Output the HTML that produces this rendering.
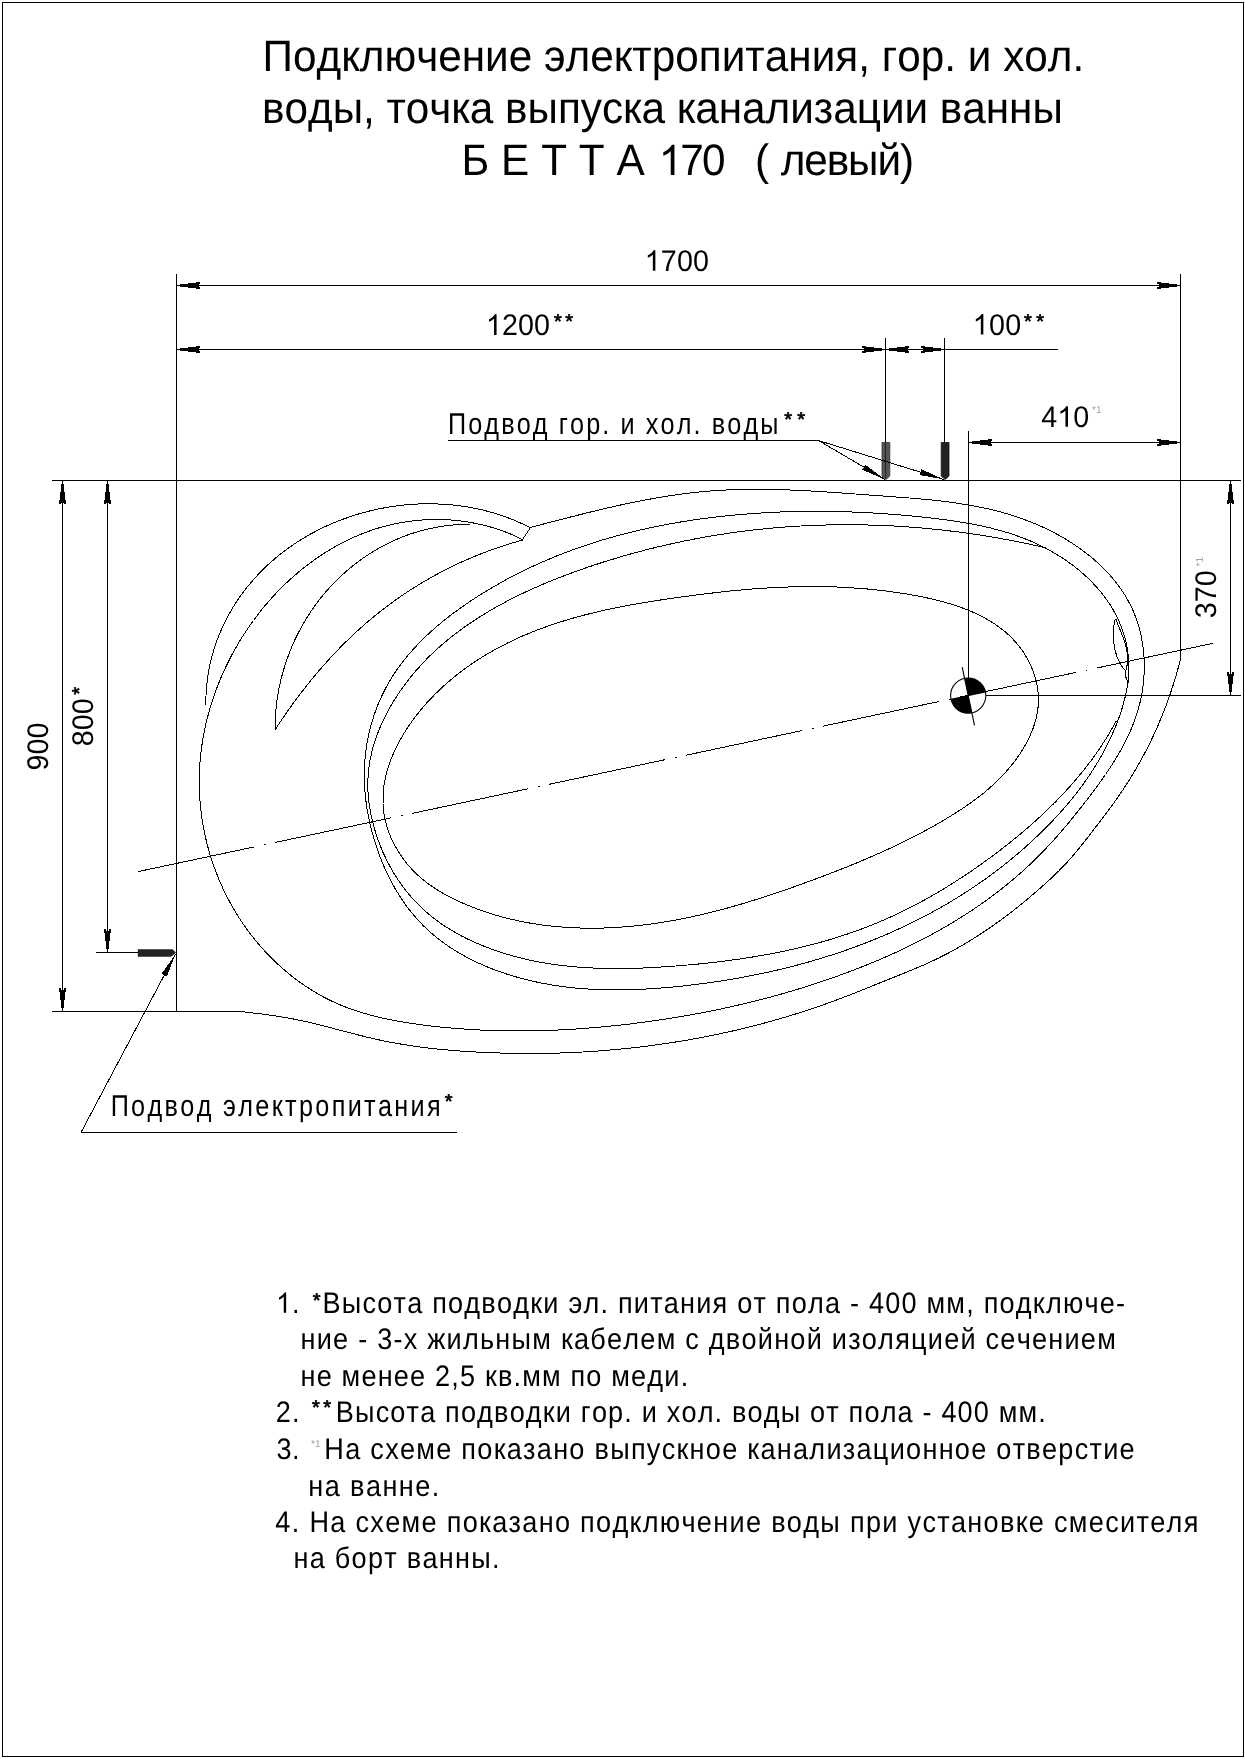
<!DOCTYPE html>
<html><head><meta charset="utf-8"><title>Бетта 170 левый</title>
<style>
html,body{margin:0;padding:0;background:#fff;}
body{width:1245px;height:1759px;overflow:hidden;}
svg{display:block;filter:grayscale(1);}
text{font-family:"Liberation Sans",sans-serif;fill:#000;white-space:pre;font-kerning:none;text-rendering:geometricPrecision;}
</style></head><body>
<svg width="1245" height="1759" viewBox="0 0 1245 1759">
<rect x="0" y="0" width="1245" height="1759" fill="#fff"/>

<rect x="2.5" y="2.5" width="1241" height="1754" fill="none" stroke="#000" stroke-width="1" shape-rendering="crispEdges"/>
<g stroke="#000" stroke-width="1" fill="none" shape-rendering="crispEdges">
<line x1="176.5" y1="274.0" x2="176.5" y2="1011.5"/>
<line x1="1180.5" y1="274.0" x2="1180.5" y2="659.0"/>
<line x1="52.0" y1="480.5" x2="1241.0" y2="480.5"/>
<line x1="52.0" y1="1011.5" x2="240.0" y2="1011.5"/>
<line x1="96.0" y1="952.5" x2="138.0" y2="952.5"/>
<line x1="885.5" y1="338.0" x2="885.5" y2="443.0"/>
<line x1="944.5" y1="338.0" x2="944.5" y2="443.0"/>
<line x1="968.5" y1="431.0" x2="968.5" y2="678.0"/>
<line x1="986.0" y1="695.5" x2="1241.0" y2="695.5"/>
<line x1="176.5" y1="285.5" x2="1180.5" y2="285.5"/>
<line x1="176.5" y1="349.5" x2="1057.5" y2="349.5"/>
<line x1="968.5" y1="442.5" x2="1180.5" y2="442.5"/>
<line x1="62.5" y1="480.5" x2="62.5" y2="1011.5"/>
<line x1="107.5" y1="480.5" x2="107.5" y2="952.5"/>
<line x1="1230.5" y1="480.5" x2="1230.5" y2="695.5"/>
<line x1="448.0" y1="440.5" x2="818.5" y2="440.5"/>
<line x1="818.5" y1="440.5" x2="885.0" y2="479.5"/>
<line x1="818.5" y1="440.5" x2="944.0" y2="479.5"/>
<line x1="81.0" y1="1132.5" x2="457.0" y2="1132.5"/>
<line x1="81.0" y1="1132.5" x2="175.5" y2="954.0"/>
</g>
<g stroke="#000" stroke-width="1" fill="none" shape-rendering="crispEdges">
<path d="M205.8,704.6 C205.8,704.1 205.8,702.6 205.9,701.6 C205.9,700.6 205.9,699.6 205.9,698.6 C205.9,697.6 206.0,696.6 206.0,695.6 C206.1,694.6 206.1,693.6 206.2,692.6 C206.2,691.6 206.3,690.6 206.4,689.6 C206.4,688.6 206.5,687.6 206.6,686.6 C206.7,685.6 206.8,684.6 206.9,683.6 C207.0,682.6 207.1,681.6 207.3,680.6 C207.4,679.6 207.5,678.6 207.7,677.6 C207.8,676.6 207.9,675.6 208.1,674.6 C208.3,673.6 208.4,672.7 208.6,671.7 C208.8,670.7 209.0,669.7 209.1,668.7 C209.3,667.7 209.5,666.7 209.7,665.8 C209.9,664.8 210.1,663.8 210.4,662.8 C210.6,661.9 210.8,660.9 211.1,659.9 C211.3,658.9 211.5,658.0 211.8,657.0 C212.1,656.0 212.3,655.1 212.6,654.1 C212.9,653.1 213.1,652.2 213.4,651.2 C213.7,650.2 214.0,649.3 214.3,648.3 C214.6,647.4 214.9,646.4 215.2,645.5 C215.5,644.5 215.9,643.6 216.2,642.6 C216.5,641.7 216.9,640.7 217.2,639.8 C217.6,638.9 217.9,637.9 218.3,637.0 C218.7,636.0 219.0,635.1 219.4,634.2 C219.8,633.3 220.2,632.3 220.6,631.4 C221.0,630.5 221.4,629.6 221.8,628.7 C222.2,627.7 222.6,626.8 223.0,625.9 C223.4,625.0 223.9,624.1 224.3,623.2 C224.7,622.3 225.2,621.4 225.6,620.5 C226.1,619.6 226.6,618.7 227.0,617.8 C227.5,617.0 228.0,616.1 228.4,615.2 C228.9,614.3 229.4,613.4 229.9,612.6 C230.4,611.7 230.9,610.8 231.4,610.0 C231.9,609.1 232.4,608.2 233.0,607.4 C233.5,606.5 234.0,605.7 234.6,604.8 C235.1,604.0 235.6,603.1 236.2,602.3 C236.7,601.5 237.3,600.6 237.8,599.8 C238.4,599.0 239.0,598.1 239.5,597.3 C240.1,596.5 240.7,595.7 241.3,594.9 C241.9,594.1 242.5,593.3 243.1,592.5 C243.7,591.6 244.3,590.8 244.9,590.1 C245.5,589.3 246.1,588.5 246.7,587.7 C247.4,586.9 248.0,586.1 248.6,585.3 C249.3,584.6 249.9,583.8 250.6,583.0 C251.2,582.3 251.8,581.5 252.5,580.8 C253.2,580.0 253.8,579.2 254.5,578.5 C255.2,577.8 255.8,577.0 256.5,576.3 C257.2,575.5 257.9,574.8 258.6,574.1 C259.3,573.4 260.0,572.6 260.7,571.9 C261.4,571.2 262.1,570.5 262.8,569.8 C263.5,569.1 264.2,568.4 264.9,567.7 C265.7,567.0 266.4,566.3 267.1,565.6 C267.8,564.9 268.6,564.2 269.3,563.6 C270.1,562.9 270.8,562.2 271.6,561.6 C272.3,560.9 273.1,560.2 273.8,559.6 C274.6,558.9 275.4,558.3 276.1,557.6 C276.9,557.0 277.7,556.4 278.4,555.7 C279.2,555.1 280.0,554.5 280.8,553.9 C281.6,553.2 282.4,552.6 283.2,552.0 C284.0,551.4 284.8,550.8 285.6,550.2 C286.4,549.6 287.2,549.0 288.0,548.4 C288.8,547.8 289.6,547.3 290.4,546.7 C291.3,546.1 292.1,545.5 292.9,545.0 C293.7,544.4 294.6,543.8 295.4,543.3 C296.2,542.7 297.1,542.2 297.9,541.6 C298.8,541.1 299.6,540.6 300.5,540.0 C301.3,539.5 302.2,539.0 303.0,538.5 C303.9,537.9 304.7,537.4 305.6,536.9 C306.5,536.4 307.3,535.9 308.2,535.4 C309.1,534.9 310.0,534.4 310.8,533.9 C311.7,533.5 312.6,533.0 313.5,532.5 C314.4,532.0 315.2,531.6 316.1,531.1 C317.0,530.6 317.9,530.2 318.8,529.7 C319.7,529.3 320.6,528.8 321.5,528.4 C322.4,528.0 323.3,527.5 324.2,527.1 C325.1,526.7 326.0,526.3 326.9,525.8 C327.9,525.4 328.8,525.0 329.7,524.6 C330.6,524.2 331.5,523.8 332.5,523.4 C333.4,523.0 334.3,522.6 335.2,522.3 C336.2,521.9 337.1,521.5 338.0,521.1 C338.9,520.8 339.9,520.4 340.8,520.0 C341.8,519.7 342.7,519.3 343.6,519.0 C344.6,518.6 345.5,518.3 346.5,518.0 C347.4,517.6 348.3,517.3 349.3,517.0 C350.2,516.6 351.2,516.3 352.1,516.0 C353.1,515.7 354.1,515.4 355.0,515.1 C356.0,514.8 356.9,514.5 357.9,514.2 C358.8,513.9 359.8,513.7 360.8,513.4 C361.7,513.1 362.7,512.8 363.7,512.6 C364.6,512.3 365.6,512.0 366.6,511.8 C367.5,511.5 368.5,511.3 369.5,511.0 C370.5,510.8 371.4,510.6 372.4,510.3 C373.4,510.1 374.4,509.9 375.3,509.7 C376.3,509.5 377.3,509.2 378.3,509.0 C379.3,508.8 380.2,508.6 381.2,508.4 C382.2,508.2 383.2,508.1 384.2,507.9 C385.2,507.7 386.2,507.5 387.1,507.3 C388.1,507.2 389.1,507.0 390.1,506.9 C391.1,506.7 392.1,506.5 393.1,506.4 C394.1,506.3 395.1,506.1 396.1,506.0 C397.0,505.8 398.0,505.7 399.0,505.6 C400.0,505.5 401.0,505.4 402.0,505.3 C403.0,505.1 404.0,505.0 405.0,504.9 C406.0,504.8 407.0,504.8 408.0,504.7 C409.0,504.6 410.0,504.5 411.0,504.4 C412.0,504.4 413.0,504.3 414.0,504.2 C415.0,504.2 416.0,504.1 417.0,504.1 C418.0,504.0 419.0,504.0 420.0,503.9 C421.0,503.9 422.0,503.9 423.0,503.8 C424.0,503.8 425.0,503.8 426.0,503.8 C427.0,503.8 428.0,503.8 429.0,503.8 C430.0,503.8 431.0,503.8 432.0,503.8 C433.0,503.8 434.0,503.8 435.0,503.9 C436.0,503.9 437.0,503.9 438.1,504.0 C439.1,504.0 440.1,504.0 441.1,504.1 C442.1,504.1 443.1,504.2 444.1,504.3 C445.1,504.3 446.1,504.4 447.1,504.5 C448.1,504.5 449.1,504.6 450.1,504.7 C451.1,504.8 452.0,504.9 453.0,505.0 C454.0,505.1 455.0,505.2 456.0,505.3 C457.0,505.5 458.0,505.6 459.0,505.7 C460.0,505.8 461.0,506.0 462.0,506.1 C463.0,506.2 464.0,506.4 465.0,506.5 C466.0,506.7 467.0,506.9 467.9,507.0 C468.9,507.2 469.9,507.4 470.9,507.6 C471.9,507.7 472.9,507.9 473.9,508.1 C474.8,508.3 475.8,508.5 476.8,508.7 C477.8,508.9 478.8,509.1 479.7,509.4 C480.7,509.6 481.7,509.8 482.7,510.0 C483.6,510.3 484.6,510.5 485.6,510.8 C486.6,511.0 487.5,511.3 488.5,511.5 C489.5,511.8 490.4,512.0 491.4,512.3 C492.4,512.6 493.3,512.9 494.3,513.2 C495.2,513.4 496.2,513.7 497.2,514.0 C498.1,514.3 499.1,514.7 500.0,515.0 C501.0,515.3 501.9,515.6 502.9,515.9 C503.8,516.3 504.8,516.6 505.7,516.9 C506.6,517.3 507.6,517.6 508.5,518.0 C509.5,518.3 510.4,518.7 511.3,519.1 C512.3,519.4 513.2,519.8 514.1,520.2 C515.0,520.6 516.0,521.0 516.9,521.4 C517.8,521.7 518.7,522.2 519.6,522.6 C520.6,523.0 521.5,523.4 522.4,523.8 C523.3,524.2 524.2,524.7 525.1,525.1 C526.0,525.5 526.9,526.0 527.8,526.4 C528.7,526.9 530.0,527.6 530.5,527.8"/>
<path d="M530.7,527.4 C531.2,527.2 532.6,526.9 533.6,526.6 C534.6,526.4 535.5,526.1 536.5,525.9 C537.5,525.6 538.5,525.3 539.4,525.1 C540.4,524.8 541.4,524.6 542.3,524.3 C543.3,524.1 544.3,523.8 545.2,523.6 C546.2,523.3 547.2,523.1 548.1,522.8 C549.1,522.6 550.1,522.3 551.0,522.1 C552.0,521.8 553.0,521.5 553.9,521.3 C554.9,521.0 555.9,520.8 556.9,520.5 C557.8,520.3 558.8,520.0 559.8,519.8 C560.7,519.5 561.7,519.3 562.7,519.0 C563.6,518.8 564.6,518.5 565.6,518.3 C566.5,518.0 567.5,517.8 568.5,517.5 C569.5,517.3 570.4,517.0 571.4,516.8 C572.4,516.5 573.3,516.3 574.3,516.1 C575.3,515.8 576.2,515.6 577.2,515.3 C578.2,515.1 579.2,514.8 580.1,514.6 C581.1,514.3 582.1,514.1 583.0,513.9 C584.0,513.6 585.0,513.4 586.0,513.1 C586.9,512.9 587.9,512.7 588.9,512.4 C589.8,512.2 590.8,511.9 591.8,511.7 C592.8,511.5 593.7,511.2 594.7,511.0 C595.7,510.8 596.7,510.5 597.6,510.3 C598.6,510.1 599.6,509.8 600.5,509.6 C601.5,509.4 602.5,509.1 603.5,508.9 C604.4,508.7 605.4,508.4 606.4,508.2 C607.4,508.0 608.3,507.8 609.3,507.5 C610.3,507.3 611.3,507.1 612.2,506.9 C613.2,506.7 614.2,506.4 615.2,506.2 C616.2,506.0 617.1,505.8 618.1,505.6 C619.1,505.3 620.1,505.1 621.0,504.9 C622.0,504.7 623.0,504.5 624.0,504.3 C625.0,504.1 625.9,503.9 626.9,503.7 C627.9,503.4 628.9,503.2 629.8,503.0 C630.8,502.8 631.8,502.6 632.8,502.4 C633.8,502.2 634.8,502.0 635.7,501.8 C636.7,501.6 637.7,501.4 638.7,501.2 C639.7,501.0 640.6,500.9 641.6,500.7 C642.6,500.5 643.6,500.3 644.6,500.1 C645.6,499.9 646.5,499.7 647.5,499.5 C648.5,499.4 649.5,499.2 650.5,499.0 C651.5,498.8 652.4,498.6 653.4,498.5 C654.4,498.3 655.4,498.1 656.4,497.9 C657.4,497.8 658.4,497.6 659.3,497.4 C660.3,497.3 661.3,497.1 662.3,496.9 C663.3,496.8 664.3,496.6 665.3,496.5 C666.3,496.3 667.3,496.1 668.2,496.0 C669.2,495.8 670.2,495.7 671.2,495.5 C672.2,495.4 673.2,495.2 674.2,495.1 C675.2,494.9 676.2,494.8 677.2,494.7 C678.1,494.5 679.1,494.4 680.1,494.2 C681.1,494.1 682.1,494.0 683.1,493.9 C684.1,493.7 685.1,493.6 686.1,493.5 C687.1,493.3 688.1,493.2 689.1,493.1 C690.1,493.0 691.1,492.9 692.0,492.8 C693.0,492.6 694.0,492.5 695.0,492.4 C696.0,492.3 697.0,492.2 698.0,492.1 C699.0,492.0 700.0,491.9 701.0,491.8 C702.0,491.7 703.0,491.6 704.0,491.5 C705.0,491.4 706.0,491.4 707.0,491.3 C708.0,491.2 709.0,491.1 710.0,491.0 C711.0,490.9 712.0,490.9 713.0,490.8 C714.0,490.7 715.0,490.7 716.0,490.6 C717.0,490.5 718.0,490.5 719.0,490.4 C720.0,490.3 721.0,490.3 722.0,490.2 C723.0,490.2 724.0,490.1 725.0,490.1 C726.0,490.0 727.0,490.0 728.0,489.9 C729.0,489.9 730.0,489.8 731.0,489.8 C732.0,489.8 733.0,489.7 734.0,489.7 C735.0,489.7 736.0,489.6 737.0,489.6 C738.0,489.6 739.0,489.5 740.0,489.5 C741.0,489.5 742.0,489.5 743.0,489.4 C744.0,489.4 745.0,489.4 746.0,489.4 C747.0,489.4 748.0,489.4 749.0,489.4 C750.0,489.3 751.0,489.3 752.0,489.3 C753.0,489.3 754.0,489.3 755.0,489.3 C756.0,489.3 757.0,489.3 758.0,489.3 C759.0,489.3 760.0,489.3 761.0,489.3 C762.0,489.3 763.0,489.3 764.0,489.4 C765.0,489.4 766.0,489.4 767.0,489.4 C768.0,489.4 769.0,489.4 770.0,489.4 C771.0,489.5 772.0,489.5 773.0,489.5 C774.0,489.5 775.0,489.5 776.0,489.6 C777.0,489.6 778.0,489.6 779.0,489.6 C780.0,489.7 781.0,489.7 782.0,489.7 C783.0,489.8 784.0,489.8 785.0,489.8 C786.0,489.9 787.0,489.9 788.0,489.9 C789.0,490.0 790.0,490.0 791.0,490.1 C792.0,490.1 793.0,490.1 794.0,490.2 C795.0,490.2 796.0,490.3 797.0,490.3 C798.0,490.4 799.0,490.4 800.0,490.5 C801.0,490.5 802.0,490.5 803.0,490.6 C804.0,490.7 805.0,490.7 806.0,490.8 C807.0,490.8 808.0,490.9 809.0,490.9 C810.0,491.0 811.0,491.0 812.0,491.1 C813.0,491.1 814.0,491.2 815.0,491.3 C816.0,491.3 817.0,491.4 818.0,491.4 C819.0,491.5 820.0,491.6 821.0,491.6 C822.0,491.7 823.0,491.7 824.0,491.8 C825.0,491.9 826.0,491.9 827.0,492.0 C828.0,492.1 829.0,492.1 830.0,492.2 C831.0,492.3 832.0,492.3 833.0,492.4 C834.0,492.5 835.0,492.5 836.0,492.6 C837.0,492.7 838.0,492.7 839.0,492.8 C840.0,492.9 841.0,493.0 842.0,493.0 C843.0,493.1 844.0,493.2 845.0,493.2 C846.0,493.3 847.0,493.4 848.0,493.5 C849.0,493.5 850.0,493.6 851.0,493.7 C852.0,493.7 852.9,493.8 853.9,493.9 C854.9,494.0 855.9,494.0 856.9,494.1 C857.9,494.2 858.9,494.3 859.9,494.3 C860.9,494.4 861.9,494.5 862.9,494.6 C863.9,494.6 864.9,494.7 865.9,494.8 C866.9,494.8 867.9,494.9 868.9,495.0 C869.9,495.1 870.9,495.1 871.9,495.2 C872.9,495.3 873.9,495.4 874.9,495.4 C875.9,495.5 876.9,495.6 877.9,495.6 C878.9,495.7 879.9,495.8 880.9,495.9 C881.9,495.9 882.9,496.0 883.9,496.1 C884.9,496.2 885.9,496.2 886.9,496.3 C887.9,496.4 888.9,496.4 889.9,496.5 C890.9,496.6 891.9,496.7 892.9,496.7 C893.9,496.8 894.9,496.9 895.9,497.0 C896.9,497.0 897.9,497.1 898.9,497.2 C899.9,497.2 900.9,497.3 901.9,497.4 C902.9,497.5 903.9,497.6 904.9,497.6 C905.9,497.7 906.9,497.8 907.9,497.9 C908.9,498.0 909.8,498.0 910.8,498.1 C911.8,498.2 912.8,498.3 913.8,498.4 C914.8,498.4 915.8,498.5 916.8,498.6 C917.8,498.7 918.8,498.8 919.8,498.9 C920.8,499.0 921.8,499.1 922.8,499.2 C923.8,499.3 924.8,499.3 925.8,499.4 C926.8,499.5 927.8,499.6 928.8,499.7 C929.8,499.8 930.8,499.9 931.8,500.0 C932.8,500.1 933.8,500.2 934.8,500.4 C935.8,500.5 936.8,500.6 937.7,500.7 C938.7,500.8 939.7,500.9 940.7,501.0 C941.7,501.1 942.7,501.3 943.7,501.4 C944.7,501.5 945.7,501.6 946.7,501.8 C947.7,501.9 948.7,502.0 949.7,502.1 C950.7,502.3 951.7,502.4 952.6,502.5 C953.6,502.7 954.6,502.8 955.6,503.0 C956.6,503.1 957.6,503.3 958.6,503.4 C959.6,503.5 960.6,503.7 961.6,503.9 C962.5,504.0 963.5,504.2 964.5,504.3 C965.5,504.5 966.5,504.7 967.5,504.8 C968.5,505.0 969.5,505.2 970.4,505.3 C971.4,505.5 972.4,505.7 973.4,505.9 C974.4,506.1 975.4,506.2 976.4,506.4 C977.3,506.6 978.3,506.8 979.3,507.0 C980.3,507.2 981.3,507.4 982.2,507.6 C983.2,507.8 984.2,508.0 985.2,508.3 C986.2,508.5 987.1,508.7 988.1,508.9 C989.1,509.1 990.1,509.4 991.0,509.6 C992.0,509.8 993.0,510.1 993.9,510.3 C994.9,510.5 995.9,510.8 996.9,511.0 C997.8,511.3 998.8,511.5 999.8,511.8 C1000.7,512.0 1001.7,512.3 1002.7,512.6 C1003.6,512.8 1004.6,513.1 1005.6,513.4 C1006.5,513.7 1007.5,514.0 1008.4,514.2 C1009.4,514.5 1010.4,514.8 1011.3,515.1 C1012.3,515.4 1013.2,515.7 1014.2,516.0 C1015.1,516.3 1016.1,516.6 1017.0,517.0 C1018.0,517.3 1018.9,517.6 1019.9,517.9 C1020.8,518.3 1021.8,518.6 1022.7,518.9 C1023.6,519.3 1024.6,519.6 1025.5,520.0 C1026.5,520.3 1027.4,520.7 1028.3,521.0 C1029.3,521.4 1030.2,521.8 1031.1,522.1 C1032.0,522.5 1033.0,522.9 1033.9,523.3 C1034.8,523.6 1035.7,524.0 1036.7,524.4 C1037.6,524.8 1038.5,525.2 1039.4,525.6 C1040.3,526.0 1041.3,526.4 1042.2,526.9 C1043.1,527.3 1044.0,527.7 1044.9,528.1 C1045.8,528.5 1046.7,529.0 1047.6,529.4 C1048.5,529.9 1049.4,530.3 1050.3,530.7 C1051.2,531.2 1052.1,531.6 1053.0,532.1 C1053.8,532.6 1054.7,533.0 1055.6,533.5 C1056.5,534.0 1057.4,534.5 1058.3,534.9 C1059.1,535.4 1060.0,535.9 1060.9,536.4 C1061.7,536.9 1062.6,537.4 1063.5,537.9 C1064.3,538.4 1065.2,538.9 1066.1,539.4 C1066.9,540.0 1067.8,540.5 1068.6,541.0 C1069.5,541.5 1070.3,542.1 1071.2,542.6 C1072.0,543.2 1072.8,543.7 1073.7,544.3 C1074.5,544.8 1075.3,545.4 1076.2,545.9 C1077.0,546.5 1077.8,547.1 1078.6,547.6 C1079.5,548.2 1080.3,548.8 1081.1,549.4 C1081.9,550.0 1082.7,550.6 1083.5,551.2 C1084.3,551.8 1085.1,552.4 1085.9,553.0 C1086.7,553.6 1087.5,554.2 1088.3,554.8 C1089.0,555.4 1089.8,556.1 1090.6,556.7 C1091.4,557.3 1092.1,558.0 1092.9,558.6 C1093.7,559.3 1094.4,559.9 1095.2,560.6 C1095.9,561.3 1096.7,561.9 1097.4,562.6 C1098.2,563.3 1098.9,563.9 1099.6,564.6 C1100.4,565.3 1101.1,566.0 1101.8,566.7 C1102.5,567.4 1103.2,568.1 1103.9,568.8 C1104.6,569.5 1105.3,570.2 1106.0,571.0 C1106.7,571.7 1107.4,572.4 1108.1,573.1 C1108.8,573.9 1109.4,574.6 1110.1,575.4 C1110.8,576.1 1111.4,576.9 1112.1,577.6 C1112.7,578.4 1113.4,579.2 1114.0,579.9 C1114.6,580.7 1115.3,581.5 1115.9,582.3 C1116.5,583.1 1117.1,583.9 1117.7,584.7 C1118.3,585.5 1118.9,586.3 1119.5,587.1 C1120.1,587.9 1120.7,588.7 1121.2,589.5 C1121.8,590.4 1122.4,591.2 1122.9,592.0 C1123.5,592.9 1124.0,593.7 1124.5,594.6 C1125.1,595.4 1125.6,596.3 1126.1,597.1 C1126.6,598.0 1127.1,598.8 1127.6,599.7 C1128.1,600.6 1128.6,601.5 1129.0,602.4 C1129.5,603.2 1130.0,604.1 1130.4,605.0 C1130.9,605.9 1131.3,606.8 1131.7,607.7 C1132.1,608.6 1132.6,609.5 1133.0,610.5 C1133.4,611.4 1133.8,612.3 1134.1,613.2 C1134.5,614.1 1134.9,615.1 1135.2,616.0 C1135.6,616.9 1136.0,617.9 1136.3,618.8 C1136.6,619.8 1136.9,620.7 1137.3,621.7 C1137.6,622.6 1137.9,623.6 1138.2,624.5 C1138.5,625.5 1138.7,626.4 1139.0,627.4 C1139.3,628.4 1139.6,629.3 1139.8,630.3 C1140.0,631.3 1140.3,632.2 1140.5,633.2 C1140.7,634.2 1141.0,635.2 1141.2,636.2 C1141.4,637.1 1141.6,638.1 1141.8,639.1 C1141.9,640.1 1142.1,641.1 1142.3,642.1 C1142.4,643.0 1142.6,644.0 1142.7,645.0 C1142.9,646.0 1143.0,647.0 1143.1,648.0 C1143.3,649.0 1143.4,650.0 1143.5,651.0 C1143.6,652.0 1143.7,653.0 1143.8,654.0 C1143.8,655.0 1143.9,656.0 1144.0,657.0 C1144.0,658.0 1144.1,659.0 1144.1,660.0 C1144.2,661.0 1144.2,662.0 1144.2,663.0 C1144.2,664.0 1144.3,665.0 1144.3,666.0 C1144.3,667.0 1144.2,668.0 1144.2,669.0 C1144.2,670.0 1144.2,671.0 1144.1,672.0 C1144.1,673.0 1144.1,674.0 1144.0,675.0 C1144.0,676.0 1143.9,677.0 1143.8,678.0 C1143.7,679.0 1143.7,680.0 1143.6,681.0 C1143.5,682.0 1143.4,683.0 1143.2,684.0 C1143.1,684.9 1143.0,685.9 1142.9,686.9 C1142.7,687.9 1142.6,688.9 1142.4,689.9 C1142.3,690.9 1142.1,691.9 1142.0,692.9 C1141.8,693.9 1141.6,694.8 1141.4,695.8 C1141.2,696.8 1141.0,697.8 1140.8,698.8 C1140.6,699.7 1140.4,700.7 1140.2,701.7 C1140.0,702.7 1139.7,703.6 1139.5,704.6 C1139.2,705.6 1139.0,706.6 1138.7,707.5 C1138.4,708.5 1138.2,709.5 1137.9,710.4 C1137.6,711.4 1137.3,712.3 1137.0,713.3 C1136.7,714.2 1136.4,715.2 1136.1,716.1 C1135.8,717.1 1135.4,718.0 1135.1,719.0 C1134.8,719.9 1134.4,720.9 1134.1,721.8 C1133.7,722.7 1133.4,723.7 1133.0,724.6 C1132.6,725.5 1132.3,726.5 1131.9,727.4 C1131.5,728.3 1131.1,729.2 1130.7,730.2 C1130.3,731.1 1129.9,732.0 1129.5,732.9 C1129.1,733.8 1128.7,734.7 1128.2,735.6 C1127.8,736.5 1127.4,737.4 1126.9,738.3 C1126.5,739.2 1126.1,740.1 1125.6,741.0 C1125.2,741.9 1124.7,742.8 1124.2,743.7 C1123.8,744.6 1123.3,745.5 1122.8,746.4 C1122.4,747.2 1121.9,748.1 1121.4,749.0 C1120.9,749.9 1120.4,750.7 1119.9,751.6 C1119.4,752.5 1118.9,753.3 1118.4,754.2 C1117.9,755.1 1117.4,755.9 1116.9,756.8 C1116.4,757.7 1115.9,758.5 1115.3,759.4 C1114.8,760.2 1114.3,761.1 1113.8,761.9 C1113.2,762.8 1112.7,763.6 1112.2,764.4 C1111.6,765.3 1111.1,766.1 1110.5,767.0 C1110.0,767.8 1109.4,768.6 1108.9,769.5 C1108.3,770.3 1107.8,771.1 1107.2,772.0 C1106.6,772.8 1106.1,773.6 1105.5,774.5 C1104.9,775.3 1104.4,776.1 1103.8,776.9 C1103.2,777.7 1102.6,778.6 1102.1,779.4 C1101.5,780.2 1100.9,781.0 1100.3,781.8 C1099.7,782.6 1099.2,783.4 1098.6,784.3 C1098.0,785.1 1097.4,785.9 1096.8,786.7 C1096.2,787.5 1095.6,788.3 1095.0,789.1 C1094.4,789.9 1093.8,790.7 1093.2,791.5 C1092.6,792.3 1092.0,793.1 1091.4,793.9 C1090.8,794.7 1090.2,795.5 1089.6,796.3 C1089.0,797.1 1088.4,797.9 1087.8,798.7 C1087.2,799.5 1086.5,800.3 1085.9,801.1 C1085.3,801.9 1084.7,802.6 1084.1,803.4 C1083.5,804.2 1082.9,805.0 1082.3,805.8 C1081.6,806.6 1081.0,807.4 1080.4,808.2 C1079.8,808.9 1079.2,809.7 1078.5,810.5 C1077.9,811.3 1077.3,812.1 1076.7,812.9 C1076.0,813.6 1075.4,814.4 1074.8,815.2 C1074.2,816.0 1073.5,816.8 1072.9,817.5 C1072.3,818.3 1071.6,819.1 1071.0,819.9 C1070.4,820.6 1069.7,821.4 1069.1,822.2 C1068.4,823.0 1067.8,823.7 1067.2,824.5 C1066.5,825.3 1065.9,826.0 1065.2,826.8 C1064.6,827.6 1063.9,828.3 1063.3,829.1 C1062.6,829.8 1062.0,830.6 1061.3,831.4 C1060.7,832.1 1060.0,832.9 1059.4,833.6 C1058.7,834.4 1058.0,835.1 1057.4,835.9 C1056.7,836.6 1056.1,837.4 1055.4,838.1 C1054.7,838.9 1054.1,839.6 1053.4,840.4 C1052.7,841.1 1052.0,841.9 1051.4,842.6 C1050.7,843.3 1050.0,844.1 1049.3,844.8 C1048.7,845.5 1048.0,846.3 1047.3,847.0 C1046.6,847.7 1045.9,848.5 1045.2,849.2 C1044.5,849.9 1043.8,850.6 1043.2,851.4 C1042.5,852.1 1041.8,852.8 1041.1,853.5 C1040.4,854.2 1039.7,854.9 1039.0,855.6 C1038.2,856.4 1037.5,857.1 1036.8,857.8 C1036.1,858.5 1035.4,859.2 1034.7,859.9 C1034.0,860.6 1033.3,861.3 1032.5,862.0 C1031.8,862.7 1031.1,863.4 1030.4,864.0 C1029.6,864.7 1028.9,865.4 1028.2,866.1 C1027.4,866.8 1026.7,867.5 1026.0,868.1 C1025.2,868.8 1024.5,869.5 1023.8,870.2 C1023.0,870.8 1022.3,871.5 1021.5,872.2 C1020.8,872.8 1020.0,873.5 1019.3,874.2 C1018.5,874.8 1017.8,875.5 1017.0,876.1 C1016.3,876.8 1015.5,877.4 1014.7,878.1 C1014.0,878.7 1013.2,879.4 1012.4,880.0 C1011.7,880.7 1010.9,881.3 1010.1,882.0 C1009.4,882.6 1008.6,883.2 1007.8,883.9 C1007.0,884.5 1006.3,885.1 1005.5,885.8 C1004.7,886.4 1003.9,887.0 1003.1,887.6 C1002.4,888.3 1001.6,888.9 1000.8,889.5 C1000.0,890.1 999.2,890.7 998.4,891.3 C997.6,892.0 996.8,892.6 996.0,893.2 C995.2,893.8 994.4,894.4 993.6,895.0 C992.8,895.6 992.0,896.2 991.2,896.8 C990.4,897.4 989.6,898.0 988.8,898.5 C988.0,899.1 987.2,899.7 986.4,900.3 C985.6,900.9 984.7,901.5 983.9,902.1 C983.1,902.6 982.3,903.2 981.5,903.8 C980.7,904.4 979.8,904.9 979.0,905.5 C978.2,906.1 977.4,906.6 976.5,907.2 C975.7,907.8 974.9,908.3 974.0,908.9 C973.2,909.4 972.4,910.0 971.5,910.6 C970.7,911.1 969.9,911.7 969.0,912.2 C968.2,912.8 967.4,913.3 966.5,913.8 C965.7,914.4 964.8,914.9 964.0,915.5 C963.2,916.0 962.3,916.5 961.5,917.1 C960.6,917.6 959.8,918.1 958.9,918.7 C958.1,919.2 957.2,919.7 956.4,920.2 C955.5,920.8 954.6,921.3 953.8,921.8 C952.9,922.3 952.1,922.8 951.2,923.3 C950.4,923.9 949.5,924.4 948.6,924.9 C947.8,925.4 946.9,925.9 946.0,926.4 C945.2,926.9 944.3,927.4 943.4,927.9 C942.6,928.4 941.7,928.9 940.8,929.4 C940.0,929.9 939.1,930.4 938.2,930.9 C937.3,931.3 936.5,931.8 935.6,932.3 C934.7,932.8 933.8,933.3 933.0,933.8 C932.1,934.2 931.2,934.7 930.3,935.2 C929.4,935.7 928.6,936.1 927.7,936.6 C926.8,937.1 925.9,937.5 925.0,938.0 C924.1,938.5 923.2,938.9 922.4,939.4 C921.5,939.9 920.6,940.3 919.7,940.8 C918.8,941.2 917.9,941.7 917.0,942.1 C916.1,942.6 915.2,943.0 914.3,943.5 C913.4,943.9 912.5,944.4 911.6,944.8 C910.7,945.3 909.8,945.7 908.9,946.2 C908.0,946.6 907.1,947.0 906.2,947.5 C905.3,947.9 904.4,948.3 903.5,948.8 C902.6,949.2 901.7,949.6 900.8,950.0 C899.9,950.5 899.0,950.9 898.1,951.3 C897.2,951.7 896.3,952.2 895.4,952.6 C894.5,953.0 893.5,953.4 892.6,953.8 C891.7,954.2 890.8,954.6 889.9,955.0 C889.0,955.5 888.1,955.9 887.2,956.3 C886.2,956.7 885.3,957.1 884.4,957.5 C883.5,957.9 882.6,958.3 881.7,958.7 C880.7,959.1 879.8,959.5 878.9,959.9 C878.0,960.3 877.1,960.6 876.1,961.0 C875.2,961.4 874.3,961.8 873.4,962.2 C872.4,962.6 871.5,963.0 870.6,963.3 C869.7,963.7 868.7,964.1 867.8,964.5 C866.9,964.9 866.0,965.2 865.0,965.6 C864.1,966.0 863.2,966.4 862.2,966.7 C861.3,967.1 860.4,967.5 859.4,967.8 C858.5,968.2 857.6,968.6 856.6,968.9 C855.7,969.3 854.8,969.6 853.8,970.0 C852.9,970.4 852.0,970.7 851.0,971.1 C850.1,971.4 849.2,971.8 848.2,972.1 C847.3,972.5 846.4,972.8 845.4,973.2 C844.5,973.5 843.5,973.9 842.6,974.2 C841.7,974.6 840.7,974.9 839.8,975.2 C838.8,975.6 837.9,975.9 836.9,976.3 C836.0,976.6 835.1,976.9 834.1,977.3 C833.2,977.6 832.2,977.9 831.3,978.3 C830.3,978.6 829.4,978.9 828.5,979.3 C827.5,979.6 826.6,979.9 825.6,980.2 C824.7,980.6 823.7,980.9 822.8,981.2 C821.8,981.5 820.9,981.8 819.9,982.2 C819.0,982.5 818.0,982.8 817.1,983.1 C816.1,983.4 815.2,983.7 814.2,984.0 C813.3,984.3 812.3,984.7 811.4,985.0 C810.4,985.3 809.5,985.6 808.5,985.9 C807.5,986.2 806.6,986.5 805.6,986.8 C804.7,987.1 803.7,987.4 802.8,987.7 C801.8,988.0 800.9,988.3 799.9,988.6 C798.9,988.9 798.0,989.2 797.0,989.4 C796.1,989.7 795.1,990.0 794.2,990.3 C793.2,990.6 792.2,990.9 791.3,991.2 C790.3,991.5 789.4,991.7 788.4,992.0 C787.4,992.3 786.5,992.6 785.5,992.9 C784.6,993.1 783.6,993.4 782.6,993.7 C781.7,994.0 780.7,994.2 779.7,994.5 C778.8,994.8 777.8,995.0 776.8,995.3 C775.9,995.6 774.9,995.8 774.0,996.1 C773.0,996.4 772.0,996.6 771.1,996.9 C770.1,997.2 769.1,997.4 768.2,997.7 C767.2,997.9 766.2,998.2 765.3,998.4 C764.3,998.7 763.3,999.0 762.3,999.2 C761.4,999.5 760.4,999.7 759.4,1000.0 C758.5,1000.2 757.5,1000.5 756.5,1000.7 C755.6,1000.9 754.6,1001.2 753.6,1001.4 C752.6,1001.7 751.7,1001.9 750.7,1002.2 C749.7,1002.4 748.8,1002.6 747.8,1002.9 C746.8,1003.1 745.8,1003.3 744.9,1003.6 C743.9,1003.8 742.9,1004.0 741.9,1004.3 C741.0,1004.5 740.0,1004.7 739.0,1004.9 C738.0,1005.2 737.1,1005.4 736.1,1005.6 C735.1,1005.8 734.1,1006.1 733.2,1006.3 C732.2,1006.5 731.2,1006.7 730.2,1006.9 C729.3,1007.2 728.3,1007.4 727.3,1007.6 C726.3,1007.8 725.3,1008.0 724.4,1008.2 C723.4,1008.4 722.4,1008.6 721.4,1008.9 C720.5,1009.1 719.5,1009.3 718.5,1009.5 C717.5,1009.7 716.5,1009.9 715.6,1010.1 C714.6,1010.3 713.6,1010.5 712.6,1010.7 C711.6,1010.9 710.6,1011.1 709.7,1011.3 C708.7,1011.5 707.7,1011.7 706.7,1011.9 C705.7,1012.1 704.8,1012.2 703.8,1012.4 C702.8,1012.6 701.8,1012.8 700.8,1013.0 C699.8,1013.2 698.9,1013.4 697.9,1013.6 C696.9,1013.7 695.9,1013.9 694.9,1014.1 C693.9,1014.3 693.0,1014.5 692.0,1014.6 C691.0,1014.8 690.0,1015.0 689.0,1015.2 C688.0,1015.3 687.0,1015.5 686.1,1015.7 C685.1,1015.9 684.1,1016.0 683.1,1016.2 C682.1,1016.4 681.1,1016.5 680.1,1016.7 C679.1,1016.9 678.2,1017.0 677.2,1017.2 C676.2,1017.4 675.2,1017.5 674.2,1017.7 C673.2,1017.8 672.2,1018.0 671.2,1018.2 C670.3,1018.3 669.3,1018.5 668.3,1018.6 C667.3,1018.8 666.3,1018.9 665.3,1019.1 C664.3,1019.2 663.3,1019.4 662.3,1019.5 C661.4,1019.7 660.4,1019.8 659.4,1020.0 C658.4,1020.1 657.4,1020.3 656.4,1020.4 C655.4,1020.6 654.4,1020.7 653.4,1020.8 C652.4,1021.0 651.4,1021.1 650.5,1021.3 C649.5,1021.4 648.5,1021.5 647.5,1021.7 C646.5,1021.8 645.5,1021.9 644.5,1022.1 C643.5,1022.2 642.5,1022.3 641.5,1022.5 C640.5,1022.6 639.5,1022.7 638.5,1022.9 C637.6,1023.0 636.6,1023.1 635.6,1023.2 C634.6,1023.4 633.6,1023.5 632.6,1023.6 C631.6,1023.7 630.6,1023.8 629.6,1024.0 C628.6,1024.1 627.6,1024.2 626.6,1024.3 C625.6,1024.4 624.6,1024.5 623.6,1024.7 C622.6,1024.8 621.7,1024.9 620.7,1025.0 C619.7,1025.1 618.7,1025.2 617.7,1025.3 C616.7,1025.4 615.7,1025.5 614.7,1025.6 C613.7,1025.7 612.7,1025.8 611.7,1025.9 C610.7,1026.0 609.7,1026.1 608.7,1026.2 C607.7,1026.3 606.7,1026.4 605.7,1026.5 C604.7,1026.6 603.7,1026.7 602.7,1026.8 C601.7,1026.9 600.7,1027.0 599.7,1027.1 C598.7,1027.2 597.7,1027.3 596.7,1027.4 C595.8,1027.4 594.8,1027.5 593.8,1027.6 C592.8,1027.7 591.8,1027.8 590.8,1027.9 C589.8,1027.9 588.8,1028.0 587.8,1028.1 C586.8,1028.2 585.8,1028.2 584.8,1028.3 C583.8,1028.4 582.8,1028.5 581.8,1028.5 C580.8,1028.6 579.8,1028.7 578.8,1028.8 C577.8,1028.8 576.8,1028.9 575.8,1029.0 C574.8,1029.0 573.8,1029.1 572.8,1029.1 C571.8,1029.2 570.8,1029.3 569.8,1029.3 C568.8,1029.4 567.8,1029.4 566.8,1029.5 C565.8,1029.6 564.8,1029.6 563.8,1029.7 C562.8,1029.7 561.8,1029.8 560.8,1029.8 C559.8,1029.9 558.8,1029.9 557.8,1030.0 C556.8,1030.0 555.8,1030.0 554.8,1030.1 C553.8,1030.1 552.8,1030.2 551.8,1030.2 C550.8,1030.2 549.8,1030.3 548.8,1030.3 C547.8,1030.4 546.8,1030.4 545.8,1030.4 C544.8,1030.5 543.8,1030.5 542.8,1030.5 C541.8,1030.5 540.8,1030.6 539.8,1030.6 C538.8,1030.6 537.8,1030.6 536.8,1030.7 C535.8,1030.7 534.8,1030.7 533.8,1030.7 C532.8,1030.7 531.8,1030.8 530.8,1030.8 C529.8,1030.8 528.8,1030.8 527.8,1030.8 C526.8,1030.8 525.8,1030.8 524.8,1030.8 C523.8,1030.9 522.8,1030.9 521.8,1030.9 C520.8,1030.9 519.8,1030.9 518.8,1030.9 C517.8,1030.9 516.8,1030.9 515.8,1030.9 C514.8,1030.9 513.8,1030.9 512.8,1030.9 C511.8,1030.8 510.8,1030.8 509.8,1030.8 C508.8,1030.8 507.8,1030.8 506.8,1030.8 C505.8,1030.8 504.8,1030.8 503.8,1030.7 C502.8,1030.7 501.8,1030.7 500.8,1030.7 C499.8,1030.7 498.8,1030.6 497.8,1030.6 C496.8,1030.6 495.8,1030.6 494.8,1030.5 C493.8,1030.5 492.8,1030.5 491.8,1030.4 C490.8,1030.4 489.8,1030.4 488.8,1030.3 C487.8,1030.3 486.8,1030.3 485.8,1030.2 C484.8,1030.2 483.8,1030.1 482.8,1030.1 C481.8,1030.0 480.8,1030.0 479.8,1030.0 C478.8,1029.9 477.8,1029.9 476.8,1029.8 C475.8,1029.8 474.8,1029.7 473.8,1029.6 C472.8,1029.6 471.8,1029.5 470.8,1029.5 C469.8,1029.4 468.8,1029.3 467.8,1029.3 C466.8,1029.2 465.8,1029.2 464.8,1029.1 C463.8,1029.0 462.8,1028.9 461.8,1028.9 C460.8,1028.8 459.8,1028.7 458.8,1028.6 C457.8,1028.6 456.8,1028.5 455.8,1028.4 C454.8,1028.3 453.8,1028.3 452.8,1028.2 C451.8,1028.1 450.8,1028.0 449.8,1027.9 C448.8,1027.8 447.8,1027.7 446.8,1027.6 C445.8,1027.5 444.8,1027.4 443.8,1027.3 C442.8,1027.3 441.8,1027.2 440.8,1027.1 C439.8,1027.0 438.8,1026.8 437.8,1026.7 C436.8,1026.6 435.8,1026.5 434.9,1026.4 C433.9,1026.3 432.9,1026.2 431.9,1026.1 C430.9,1026.0 429.9,1025.9 428.9,1025.7 C427.9,1025.6 426.9,1025.5 425.9,1025.4 C424.9,1025.3 423.9,1025.1 422.9,1025.0 C421.9,1024.9 420.9,1024.7 419.9,1024.6 C419.0,1024.5 418.0,1024.3 417.0,1024.2 C416.0,1024.1 415.0,1023.9 414.0,1023.8 C413.0,1023.6 412.0,1023.5 411.0,1023.4 C410.0,1023.2 409.0,1023.1 408.1,1022.9 C407.1,1022.7 406.1,1022.6 405.1,1022.4 C404.1,1022.3 403.1,1022.1 402.1,1021.9 C401.1,1021.8 400.2,1021.6 399.2,1021.4 C398.2,1021.2 397.2,1021.1 396.2,1020.9 C395.2,1020.7 394.2,1020.5 393.3,1020.3 C392.3,1020.1 391.3,1019.9 390.3,1019.8 C389.3,1019.6 388.4,1019.4 387.4,1019.1 C386.4,1018.9 385.4,1018.7 384.4,1018.5 C383.5,1018.3 382.5,1018.1 381.5,1017.9 C380.5,1017.6 379.6,1017.4 378.6,1017.2 C377.6,1016.9 376.6,1016.7 375.7,1016.5 C374.7,1016.2 373.7,1016.0 372.8,1015.7 C371.8,1015.5 370.8,1015.2 369.9,1015.0 C368.9,1014.7 367.9,1014.4 367.0,1014.1 C366.0,1013.9 365.0,1013.6 364.1,1013.3 C363.1,1013.0 362.2,1012.7 361.2,1012.4 C360.2,1012.1 359.3,1011.8 358.3,1011.5 C357.4,1011.2 356.4,1010.9 355.5,1010.6 C354.5,1010.3 353.6,1010.0 352.6,1009.6 C351.7,1009.3 350.8,1009.0 349.8,1008.6 C348.9,1008.3 347.9,1007.9 347.0,1007.6 C346.1,1007.2 345.1,1006.9 344.2,1006.5 C343.3,1006.1 342.3,1005.8 341.4,1005.4 C340.5,1005.0 339.6,1004.6 338.7,1004.2 C337.7,1003.8 336.8,1003.4 335.9,1003.0 C335.0,1002.6 334.1,1002.2 333.2,1001.8 C332.3,1001.3 331.4,1000.9 330.5,1000.5 C329.5,1000.0 328.7,999.6 327.8,999.2 C326.9,998.7 326.0,998.2 325.1,997.8 C324.2,997.3 323.3,996.9 322.4,996.4 C321.6,995.9 320.7,995.4 319.8,994.9 C318.9,994.4 318.1,993.9 317.2,993.4 C316.3,992.9 315.5,992.4 314.6,991.9 C313.7,991.4 312.9,990.9 312.0,990.3 C311.2,989.8 310.3,989.3 309.5,988.7 C308.7,988.2 307.8,987.7 307.0,987.1 C306.1,986.6 305.3,986.0 304.5,985.4 C303.7,984.9 302.8,984.3 302.0,983.7 C301.2,983.2 300.4,982.6 299.6,982.0 C298.8,981.4 298.0,980.8 297.1,980.2 C296.3,979.6 295.5,979.0 294.7,978.4 C294.0,977.8 293.2,977.2 292.4,976.6 C291.6,976.0 290.8,975.3 290.0,974.7 C289.2,974.1 288.5,973.5 287.7,972.8 C286.9,972.2 286.2,971.5 285.4,970.9 C284.6,970.2 283.9,969.6 283.1,968.9 C282.4,968.3 281.6,967.6 280.9,966.9 C280.1,966.3 279.4,965.6 278.6,964.9 C277.9,964.2 277.2,963.6 276.4,962.9 C275.7,962.2 275.0,961.5 274.3,960.8 C273.5,960.1 272.8,959.4 272.1,958.7 C271.4,958.0 270.7,957.3 270.0,956.6 C269.3,955.9 268.6,955.1 267.9,954.4 C267.2,953.7 266.5,953.0 265.8,952.2 C265.2,951.5 264.5,950.8 263.8,950.0 C263.1,949.3 262.5,948.6 261.8,947.8 C261.1,947.1 260.5,946.3 259.8,945.5 C259.2,944.8 258.5,944.0 257.9,943.3 C257.2,942.5 256.6,941.7 255.9,941.0 C255.3,940.2 254.7,939.4 254.1,938.6 C253.4,937.8 252.8,937.1 252.2,936.3 C251.6,935.5 251.0,934.7 250.4,933.9 C249.7,933.1 249.1,932.3 248.6,931.5 C248.0,930.7 247.4,929.9 246.8,929.1 C246.2,928.3 245.6,927.4 245.0,926.6 C244.5,925.8 243.9,925.0 243.3,924.2 C242.7,923.3 242.2,922.5 241.6,921.7 C241.1,920.8 240.5,920.0 240.0,919.2 C239.4,918.3 238.9,917.5 238.4,916.6 C237.8,915.8 237.3,914.9 236.8,914.1 C236.2,913.2 235.7,912.4 235.2,911.5 C234.7,910.7 234.2,909.8 233.7,908.9 C233.2,908.1 232.7,907.2 232.2,906.3 C231.7,905.5 231.2,904.6 230.7,903.7 C230.2,902.8 229.7,902.0 229.3,901.1 C228.8,900.2 228.3,899.3 227.9,898.4 C227.4,897.5 226.9,896.7 226.5,895.8 C226.0,894.9 225.6,894.0 225.2,893.1 C224.7,892.2 224.3,891.3 223.8,890.4 C223.4,889.5 223.0,888.6 222.6,887.7 C222.2,886.7 221.7,885.8 221.3,884.9 C220.9,884.0 220.5,883.1 220.1,882.2 C219.7,881.2 219.3,880.3 218.9,879.4 C218.6,878.5 218.2,877.6 217.8,876.6 C217.4,875.7 217.1,874.8 216.7,873.8 C216.3,872.9 216.0,872.0 215.6,871.0 C215.3,870.1 214.9,869.2 214.6,868.2 C214.2,867.3 213.9,866.3 213.6,865.4 C213.2,864.4 212.9,863.5 212.6,862.6 C212.3,861.6 211.9,860.7 211.6,859.7 C211.3,858.8 211.0,857.8 210.7,856.8 C210.4,855.9 210.1,854.9 209.8,854.0 C209.6,853.0 209.3,852.1 209.0,851.1 C208.7,850.1 208.5,849.2 208.2,848.2 C207.9,847.2 207.7,846.3 207.4,845.3 C207.2,844.3 206.9,843.4 206.7,842.4 C206.4,841.4 206.2,840.4 206.0,839.5 C205.7,838.5 205.5,837.5 205.3,836.5 C205.1,835.6 204.9,834.6 204.7,833.6 C204.5,832.6 204.3,831.6 204.1,830.7 C203.9,829.7 203.7,828.7 203.5,827.7 C203.3,826.7 203.1,825.7 203.0,824.8 C202.8,823.8 202.6,822.8 202.5,821.8 C202.3,820.8 202.1,819.8 202.0,818.8 C201.8,817.8 201.7,816.9 201.6,815.9 C201.4,814.9 201.3,813.9 201.2,812.9 C201.1,811.9 200.9,810.9 200.8,809.9 C200.7,808.9 200.6,807.9 200.5,806.9 C200.4,805.9 200.3,804.9 200.2,803.9 C200.1,802.9 200.0,801.9 200.0,800.9 C199.9,799.9 199.8,798.9 199.7,797.9 C199.7,796.9 199.6,795.9 199.6,794.9 C199.5,793.9 199.5,792.9 199.4,791.9 C199.4,790.9 199.3,789.9 199.3,788.9 C199.3,787.9 199.3,786.9 199.2,785.9 C199.2,784.9 199.2,783.9 199.2,782.9 C199.2,781.9 199.2,780.9 199.2,779.9 C199.2,778.9 199.2,777.9 199.3,776.9 C199.3,775.9 199.3,774.9 199.3,773.9 C199.4,772.9 199.4,771.9 199.4,770.9 C199.5,769.9 199.5,768.9 199.6,767.9 C199.6,766.9 199.7,765.9 199.8,764.9 C199.8,763.9 199.9,762.9 200.0,761.9 C200.1,760.9 200.2,759.9 200.2,758.9 C200.3,757.9 200.4,756.9 200.5,756.0 C200.6,755.0 200.8,754.0 200.9,753.0 C201.0,752.0 201.1,751.0 201.2,750.0 C201.4,749.0 201.5,748.0 201.6,747.0 C201.8,746.0 201.9,745.0 202.1,744.0 C202.2,743.0 202.4,742.1 202.5,741.1 C202.7,740.1 202.9,739.1 203.0,738.1 C203.2,737.1 203.4,736.1 203.6,735.2 C203.7,734.2 203.9,733.2 204.1,732.2 C204.3,731.2 204.5,730.2 204.7,729.3 C204.9,728.3 205.1,727.3 205.4,726.3 C205.6,725.4 205.8,724.4 206.0,723.4 C206.3,722.4 206.5,721.5 206.7,720.5 C207.0,719.5 207.2,718.5 207.5,717.6 C207.7,716.6 208.0,715.6 208.2,714.7 C208.5,713.7 208.7,712.7 209.0,711.8 C209.3,710.8 209.6,709.8 209.8,708.9 C210.1,707.9 210.4,707.0 210.7,706.0 C211.0,705.0 211.3,704.1 211.6,703.1 C211.9,702.2 212.2,701.2 212.5,700.3 C212.8,699.3 213.1,698.4 213.5,697.4 C213.8,696.5 214.1,695.5 214.4,694.6 C214.8,693.6 215.1,692.7 215.4,691.8 C215.8,690.8 216.1,689.9 216.5,688.9 C216.8,688.0 217.2,687.1 217.6,686.1 C217.9,685.2 218.3,684.3 218.7,683.3 C219.0,682.4 219.4,681.5 219.8,680.6 C220.2,679.6 220.6,678.7 220.9,677.8 C221.3,676.9 221.7,676.0 222.1,675.0 C222.5,674.1 222.9,673.2 223.4,672.3 C223.8,671.4 224.2,670.5 224.6,669.6 C225.0,668.6 225.4,667.7 225.9,666.8 C226.3,665.9 226.7,665.0 227.2,664.1 C227.6,663.2 228.1,662.3 228.5,661.4 C229.0,660.5 229.4,659.7 229.9,658.8 C230.3,657.9 230.8,657.0 231.2,656.1 C231.7,655.2 232.2,654.3 232.7,653.4 C233.1,652.6 233.6,651.7 234.1,650.8 C234.6,649.9 235.1,649.1 235.6,648.2 C236.1,647.3 236.6,646.5 237.1,645.6 C237.6,644.7 238.1,643.9 238.6,643.0 C239.1,642.1 239.6,641.3 240.1,640.4 C240.7,639.6 241.2,638.7 241.7,637.9 C242.2,637.0 242.8,636.2 243.3,635.3 C243.8,634.5 244.4,633.6 244.9,632.8 C245.5,632.0 246.0,631.1 246.6,630.3 C247.1,629.5 247.7,628.6 248.3,627.8 C248.8,627.0 249.4,626.2 250.0,625.3 C250.6,624.5 251.1,623.7 251.7,622.9 C252.3,622.1 252.9,621.3 253.5,620.5 C254.1,619.6 254.7,618.8 255.3,618.0 C255.9,617.2 256.5,616.4 257.1,615.6 C257.7,614.8 258.3,614.0 258.9,613.3 C259.5,612.5 260.1,611.7 260.8,610.9 C261.4,610.1 262.0,609.3 262.6,608.6 C263.3,607.8 263.9,607.0 264.5,606.2 C265.2,605.5 265.8,604.7 266.5,603.9 C267.1,603.2 267.8,602.4 268.4,601.7 C269.1,600.9 269.8,600.2 270.4,599.4 C271.1,598.7 271.8,597.9 272.4,597.2 C273.1,596.4 273.8,595.7 274.5,595.0 C275.1,594.2 275.8,593.5 276.5,592.8 C277.2,592.1 277.9,591.3 278.6,590.6 C279.3,589.9 280.0,589.2 280.7,588.5 C281.4,587.8 282.1,587.1 282.8,586.4 C283.5,585.7 284.3,585.0 285.0,584.3 C285.7,583.6 286.4,582.9 287.2,582.2 C287.9,581.5 288.6,580.8 289.4,580.1 C290.1,579.5 290.8,578.8 291.6,578.1 C292.3,577.5 293.1,576.8 293.8,576.1 C294.6,575.5 295.3,574.8 296.1,574.2 C296.8,573.5 297.6,572.9 298.4,572.2 C299.1,571.6 299.9,570.9 300.7,570.3 C301.5,569.7 302.2,569.0 303.0,568.4 C303.8,567.8 304.6,567.2 305.4,566.5 C306.2,565.9 307.0,565.3 307.8,564.7 C308.6,564.1 309.4,563.5 310.2,562.9 C311.0,562.3 311.8,561.7 312.6,561.1 C313.4,560.5 314.2,560.0 315.0,559.4 C315.8,558.8 316.7,558.2 317.5,557.7 C318.3,557.1 319.1,556.5 320.0,556.0 C320.8,555.4 321.6,554.9 322.5,554.3 C323.3,553.8 324.2,553.3 325.0,552.7 C325.9,552.2 326.7,551.7 327.6,551.1 C328.4,550.6 329.3,550.1 330.1,549.6 C331.0,549.1 331.8,548.6 332.7,548.0 C333.6,547.5 334.4,547.1 335.3,546.6 C336.2,546.1 337.1,545.6 337.9,545.1 C338.8,544.6 339.7,544.2 340.6,543.7 C341.5,543.2 342.4,542.8 343.3,542.3 C344.2,541.8 345.0,541.4 345.9,541.0 C346.8,540.5 347.7,540.1 348.6,539.6 C349.5,539.2 350.5,538.8 351.4,538.4 C352.3,537.9 353.2,537.5 354.1,537.1 C355.0,536.7 355.9,536.3 356.9,535.9 C357.8,535.5 358.7,535.1 359.6,534.8 C360.5,534.4 361.5,534.0 362.4,533.6 C363.3,533.3 364.3,532.9 365.2,532.6 C366.1,532.2 367.1,531.9 368.0,531.5 C369.0,531.2 369.9,530.8 370.9,530.5 C371.8,530.2 372.7,529.9 373.7,529.6 C374.6,529.2 375.6,528.9 376.6,528.6 C377.5,528.3 378.5,528.0 379.4,527.8 C380.4,527.5 381.4,527.2 382.3,526.9 C383.3,526.6 384.2,526.4 385.2,526.1 C386.2,525.9 387.1,525.6 388.1,525.4 C389.1,525.1 390.1,524.9 391.0,524.7 C392.0,524.4 393.0,524.2 394.0,524.0 C394.9,523.8 395.9,523.6 396.9,523.4 C397.9,523.2 398.9,523.0 399.9,522.8 C400.8,522.6 401.8,522.5 402.8,522.3 C403.8,522.1 404.8,522.0 405.8,521.8 C406.8,521.7 407.8,521.5 408.7,521.4 C409.7,521.2 410.7,521.1 411.7,521.0 C412.7,520.9 413.7,520.7 414.7,520.6 C415.7,520.5 416.7,520.4 417.7,520.3 C418.7,520.2 419.7,520.1 420.7,520.1 C421.7,520.0 422.7,519.9 423.7,519.9 C424.7,519.8 425.7,519.7 426.7,519.7 C427.7,519.7 428.7,519.6 429.7,519.6 C430.7,519.6 431.7,519.5 432.7,519.5 C433.7,519.5 434.7,519.5 435.7,519.5 C436.7,519.5 437.7,519.5 438.7,519.5 C439.7,519.5 440.7,519.5 441.7,519.6 C442.7,519.6 443.7,519.6 444.7,519.7 C445.7,519.7 446.7,519.8 447.7,519.8 C448.7,519.9 449.7,520.0 450.7,520.0 C451.7,520.1 452.7,520.2 453.7,520.3 C454.7,520.4 455.7,520.5 456.7,520.6 C457.7,520.7 458.7,520.8 459.7,520.9 C460.6,521.0 461.6,521.1 462.6,521.3 C463.6,521.4 464.6,521.5 465.6,521.7 C466.6,521.8 467.6,522.0 468.6,522.1 C469.6,522.3 470.5,522.5 471.5,522.6 C472.5,522.8 473.5,523.0 474.5,523.2 C475.5,523.4 476.4,523.6 477.4,523.8 C478.4,524.0 479.4,524.2 480.4,524.4 C481.3,524.6 482.3,524.9 483.3,525.1 C484.3,525.3 485.2,525.6 486.2,525.8 C487.2,526.1 488.1,526.4 489.1,526.6 C490.1,526.9 491.0,527.2 492.0,527.4 C492.9,527.7 493.9,528.0 494.9,528.3 C495.8,528.6 496.8,528.9 497.7,529.2 C498.7,529.5 499.6,529.9 500.6,530.2 C501.5,530.5 502.5,530.9 503.4,531.2 C504.3,531.6 505.3,531.9 506.2,532.3 C507.1,532.6 508.1,533.0 509.0,533.4 C509.9,533.8 510.8,534.1 511.8,534.5 C512.7,534.9 513.6,535.3 514.5,535.8 C515.4,536.2 516.3,536.6 517.2,537.0 C518.1,537.4 519.0,537.9 519.9,538.3 C520.8,538.8 522.2,539.5 522.6,539.7"/>
<path d="M240.0,1011.5 C240.5,1011.5 242.0,1011.7 243.0,1011.8 C244.0,1011.9 245.0,1012.0 246.0,1012.1 C247.0,1012.3 247.9,1012.4 248.9,1012.5 C249.9,1012.6 250.9,1012.7 251.9,1012.8 C252.9,1012.9 253.9,1013.1 254.9,1013.2 C255.9,1013.3 256.9,1013.4 257.9,1013.5 C258.9,1013.7 259.9,1013.8 260.9,1013.9 C261.9,1014.0 262.8,1014.2 263.8,1014.3 C264.8,1014.4 265.8,1014.6 266.8,1014.7 C267.8,1014.8 268.8,1015.0 269.8,1015.1 C270.8,1015.3 271.8,1015.4 272.8,1015.5 C273.7,1015.7 274.7,1015.8 275.7,1016.0 C276.7,1016.1 277.7,1016.3 278.7,1016.4 C279.7,1016.6 280.7,1016.8 281.6,1016.9 C282.6,1017.1 283.6,1017.3 284.6,1017.4 C285.6,1017.6 286.6,1017.8 287.6,1017.9 C288.5,1018.1 289.5,1018.3 290.5,1018.5 C291.5,1018.7 292.5,1018.8 293.5,1019.0 C294.4,1019.2 295.4,1019.4 296.4,1019.6 C297.4,1019.8 298.4,1020.0 299.4,1020.2 C300.3,1020.4 301.3,1020.6 302.3,1020.8 C303.3,1021.0 304.2,1021.3 305.2,1021.5 C306.2,1021.7 307.2,1021.9 308.1,1022.1 C309.1,1022.4 310.1,1022.6 311.1,1022.8 C312.0,1023.1 313.0,1023.3 314.0,1023.5 C315.0,1023.8 315.9,1024.0 316.9,1024.2 C317.9,1024.5 318.8,1024.7 319.8,1025.0 C320.8,1025.2 321.8,1025.4 322.7,1025.7 C323.7,1025.9 324.7,1026.2 325.6,1026.4 C326.6,1026.7 327.6,1026.9 328.5,1027.2 C329.5,1027.4 330.5,1027.7 331.4,1027.9 C332.4,1028.2 333.4,1028.4 334.3,1028.7 C335.3,1029.0 336.3,1029.2 337.2,1029.5 C338.2,1029.7 339.2,1030.0 340.1,1030.2 C341.1,1030.5 342.1,1030.7 343.0,1031.0 C344.0,1031.3 345.0,1031.5 345.9,1031.8 C346.9,1032.0 347.9,1032.3 348.8,1032.5 C349.8,1032.8 350.8,1033.0 351.8,1033.3 C352.7,1033.5 353.7,1033.8 354.7,1034.0 C355.6,1034.3 356.6,1034.5 357.6,1034.8 C358.5,1035.0 359.5,1035.3 360.5,1035.5 C361.4,1035.8 362.4,1036.0 363.4,1036.2 C364.4,1036.5 365.3,1036.7 366.3,1037.0 C367.3,1037.2 368.2,1037.4 369.2,1037.7 C370.2,1037.9 371.2,1038.1 372.1,1038.3 C373.1,1038.6 374.1,1038.8 375.1,1039.0 C376.0,1039.2 377.0,1039.4 378.0,1039.7 C379.0,1039.9 380.0,1040.1 380.9,1040.3 C381.9,1040.5 382.9,1040.7 383.9,1040.9 C384.8,1041.1 385.8,1041.3 386.8,1041.5 C387.8,1041.7 388.8,1041.9 389.8,1042.1 C390.7,1042.3 391.7,1042.4 392.7,1042.6 C393.7,1042.8 394.7,1043.0 395.7,1043.2 C396.6,1043.3 397.6,1043.5 398.6,1043.7 C399.6,1043.9 400.6,1044.0 401.6,1044.2 C402.6,1044.3 403.5,1044.5 404.5,1044.7 C405.5,1044.8 406.5,1045.0 407.5,1045.1 C408.5,1045.3 409.5,1045.4 410.5,1045.6 C411.5,1045.7 412.4,1045.9 413.4,1046.0 C414.4,1046.2 415.4,1046.3 416.4,1046.4 C417.4,1046.6 418.4,1046.7 419.4,1046.9 C420.4,1047.0 421.4,1047.1 422.4,1047.2 C423.3,1047.4 424.3,1047.5 425.3,1047.6 C426.3,1047.7 427.3,1047.9 428.3,1048.0 C429.3,1048.1 430.3,1048.2 431.3,1048.3 C432.3,1048.4 433.3,1048.5 434.3,1048.7 C435.3,1048.8 436.3,1048.9 437.3,1049.0 C438.3,1049.1 439.2,1049.2 440.2,1049.3 C441.2,1049.4 442.2,1049.5 443.2,1049.6 C444.2,1049.7 445.2,1049.8 446.2,1049.8 C447.2,1049.9 448.2,1050.0 449.2,1050.1 C450.2,1050.2 451.2,1050.3 452.2,1050.4 C453.2,1050.5 454.2,1050.5 455.2,1050.6 C456.2,1050.7 457.2,1050.8 458.2,1050.8 C459.2,1050.9 460.2,1051.0 461.2,1051.1 C462.2,1051.1 463.2,1051.2 464.2,1051.3 C465.2,1051.3 466.2,1051.4 467.2,1051.5 C468.2,1051.5 469.2,1051.6 470.2,1051.7 C471.2,1051.7 472.2,1051.8 473.1,1051.8 C474.1,1051.9 475.1,1052.0 476.1,1052.0 C477.1,1052.1 478.1,1052.1 479.1,1052.2 C480.1,1052.2 481.1,1052.3 482.1,1052.3 C483.1,1052.4 484.1,1052.4 485.1,1052.5 C486.1,1052.5 487.1,1052.6 488.1,1052.6 C489.1,1052.6 490.1,1052.7 491.1,1052.7 C492.1,1052.8 493.1,1052.8 494.1,1052.8 C495.1,1052.9 496.1,1052.9 497.1,1052.9 C498.1,1053.0 499.1,1053.0 500.1,1053.0 C501.1,1053.1 502.1,1053.1 503.1,1053.1 C504.1,1053.1 505.1,1053.2 506.1,1053.2 C507.1,1053.2 508.1,1053.2 509.1,1053.3 C510.1,1053.3 511.1,1053.3 512.1,1053.3 C513.1,1053.3 514.1,1053.4 515.1,1053.4 C516.1,1053.4 517.1,1053.4 518.1,1053.4 C519.1,1053.4 520.1,1053.4 521.1,1053.4 C522.1,1053.5 523.1,1053.5 524.1,1053.5 C525.1,1053.5 526.1,1053.5 527.1,1053.5 C528.1,1053.5 529.1,1053.5 530.1,1053.5 C531.1,1053.5 532.1,1053.5 533.1,1053.5 C534.1,1053.5 535.1,1053.5 536.1,1053.5 C537.1,1053.4 538.1,1053.4 539.1,1053.4 C540.1,1053.4 541.1,1053.4 542.1,1053.4 C543.1,1053.4 544.1,1053.4 545.1,1053.3 C546.1,1053.3 547.1,1053.3 548.1,1053.3 C549.1,1053.3 550.1,1053.2 551.1,1053.2 C552.1,1053.2 553.1,1053.2 554.1,1053.2 C555.1,1053.1 556.1,1053.1 557.1,1053.1 C558.1,1053.0 559.1,1053.0 560.1,1053.0 C561.1,1052.9 562.1,1052.9 563.1,1052.9 C564.1,1052.8 565.1,1052.8 566.1,1052.8 C567.1,1052.7 568.1,1052.7 569.1,1052.6 C570.1,1052.6 571.1,1052.6 572.1,1052.5 C573.1,1052.5 574.1,1052.4 575.1,1052.4 C576.1,1052.3 577.1,1052.3 578.1,1052.2 C579.1,1052.2 580.1,1052.1 581.1,1052.1 C582.1,1052.0 583.1,1052.0 584.1,1051.9 C585.1,1051.8 586.1,1051.8 587.1,1051.7 C588.1,1051.7 589.1,1051.6 590.1,1051.5 C591.1,1051.5 592.1,1051.4 593.1,1051.3 C594.1,1051.3 595.1,1051.2 596.1,1051.1 C597.1,1051.1 598.1,1051.0 599.1,1050.9 C600.1,1050.8 601.1,1050.8 602.1,1050.7 C603.1,1050.6 604.1,1050.5 605.1,1050.4 C606.1,1050.4 607.1,1050.3 608.1,1050.2 C609.1,1050.1 610.1,1050.0 611.1,1049.9 C612.1,1049.9 613.1,1049.8 614.0,1049.7 C615.0,1049.6 616.0,1049.5 617.0,1049.4 C618.0,1049.3 619.0,1049.2 620.0,1049.1 C621.0,1049.0 622.0,1048.9 623.0,1048.8 C624.0,1048.7 625.0,1048.6 626.0,1048.5 C627.0,1048.4 628.0,1048.3 629.0,1048.2 C630.0,1048.1 631.0,1048.0 632.0,1047.9 C633.0,1047.8 634.0,1047.7 634.9,1047.5 C635.9,1047.4 636.9,1047.3 637.9,1047.2 C638.9,1047.1 639.9,1047.0 640.9,1046.9 C641.9,1046.7 642.9,1046.6 643.9,1046.5 C644.9,1046.4 645.9,1046.2 646.9,1046.1 C647.9,1046.0 648.8,1045.9 649.8,1045.7 C650.8,1045.6 651.8,1045.5 652.8,1045.3 C653.8,1045.2 654.8,1045.1 655.8,1044.9 C656.8,1044.8 657.8,1044.7 658.8,1044.5 C659.7,1044.4 660.7,1044.2 661.7,1044.1 C662.7,1044.0 663.7,1043.8 664.7,1043.7 C665.7,1043.5 666.7,1043.4 667.7,1043.2 C668.7,1043.1 669.6,1042.9 670.6,1042.8 C671.6,1042.6 672.6,1042.5 673.6,1042.3 C674.6,1042.2 675.6,1042.0 676.6,1041.8 C677.6,1041.7 678.5,1041.5 679.5,1041.4 C680.5,1041.2 681.5,1041.0 682.5,1040.9 C683.5,1040.7 684.5,1040.5 685.4,1040.4 C686.4,1040.2 687.4,1040.0 688.4,1039.9 C689.4,1039.7 690.4,1039.5 691.4,1039.3 C692.3,1039.2 693.3,1039.0 694.3,1038.8 C695.3,1038.6 696.3,1038.4 697.3,1038.3 C698.2,1038.1 699.2,1037.9 700.2,1037.7 C701.2,1037.5 702.2,1037.3 703.2,1037.1 C704.1,1037.0 705.1,1036.8 706.1,1036.6 C707.1,1036.4 708.1,1036.2 709.0,1036.0 C710.0,1035.8 711.0,1035.6 712.0,1035.4 C713.0,1035.2 714.0,1035.0 714.9,1034.8 C715.9,1034.6 716.9,1034.4 717.9,1034.2 C718.8,1034.0 719.8,1033.8 720.8,1033.6 C721.8,1033.3 722.8,1033.1 723.7,1032.9 C724.7,1032.7 725.7,1032.5 726.7,1032.3 C727.6,1032.1 728.6,1031.8 729.6,1031.6 C730.6,1031.4 731.5,1031.2 732.5,1031.0 C733.5,1030.7 734.5,1030.5 735.4,1030.3 C736.4,1030.1 737.4,1029.8 738.4,1029.6 C739.3,1029.4 740.3,1029.1 741.3,1028.9 C742.3,1028.7 743.2,1028.4 744.2,1028.2 C745.2,1028.0 746.1,1027.7 747.1,1027.5 C748.1,1027.3 749.1,1027.0 750.0,1026.8 C751.0,1026.5 752.0,1026.3 752.9,1026.0 C753.9,1025.8 754.9,1025.5 755.8,1025.3 C756.8,1025.0 757.8,1024.8 758.8,1024.5 C759.7,1024.3 760.7,1024.0 761.7,1023.8 C762.6,1023.5 763.6,1023.3 764.6,1023.0 C765.5,1022.7 766.5,1022.5 767.4,1022.2 C768.4,1021.9 769.4,1021.7 770.3,1021.4 C771.3,1021.1 772.3,1020.9 773.2,1020.6 C774.2,1020.3 775.2,1020.1 776.1,1019.8 C777.1,1019.5 778.0,1019.2 779.0,1019.0 C780.0,1018.7 780.9,1018.4 781.9,1018.1 C782.8,1017.8 783.8,1017.6 784.8,1017.3 C785.7,1017.0 786.7,1016.7 787.6,1016.4 C788.6,1016.1 789.6,1015.8 790.5,1015.5 C791.5,1015.2 792.4,1015.0 793.4,1014.7 C794.3,1014.4 795.3,1014.1 796.2,1013.8 C797.2,1013.5 798.2,1013.2 799.1,1012.9 C800.1,1012.6 801.0,1012.3 802.0,1012.0 C802.9,1011.7 803.9,1011.3 804.8,1011.0 C805.8,1010.7 806.7,1010.4 807.7,1010.1 C808.6,1009.8 809.6,1009.5 810.5,1009.2 C811.5,1008.8 812.4,1008.5 813.4,1008.2 C814.3,1007.9 815.3,1007.6 816.2,1007.2 C817.2,1006.9 818.1,1006.6 819.1,1006.3 C820.0,1005.9 820.9,1005.6 821.9,1005.3 C822.8,1005.0 823.8,1004.6 824.7,1004.3 C825.7,1004.0 826.6,1003.6 827.5,1003.3 C828.5,1002.9 829.4,1002.6 830.4,1002.3 C831.3,1001.9 832.2,1001.6 833.2,1001.2 C834.1,1000.9 835.1,1000.6 836.0,1000.2 C836.9,999.9 837.9,999.5 838.8,999.2 C839.8,998.8 840.7,998.5 841.6,998.1 C842.6,997.7 843.5,997.4 844.4,997.0 C845.4,996.7 846.3,996.3 847.2,996.0 C848.2,995.6 849.1,995.2 850.0,994.9 C851.0,994.5 851.9,994.1 852.8,993.8 C853.7,993.4 854.7,993.0 855.6,992.7 C856.5,992.3 857.5,991.9 858.4,991.5 C859.3,991.2 860.3,990.8 861.2,990.4 C862.1,990.1 863.0,989.7 864.0,989.3 C864.9,988.9 865.8,988.6 866.7,988.2 C867.7,987.8 868.6,987.4 869.5,987.1 C870.5,986.7 871.4,986.3 872.3,985.9 C873.2,985.5 874.2,985.2 875.1,984.8 C876.0,984.4 876.9,984.0 877.9,983.7 C878.8,983.3 879.7,982.9 880.6,982.5 C881.6,982.2 882.5,981.8 883.4,981.4 C884.4,981.0 885.3,980.7 886.2,980.3 C887.1,979.9 888.1,979.5 889.0,979.2 C889.9,978.8 890.9,978.4 891.8,978.1 C892.7,977.7 893.6,977.3 894.6,977.0 C895.5,976.6 896.4,976.2 897.4,975.9 C898.3,975.5 899.2,975.1 900.2,974.7 C901.1,974.4 902.0,974.0 902.9,973.6 C903.9,973.3 904.8,972.9 905.7,972.5 C906.7,972.1 907.6,971.8 908.5,971.4 C909.4,971.0 910.4,970.6 911.3,970.2 C912.2,969.9 913.1,969.5 914.1,969.1 C915.0,968.7 915.9,968.3 916.8,967.9 C917.7,967.6 918.7,967.2 919.6,966.8 C920.5,966.4 921.4,966.0 922.3,965.6 C923.3,965.2 924.2,964.8 925.1,964.4 C926.0,963.9 926.9,963.5 927.8,963.1 C928.7,962.7 929.6,962.3 930.5,961.9 C931.4,961.4 932.4,961.0 933.3,960.6 C934.2,960.2 935.1,959.7 936.0,959.3 C936.9,958.9 937.8,958.4 938.7,958.0 C939.6,957.5 940.4,957.1 941.3,956.6 C942.2,956.2 943.1,955.7 944.0,955.3 C944.9,954.8 945.8,954.3 946.7,953.9 C947.6,953.4 948.5,953.0 949.3,952.5 C950.2,952.0 951.1,951.5 952.0,951.1 C952.9,950.6 953.7,950.1 954.6,949.6 C955.5,949.1 956.4,948.6 957.2,948.2 C958.1,947.7 959.0,947.2 959.8,946.7 C960.7,946.2 961.6,945.7 962.4,945.2 C963.3,944.7 964.2,944.2 965.0,943.7 C965.9,943.1 966.7,942.6 967.6,942.1 C968.5,941.6 969.3,941.1 970.2,940.6 C971.0,940.0 971.9,939.5 972.7,939.0 C973.6,938.5 974.4,937.9 975.3,937.4 C976.1,936.9 977.0,936.3 977.8,935.8 C978.6,935.2 979.5,934.7 980.3,934.2 C981.2,933.6 982.0,933.1 982.8,932.5 C983.7,932.0 984.5,931.4 985.3,930.9 C986.2,930.3 987.0,929.7 987.8,929.2 C988.6,928.6 989.5,928.1 990.3,927.5 C991.1,926.9 991.9,926.3 992.8,925.8 C993.6,925.2 994.4,924.6 995.2,924.0 C996.0,923.5 996.8,922.9 997.7,922.3 C998.5,921.7 999.3,921.1 1000.1,920.5 C1000.9,920.0 1001.7,919.4 1002.5,918.8 C1003.3,918.2 1004.1,917.6 1004.9,917.0 C1005.7,916.4 1006.5,915.8 1007.3,915.2 C1008.1,914.6 1008.9,914.0 1009.7,913.4 C1010.5,912.7 1011.3,912.1 1012.1,911.5 C1012.9,910.9 1013.7,910.3 1014.4,909.7 C1015.2,909.1 1016.0,908.4 1016.8,907.8 C1017.6,907.2 1018.4,906.6 1019.1,905.9 C1019.9,905.3 1020.7,904.7 1021.5,904.0 C1022.2,903.4 1023.0,902.8 1023.8,902.1 C1024.6,901.5 1025.3,900.9 1026.1,900.2 C1026.9,899.6 1027.6,899.0 1028.4,898.3 C1029.2,897.7 1029.9,897.0 1030.7,896.4 C1031.5,895.7 1032.2,895.1 1033.0,894.4 C1033.8,893.8 1034.5,893.1 1035.3,892.5 C1036.0,891.8 1036.8,891.2 1037.5,890.5 C1038.3,889.9 1039.0,889.2 1039.8,888.5 C1040.6,887.9 1041.3,887.2 1042.1,886.6 C1042.8,885.9 1043.5,885.2 1044.3,884.6 C1045.0,883.9 1045.8,883.2 1046.5,882.6 C1047.3,881.9 1048.0,881.2 1048.7,880.5 C1049.5,879.9 1050.2,879.2 1050.9,878.5 C1051.7,877.8 1052.4,877.1 1053.1,876.4 C1053.8,875.7 1054.6,875.1 1055.3,874.4 C1056.0,873.7 1056.7,873.0 1057.4,872.3 C1058.1,871.6 1058.9,870.9 1059.6,870.1 C1060.3,869.4 1061.0,868.7 1061.7,868.0 C1062.4,867.3 1063.1,866.6 1063.7,865.8 C1064.4,865.1 1065.1,864.4 1065.8,863.7 C1066.5,862.9 1067.2,862.2 1067.8,861.4 C1068.5,860.7 1069.2,860.0 1069.8,859.2 C1070.5,858.5 1071.2,857.7 1071.8,857.0 C1072.5,856.2 1073.1,855.5 1073.8,854.7 C1074.4,853.9 1075.1,853.2 1075.7,852.4 C1076.4,851.6 1077.0,850.9 1077.6,850.1 C1078.3,849.3 1078.9,848.5 1079.5,847.8 C1080.2,847.0 1080.8,846.2 1081.4,845.4 C1082.1,844.7 1082.7,843.9 1083.3,843.1 C1083.9,842.3 1084.5,841.5 1085.2,840.7 C1085.8,839.9 1086.4,839.2 1087.0,838.4 C1087.6,837.6 1088.2,836.8 1088.8,836.0 C1089.5,835.2 1090.1,834.4 1090.7,833.6 C1091.3,832.8 1091.9,832.0 1092.5,831.2 C1093.1,830.4 1093.7,829.7 1094.3,828.9 C1094.9,828.1 1095.5,827.3 1096.1,826.5 C1096.8,825.7 1097.4,824.9 1098.0,824.1 C1098.6,823.3 1099.2,822.5 1099.8,821.7 C1100.4,820.9 1101.0,820.1 1101.6,819.3 C1102.2,818.5 1102.8,817.7 1103.4,816.9 C1104.0,816.1 1104.6,815.3 1105.2,814.5 C1105.8,813.7 1106.4,812.9 1107.0,812.1 C1107.6,811.3 1108.2,810.5 1108.8,809.7 C1109.4,808.9 1110.0,808.1 1110.6,807.3 C1111.2,806.5 1111.8,805.7 1112.4,804.9 C1113.0,804.1 1113.6,803.3 1114.2,802.5 C1114.7,801.7 1115.3,800.8 1115.9,800.0 C1116.5,799.2 1117.1,798.4 1117.6,797.6 C1118.2,796.8 1118.8,795.9 1119.3,795.1 C1119.9,794.3 1120.5,793.5 1121.0,792.6 C1121.6,791.8 1122.1,791.0 1122.7,790.1 C1123.3,789.3 1123.8,788.5 1124.4,787.6 C1124.9,786.8 1125.5,786.0 1126.0,785.1 C1126.5,784.3 1127.1,783.4 1127.6,782.6 C1128.2,781.7 1128.7,780.9 1129.2,780.1 C1129.7,779.2 1130.3,778.4 1130.8,777.5 C1131.3,776.7 1131.8,775.8 1132.4,774.9 C1132.9,774.1 1133.4,773.2 1133.9,772.4 C1134.4,771.5 1134.9,770.6 1135.4,769.8 C1135.9,768.9 1136.4,768.1 1136.9,767.2 C1137.4,766.3 1137.9,765.5 1138.4,764.6 C1138.9,763.7 1139.4,762.8 1139.9,762.0 C1140.4,761.1 1140.9,760.2 1141.3,759.3 C1141.8,758.5 1142.3,757.6 1142.8,756.7 C1143.3,755.8 1143.7,754.9 1144.2,754.1 C1144.7,753.2 1145.1,752.3 1145.6,751.4 C1146.1,750.5 1146.5,749.6 1147.0,748.7 C1147.4,747.8 1147.9,747.0 1148.3,746.1 C1148.8,745.2 1149.2,744.3 1149.7,743.4 C1150.1,742.5 1150.5,741.6 1151.0,740.7 C1151.4,739.8 1151.8,738.9 1152.3,738.0 C1152.7,737.1 1153.1,736.2 1153.6,735.3 C1154.0,734.3 1154.4,733.4 1154.8,732.5 C1155.2,731.6 1155.6,730.7 1156.0,729.8 C1156.5,728.9 1156.9,728.0 1157.3,727.1 C1157.7,726.1 1158.1,725.2 1158.5,724.3 C1158.9,723.4 1159.3,722.5 1159.6,721.5 C1160.0,720.6 1160.4,719.7 1160.8,718.8 C1161.2,717.9 1161.6,716.9 1161.9,716.0 C1162.3,715.1 1162.7,714.1 1163.1,713.2 C1163.4,712.3 1163.8,711.4 1164.2,710.4 C1164.5,709.5 1164.9,708.6 1165.3,707.6 C1165.6,706.7 1166.0,705.8 1166.3,704.8 C1166.7,703.9 1167.0,702.9 1167.4,702.0 C1167.7,701.1 1168.0,700.1 1168.4,699.2 C1168.7,698.2 1169.0,697.3 1169.4,696.4 C1169.7,695.4 1170.0,694.5 1170.4,693.5 C1170.7,692.6 1171.0,691.6 1171.3,690.7 C1171.6,689.7 1171.9,688.8 1172.2,687.8 C1172.6,686.9 1172.9,685.9 1173.2,685.0 C1173.5,684.0 1173.8,683.1 1174.1,682.1 C1174.4,681.1 1174.7,680.2 1174.9,679.2 C1175.2,678.3 1175.5,677.3 1175.8,676.4 C1176.1,675.4 1176.4,674.4 1176.6,673.5 C1176.9,672.5 1177.2,671.5 1177.4,670.6 C1177.7,669.6 1178.0,668.7 1178.2,667.7 C1178.5,666.7 1178.8,665.8 1179.0,664.8 C1179.3,663.8 1179.5,662.9 1179.8,661.9 C1180.0,660.9 1180.4,659.5 1180.5,659.0"/>
<path d="M364.4,769.7 C364.4,768.7 364.5,767.7 364.5,766.7 C364.5,765.7 364.6,764.7 364.7,763.7 C364.7,762.7 364.8,761.8 364.9,760.8 C364.9,759.8 365.0,758.8 365.1,757.8 C365.2,756.8 365.3,755.8 365.4,754.8 C365.5,753.8 365.6,752.8 365.8,751.8 C365.9,750.8 366.0,749.8 366.1,748.8 C366.3,747.8 366.4,746.8 366.6,745.9 C366.7,744.9 366.9,743.9 367.1,742.9 C367.2,741.9 367.4,740.9 367.6,739.9 C367.8,739.0 368.0,738.0 368.2,737.0 C368.4,736.0 368.6,735.0 368.8,734.1 C369.0,733.1 369.3,732.1 369.5,731.1 C369.7,730.2 370.0,729.2 370.2,728.2 C370.5,727.3 370.7,726.3 371.0,725.3 C371.3,724.4 371.5,723.4 371.8,722.4 C372.1,721.5 372.4,720.5 372.7,719.6 C373.0,718.6 373.3,717.7 373.6,716.7 C373.9,715.8 374.2,714.8 374.5,713.9 C374.9,712.9 375.2,712.0 375.5,711.0 C375.9,710.1 376.2,709.2 376.6,708.2 C376.9,707.3 377.3,706.4 377.7,705.4 C378.0,704.5 378.4,703.6 378.8,702.7 C379.2,701.7 379.6,700.8 380.0,699.9 C380.4,699.0 380.8,698.1 381.2,697.2 C381.6,696.3 382.1,695.4 382.5,694.5 C382.9,693.6 383.4,692.7 383.8,691.8 C384.3,690.9 384.7,690.0 385.2,689.1 C385.6,688.2 386.1,687.3 386.6,686.4 C387.1,685.6 387.6,684.7 388.1,683.8 C388.5,683.0 389.0,682.1 389.6,681.2 C390.1,680.4 390.6,679.5 391.1,678.7 C391.6,677.8 392.2,677.0 392.7,676.1 C393.2,675.3 393.8,674.4 394.3,673.6 C394.9,672.8 395.4,671.9 396.0,671.1 C396.6,670.3 397.1,669.5 397.7,668.6 C398.3,667.8 398.9,667.0 399.5,666.2 C400.0,665.4 400.6,664.6 401.2,663.8 C401.8,663.0 402.5,662.2 403.1,661.4 C403.7,660.6 404.3,659.8 404.9,659.1 C405.6,658.3 406.2,657.5 406.8,656.7 C407.5,656.0 408.1,655.2 408.7,654.4 C409.4,653.7 410.0,652.9 410.7,652.2 C411.4,651.4 412.0,650.7 412.7,649.9 C413.4,649.2 414.0,648.4 414.7,647.7 C415.4,647.0 416.1,646.2 416.8,645.5 C417.4,644.8 418.1,644.0 418.8,643.3 C419.5,642.6 420.2,641.9 420.9,641.2 C421.6,640.5 422.3,639.8 423.1,639.1 C423.8,638.4 424.5,637.7 425.2,637.0 C425.9,636.3 426.7,635.6 427.4,634.9 C428.1,634.2 428.9,633.5 429.6,632.9 C430.3,632.2 431.1,631.5 431.8,630.9 C432.6,630.2 433.3,629.5 434.1,628.9 C434.8,628.2 435.6,627.5 436.3,626.9 C437.1,626.2 437.8,625.6 438.6,624.9 C439.4,624.3 440.1,623.7 440.9,623.0 C441.7,622.4 442.4,621.8 443.2,621.1 C444.0,620.5 444.8,619.9 445.6,619.2 C446.3,618.6 447.1,618.0 447.9,617.4 C448.7,616.8 449.5,616.2 450.3,615.5 C451.1,614.9 451.9,614.3 452.7,613.7 C453.5,613.1 454.3,612.5 455.1,611.9 C455.9,611.3 456.7,610.8 457.5,610.2 C458.3,609.6 459.1,609.0 459.9,608.4 C460.7,607.8 461.6,607.3 462.4,606.7 C463.2,606.1 464.0,605.5 464.8,605.0 C465.7,604.4 466.5,603.8 467.3,603.3 C468.1,602.7 469.0,602.1 469.8,601.6 C470.6,601.0 471.5,600.5 472.3,599.9 C473.1,599.4 474.0,598.8 474.8,598.3 C475.7,597.7 476.5,597.2 477.3,596.7 C478.2,596.1 479.0,595.6 479.9,595.0 C480.7,594.5 481.6,594.0 482.4,593.5 C483.3,592.9 484.1,592.4 485.0,591.9 C485.8,591.4 486.7,590.8 487.5,590.3 C488.4,589.8 489.2,589.3 490.1,588.8 C491.0,588.3 491.8,587.8 492.7,587.3 C493.5,586.8 494.4,586.2 495.3,585.8 C496.1,585.3 497.0,584.8 497.9,584.3 C498.8,583.8 499.6,583.3 500.5,582.8 C501.4,582.3 502.2,581.8 503.1,581.3 C504.0,580.8 504.9,580.4 505.8,579.9 C506.6,579.4 507.5,578.9 508.4,578.5 C509.3,578.0 510.2,577.5 511.0,577.1 C511.9,576.6 512.8,576.1 513.7,575.7 C514.6,575.2 515.5,574.8 516.4,574.3 C517.3,573.8 518.2,573.4 519.0,572.9 C519.9,572.5 520.8,572.1 521.7,571.6 C522.6,571.2 523.5,570.7 524.4,570.3 C525.3,569.9 526.2,569.4 527.1,569.0 C528.0,568.6 528.9,568.1 529.8,567.7 C530.7,567.3 531.6,566.8 532.6,566.4 C533.5,566.0 534.4,565.6 535.3,565.2 C536.2,564.8 537.1,564.3 538.0,563.9 C538.9,563.5 539.8,563.1 540.8,562.7 C541.7,562.3 542.6,561.9 543.5,561.5 C544.4,561.1 545.3,560.7 546.3,560.3 C547.2,559.9 548.1,559.5 549.0,559.2 C549.9,558.8 550.9,558.4 551.8,558.0 C552.7,557.6 553.6,557.2 554.6,556.9 C555.5,556.5 556.4,556.1 557.3,555.7 C558.3,555.4 559.2,555.0 560.1,554.6 C561.1,554.3 562.0,553.9 562.9,553.5 C563.9,553.2 564.8,552.8 565.7,552.5 C566.7,552.1 567.6,551.8 568.5,551.4 C569.5,551.1 570.4,550.7 571.4,550.4 C572.3,550.0 573.2,549.7 574.2,549.3 C575.1,549.0 576.1,548.7 577.0,548.3 C577.9,548.0 578.9,547.7 579.8,547.3 C580.8,547.0 581.7,546.7 582.7,546.4 C583.6,546.0 584.6,545.7 585.5,545.4 C586.5,545.1 587.4,544.8 588.4,544.4 C589.3,544.1 590.3,543.8 591.2,543.5 C592.2,543.2 593.1,542.9 594.1,542.6 C595.0,542.3 596.0,542.0 596.9,541.7 C597.9,541.4 598.8,541.1 599.8,540.8 C600.7,540.5 601.7,540.2 602.7,539.9 C603.6,539.7 604.6,539.4 605.5,539.1 C606.5,538.8 607.5,538.5 608.4,538.2 C609.4,538.0 610.3,537.7 611.3,537.4 C612.3,537.1 613.2,536.9 614.2,536.6 C615.1,536.3 616.1,536.1 617.1,535.8 C618.0,535.5 619.0,535.3 620.0,535.0 C620.9,534.8 621.9,534.5 622.9,534.3 C623.8,534.0 624.8,533.8 625.8,533.5 C626.7,533.3 627.7,533.0 628.7,532.8 C629.7,532.5 630.6,532.3 631.6,532.0 C632.6,531.8 633.5,531.6 634.5,531.3 C635.5,531.1 636.5,530.9 637.4,530.6 C638.4,530.4 639.4,530.2 640.4,530.0 C641.3,529.7 642.3,529.5 643.3,529.3 C644.3,529.1 645.2,528.9 646.2,528.6 C647.2,528.4 648.2,528.2 649.1,528.0 C650.1,527.8 651.1,527.6 652.1,527.4 C653.0,527.2 654.0,527.0 655.0,526.8 C656.0,526.6 657.0,526.4 657.9,526.2 C658.9,526.0 659.9,525.8 660.9,525.6 C661.9,525.4 662.9,525.2 663.8,525.0 C664.8,524.8 665.8,524.6 666.8,524.4 C667.8,524.3 668.7,524.1 669.7,523.9 C670.7,523.7 671.7,523.5 672.7,523.4 C673.7,523.2 674.7,523.0 675.6,522.8 C676.6,522.7 677.6,522.5 678.6,522.3 C679.6,522.2 680.6,522.0 681.6,521.8 C682.5,521.7 683.5,521.5 684.5,521.4 C685.5,521.2 686.5,521.0 687.5,520.9 C688.5,520.7 689.5,520.6 690.4,520.4 C691.4,520.3 692.4,520.1 693.4,520.0 C694.4,519.8 695.4,519.7 696.4,519.5 C697.4,519.4 698.4,519.3 699.3,519.1 C700.3,519.0 701.3,518.9 702.3,518.7 C703.3,518.6 704.3,518.5 705.3,518.3 C706.3,518.2 707.3,518.1 708.3,517.9 C709.3,517.8 710.3,517.7 711.2,517.6 C712.2,517.4 713.2,517.3 714.2,517.2 C715.2,517.1 716.2,517.0 717.2,516.9 C718.2,516.7 719.2,516.6 720.2,516.5 C721.2,516.4 722.2,516.3 723.2,516.2 C724.2,516.1 725.2,516.0 726.2,515.9 C727.1,515.8 728.1,515.7 729.1,515.6 C730.1,515.5 731.1,515.4 732.1,515.3 C733.1,515.2 734.1,515.1 735.1,515.0 C736.1,514.9 737.1,514.8 738.1,514.7 C739.1,514.6 740.1,514.5 741.1,514.5 C742.1,514.4 743.1,514.3 744.1,514.2 C745.1,514.1 746.1,514.1 747.1,514.0 C748.1,513.9 749.1,513.8 750.1,513.7 C751.1,513.7 752.1,513.6 753.0,513.5 C754.0,513.5 755.0,513.4 756.0,513.3 C757.0,513.3 758.0,513.2 759.0,513.1 C760.0,513.1 761.0,513.0 762.0,512.9 C763.0,512.9 764.0,512.8 765.0,512.8 C766.0,512.7 767.0,512.7 768.0,512.6 C769.0,512.5 770.0,512.5 771.0,512.4 C772.0,512.4 773.0,512.3 774.0,512.3 C775.0,512.3 776.0,512.2 777.0,512.2 C778.0,512.1 779.0,512.1 780.0,512.0 C781.0,512.0 782.0,512.0 783.0,511.9 C784.0,511.9 785.0,511.9 786.0,511.8 C787.0,511.8 788.0,511.8 789.0,511.7 C790.0,511.7 791.0,511.7 792.0,511.6 C793.0,511.6 794.0,511.6 795.0,511.6 C796.0,511.5 797.0,511.5 798.0,511.5 C799.0,511.5 800.0,511.5 801.0,511.5 C802.0,511.4 803.0,511.4 804.0,511.4 C805.0,511.4 806.0,511.4 807.0,511.4 C808.0,511.4 809.0,511.4 810.0,511.3 C811.0,511.3 812.0,511.3 813.0,511.3 C814.0,511.3 815.0,511.3 816.0,511.3 C817.0,511.3 818.0,511.3 819.0,511.3 C820.0,511.3 821.0,511.3 822.0,511.3 C823.0,511.4 824.0,511.4 825.0,511.4 C826.0,511.4 827.0,511.4 828.0,511.4 C829.0,511.4 830.0,511.4 831.0,511.4 C832.0,511.5 833.0,511.5 834.0,511.5 C835.0,511.5 836.0,511.5 837.0,511.6 C838.0,511.6 839.0,511.6 840.0,511.6 C841.0,511.7 842.0,511.7 843.0,511.7 C844.0,511.7 845.0,511.8 846.0,511.8 C847.0,511.8 848.0,511.9 849.0,511.9 C850.0,511.9 851.0,512.0 852.0,512.0 C853.0,512.0 854.0,512.1 855.0,512.1 C856.0,512.2 857.0,512.2 858.0,512.2 C859.0,512.3 860.0,512.3 861.0,512.4 C862.0,512.4 863.0,512.5 864.0,512.5 C865.0,512.6 866.0,512.6 867.0,512.7 C868.0,512.7 869.0,512.8 870.0,512.8 C871.0,512.9 872.0,512.9 873.0,513.0 C874.0,513.1 875.0,513.1 876.0,513.2 C877.0,513.2 878.0,513.3 879.0,513.4 C880.0,513.4 881.0,513.5 881.9,513.6 C882.9,513.6 883.9,513.7 884.9,513.8 C885.9,513.8 886.9,513.9 887.9,514.0 C888.9,514.1 889.9,514.1 890.9,514.2 C891.9,514.3 892.9,514.4 893.9,514.4 C894.9,514.5 895.9,514.6 896.9,514.7 C897.9,514.8 898.9,514.9 899.9,514.9 C900.9,515.0 901.9,515.1 902.9,515.2 C903.9,515.3 904.9,515.4 905.9,515.5 C906.9,515.6 907.9,515.6 908.9,515.7 C909.9,515.8 910.9,515.9 911.8,516.0 C912.8,516.1 913.8,516.2 914.8,516.3 C915.8,516.4 916.8,516.5 917.8,516.6 C918.8,516.7 919.8,516.8 920.8,516.9 C921.8,517.0 922.8,517.1 923.8,517.2 C924.8,517.3 925.8,517.4 926.8,517.6 C927.8,517.7 928.8,517.8 929.8,517.9 C930.7,518.0 931.7,518.1 932.7,518.2 C933.7,518.3 934.7,518.5 935.7,518.6 C936.7,518.7 937.7,518.8 938.7,518.9 C939.7,519.1 940.7,519.2 941.7,519.3 C942.7,519.4 943.7,519.6 944.6,519.7 C945.6,519.8 946.6,520.0 947.6,520.1 C948.6,520.2 949.6,520.4 950.6,520.5 C951.6,520.7 952.6,520.8 953.6,520.9 C954.5,521.1 955.5,521.2 956.5,521.4 C957.5,521.5 958.5,521.7 959.5,521.9 C960.5,522.0 961.5,522.2 962.4,522.3 C963.4,522.5 964.4,522.7 965.4,522.8 C966.4,523.0 967.4,523.2 968.4,523.4 C969.3,523.5 970.3,523.7 971.3,523.9 C972.3,524.1 973.3,524.3 974.3,524.5 C975.2,524.6 976.2,524.8 977.2,525.0 C978.2,525.2 979.2,525.4 980.1,525.6 C981.1,525.9 982.1,526.1 983.1,526.3 C984.0,526.5 985.0,526.7 986.0,526.9 C987.0,527.2 987.9,527.4 988.9,527.6 C989.9,527.8 990.9,528.1 991.8,528.3 C992.8,528.6 993.8,528.8 994.7,529.1 C995.7,529.3 996.7,529.6 997.6,529.8 C998.6,530.1 999.6,530.4 1000.5,530.6 C1001.5,530.9 1002.5,531.2 1003.4,531.5 C1004.4,531.7 1005.3,532.0 1006.3,532.3 C1007.3,532.6 1008.2,532.9 1009.2,533.2 C1010.1,533.5 1011.1,533.8 1012.0,534.1 C1013.0,534.4 1013.9,534.7 1014.9,535.1 C1015.8,535.4 1016.8,535.7 1017.7,536.1 C1018.6,536.4 1019.6,536.7 1020.5,537.1 C1021.5,537.4 1022.4,537.8 1023.3,538.1 C1024.3,538.5 1025.2,538.9 1026.1,539.2 C1027.0,539.6 1028.0,540.0 1028.9,540.4 C1029.8,540.8 1030.7,541.1 1031.7,541.5 C1032.6,541.9 1033.5,542.3 1034.4,542.7 C1035.3,543.2 1036.2,543.6 1037.1,544.0 C1038.0,544.4 1038.9,544.8 1039.8,545.3 C1040.7,545.7 1041.6,546.2 1042.5,546.6 C1043.4,547.0 1044.3,547.5 1045.2,548.0 C1046.1,548.4 1047.0,548.9 1047.9,549.4 C1048.7,549.8 1049.6,550.3 1050.5,550.8 C1051.4,551.3 1052.2,551.8 1053.1,552.3 C1054.0,552.8 1054.8,553.3 1055.7,553.8 C1056.5,554.3 1057.4,554.8 1058.2,555.4 C1059.1,555.9 1059.9,556.4 1060.8,557.0 C1061.6,557.5 1062.5,558.1 1063.3,558.6 C1064.1,559.2 1065.0,559.7 1065.8,560.3 C1066.6,560.8 1067.4,561.4 1068.2,562.0 C1069.1,562.6 1069.9,563.2 1070.7,563.8 C1071.5,564.3 1072.3,564.9 1073.1,565.5 C1073.9,566.2 1074.7,566.8 1075.5,567.4 C1076.2,568.0 1077.0,568.6 1077.8,569.3 C1078.6,569.9 1079.4,570.5 1080.1,571.2 C1080.9,571.8 1081.6,572.5 1082.4,573.1 C1083.1,573.8 1083.9,574.4 1084.6,575.1 C1085.4,575.8 1086.1,576.5 1086.8,577.1 C1087.6,577.8 1088.3,578.5 1089.0,579.2 C1089.7,579.9 1090.4,580.6 1091.1,581.3 C1091.8,582.0 1092.5,582.8 1093.2,583.5 C1093.9,584.2 1094.6,584.9 1095.3,585.7 C1096.0,586.4 1096.6,587.2 1097.3,587.9 C1098.0,588.7 1098.6,589.4 1099.2,590.2 C1099.9,590.9 1100.5,591.7 1101.2,592.5 C1101.8,593.3 1102.4,594.0 1103.0,594.8 C1103.6,595.6 1104.2,596.4 1104.8,597.2 C1105.4,598.0 1106.0,598.8 1106.6,599.7 C1107.2,600.5 1107.7,601.3 1108.3,602.1 C1108.9,602.9 1109.4,603.8 1110.0,604.6 C1110.5,605.5 1111.0,606.3 1111.5,607.2 C1112.1,608.0 1112.6,608.9 1113.1,609.7 C1113.6,610.6 1114.1,611.5 1114.5,612.4 C1115.0,613.2 1115.5,614.1 1115.9,615.0 C1116.4,615.9 1116.9,616.8 1117.3,617.7 C1117.7,618.6 1118.1,619.5 1118.6,620.4 C1119.0,621.3 1119.4,622.2 1119.8,623.2 C1120.1,624.1 1120.5,625.0 1120.9,625.9 C1121.3,626.9 1121.6,627.8 1122.0,628.8 C1122.3,629.7 1122.6,630.6 1123.0,631.6 C1123.3,632.5 1123.6,633.5 1123.9,634.4 C1124.2,635.4 1124.5,636.4 1124.7,637.3 C1125.0,638.3 1125.2,639.2 1125.5,640.2 C1125.7,641.2 1126.0,642.2 1126.2,643.1 C1126.4,644.1 1126.6,645.1 1126.8,646.1 C1127.0,647.0 1127.2,648.0 1127.3,649.0 C1127.5,650.0 1127.7,651.0 1127.8,652.0 C1127.9,653.0 1128.1,654.0 1128.2,655.0 C1128.3,656.0 1128.4,656.9 1128.5,657.9 C1128.6,658.9 1128.6,659.9 1128.7,660.9 C1128.7,661.9 1128.8,662.9 1128.8,663.9 C1128.8,664.9 1128.8,665.9 1128.8,666.9 C1128.8,667.9 1128.8,668.9 1128.8,669.9 C1128.8,670.9 1128.7,671.9 1128.7,672.9 C1128.6,673.9 1128.5,674.9 1128.5,675.9 C1128.4,676.9 1128.3,677.9 1128.2,678.9 C1128.1,679.9 1128.0,680.9 1127.9,681.9 C1127.7,682.9 1127.6,683.9 1127.5,684.9 C1127.3,685.9 1127.1,686.8 1127.0,687.8 C1126.8,688.8 1126.6,689.8 1126.4,690.8 C1126.3,691.8 1126.1,692.7 1125.9,693.7 C1125.6,694.7 1125.4,695.7 1125.2,696.7 C1125.0,697.6 1124.7,698.6 1124.5,699.6 C1124.3,700.5 1124.0,701.5 1123.7,702.5 C1123.5,703.4 1123.2,704.4 1122.9,705.4 C1122.7,706.3 1122.4,707.3 1122.1,708.2 C1121.8,709.2 1121.5,710.1 1121.2,711.1 C1120.9,712.1 1120.6,713.0 1120.3,714.0 C1119.9,714.9 1119.6,715.8 1119.3,716.8 C1118.9,717.7 1118.6,718.7 1118.3,719.6 C1117.9,720.5 1117.6,721.5 1117.2,722.4 C1116.8,723.4 1116.5,724.3 1116.1,725.2 C1115.7,726.1 1115.4,727.1 1115.0,728.0 C1114.6,728.9 1114.2,729.8 1113.8,730.8 C1113.4,731.7 1113.0,732.6 1112.6,733.5 C1112.2,734.4 1111.8,735.3 1111.4,736.2 C1111.0,737.2 1110.6,738.1 1110.1,739.0 C1109.7,739.9 1109.3,740.8 1108.8,741.7 C1108.4,742.6 1108.0,743.5 1107.5,744.4 C1107.1,745.3 1106.6,746.1 1106.1,747.0 C1105.7,747.9 1105.2,748.8 1104.8,749.7 C1104.3,750.6 1103.8,751.5 1103.3,752.3 C1102.9,753.2 1102.4,754.1 1101.9,755.0 C1101.4,755.8 1100.9,756.7 1100.4,757.6 C1099.9,758.4 1099.4,759.3 1098.9,760.2 C1098.4,761.0 1097.9,761.9 1097.4,762.7 C1096.9,763.6 1096.3,764.5 1095.8,765.3 C1095.3,766.2 1094.8,767.0 1094.2,767.9 C1093.7,768.7 1093.2,769.5 1092.6,770.4 C1092.1,771.2 1091.5,772.1 1091.0,772.9 C1090.4,773.7 1089.9,774.6 1089.3,775.4 C1088.7,776.2 1088.2,777.0 1087.6,777.9 C1087.0,778.7 1086.5,779.5 1085.9,780.3 C1085.3,781.2 1084.7,782.0 1084.2,782.8 C1083.6,783.6 1083.0,784.4 1082.4,785.2 C1081.8,786.0 1081.2,786.8 1080.6,787.6 C1080.0,788.4 1079.4,789.2 1078.8,790.0 C1078.2,790.8 1077.6,791.6 1077.0,792.4 C1076.4,793.2 1075.8,794.0 1075.2,794.8 C1074.5,795.6 1073.9,796.3 1073.3,797.1 C1072.7,797.9 1072.0,798.7 1071.4,799.5 C1070.8,800.2 1070.1,801.0 1069.5,801.8 C1068.9,802.5 1068.2,803.3 1067.6,804.1 C1066.9,804.8 1066.3,805.6 1065.6,806.4 C1065.0,807.1 1064.3,807.9 1063.7,808.6 C1063.0,809.4 1062.3,810.1 1061.7,810.9 C1061.0,811.6 1060.4,812.4 1059.7,813.1 C1059.0,813.9 1058.3,814.6 1057.7,815.3 C1057.0,816.1 1056.3,816.8 1055.6,817.5 C1055.0,818.3 1054.3,819.0 1053.6,819.7 C1052.9,820.5 1052.2,821.2 1051.5,821.9 C1050.8,822.6 1050.1,823.4 1049.4,824.1 C1048.7,824.8 1048.0,825.5 1047.3,826.2 C1046.6,826.9 1045.9,827.6 1045.2,828.4 C1044.5,829.1 1043.8,829.8 1043.1,830.5 C1042.4,831.2 1041.7,831.9 1041.0,832.6 C1040.3,833.3 1039.5,834.0 1038.8,834.7 C1038.1,835.4 1037.4,836.0 1036.6,836.7 C1035.9,837.4 1035.2,838.1 1034.5,838.8 C1033.7,839.5 1033.0,840.2 1032.3,840.8 C1031.5,841.5 1030.8,842.2 1030.1,842.9 C1029.3,843.5 1028.6,844.2 1027.8,844.9 C1027.1,845.6 1026.3,846.2 1025.6,846.9 C1024.9,847.5 1024.1,848.2 1023.4,848.9 C1022.6,849.5 1021.8,850.2 1021.1,850.8 C1020.3,851.5 1019.6,852.2 1018.8,852.8 C1018.1,853.5 1017.3,854.1 1016.5,854.7 C1015.8,855.4 1015.0,856.0 1014.2,856.7 C1013.5,857.3 1012.7,858.0 1011.9,858.6 C1011.2,859.2 1010.4,859.9 1009.6,860.5 C1008.8,861.1 1008.1,861.8 1007.3,862.4 C1006.5,863.0 1005.7,863.6 1004.9,864.2 C1004.1,864.9 1003.4,865.5 1002.6,866.1 C1001.8,866.7 1001.0,867.3 1000.2,867.9 C999.4,868.6 998.6,869.2 997.8,869.8 C997.0,870.4 996.2,871.0 995.4,871.6 C994.6,872.2 993.8,872.8 993.0,873.4 C992.2,874.0 991.4,874.6 990.6,875.2 C989.8,875.8 989.0,876.3 988.2,876.9 C987.4,877.5 986.6,878.1 985.8,878.7 C985.0,879.3 984.1,879.9 983.3,880.4 C982.5,881.0 981.7,881.6 980.9,882.2 C980.0,882.7 979.2,883.3 978.4,883.9 C977.6,884.4 976.8,885.0 975.9,885.6 C975.1,886.1 974.3,886.7 973.4,887.2 C972.6,887.8 971.8,888.3 970.9,888.9 C970.1,889.5 969.3,890.0 968.4,890.5 C967.6,891.1 966.8,891.6 965.9,892.2 C965.1,892.7 964.2,893.3 963.4,893.8 C962.6,894.3 961.7,894.9 960.9,895.4 C960.0,895.9 959.2,896.5 958.3,897.0 C957.5,897.5 956.6,898.1 955.8,898.6 C954.9,899.1 954.1,899.6 953.2,900.1 C952.3,900.7 951.5,901.2 950.6,901.7 C949.8,902.2 948.9,902.7 948.1,903.2 C947.2,903.7 946.3,904.2 945.5,904.7 C944.6,905.2 943.7,905.7 942.9,906.2 C942.0,906.7 941.1,907.2 940.3,907.7 C939.4,908.2 938.5,908.7 937.6,909.2 C936.8,909.7 935.9,910.2 935.0,910.6 C934.1,911.1 933.3,911.6 932.4,912.1 C931.5,912.6 930.6,913.0 929.8,913.5 C928.9,914.0 928.0,914.5 927.1,914.9 C926.2,915.4 925.3,915.9 924.5,916.3 C923.6,916.8 922.7,917.3 921.8,917.7 C920.9,918.2 920.0,918.6 919.1,919.1 C918.2,919.5 917.3,920.0 916.4,920.4 C915.5,920.9 914.7,921.3 913.8,921.8 C912.9,922.2 912.0,922.7 911.1,923.1 C910.2,923.5 909.3,924.0 908.4,924.4 C907.5,924.8 906.6,925.3 905.7,925.7 C904.8,926.1 903.9,926.6 903.0,927.0 C902.0,927.4 901.1,927.8 900.2,928.3 C899.3,928.7 898.4,929.1 897.5,929.5 C896.6,929.9 895.7,930.3 894.8,930.7 C893.9,931.2 892.9,931.6 892.0,932.0 C891.1,932.4 890.2,932.8 889.3,933.2 C888.4,933.6 887.5,934.0 886.5,934.4 C885.6,934.8 884.7,935.2 883.8,935.6 C882.9,936.0 881.9,936.3 881.0,936.7 C880.1,937.1 879.2,937.5 878.2,937.9 C877.3,938.3 876.4,938.6 875.5,939.0 C874.5,939.4 873.6,939.8 872.7,940.2 C871.8,940.5 870.8,940.9 869.9,941.3 C869.0,941.6 868.0,942.0 867.1,942.4 C866.2,942.7 865.3,943.1 864.3,943.4 C863.4,943.8 862.5,944.2 861.5,944.5 C860.6,944.9 859.6,945.2 858.7,945.6 C857.8,945.9 856.8,946.3 855.9,946.6 C855.0,947.0 854.0,947.3 853.1,947.7 C852.1,948.0 851.2,948.3 850.3,948.7 C849.3,949.0 848.4,949.3 847.4,949.7 C846.5,950.0 845.5,950.3 844.6,950.7 C843.7,951.0 842.7,951.3 841.8,951.6 C840.8,952.0 839.9,952.3 838.9,952.6 C838.0,952.9 837.0,953.2 836.1,953.5 C835.1,953.9 834.2,954.2 833.2,954.5 C832.3,954.8 831.3,955.1 830.4,955.4 C829.4,955.7 828.5,956.0 827.5,956.3 C826.6,956.6 825.6,956.9 824.6,957.2 C823.7,957.5 822.7,957.8 821.8,958.1 C820.8,958.4 819.9,958.7 818.9,959.0 C818.0,959.3 817.0,959.5 816.0,959.8 C815.1,960.1 814.1,960.4 813.2,960.7 C812.2,961.0 811.2,961.2 810.3,961.5 C809.3,961.8 808.3,962.1 807.4,962.3 C806.4,962.6 805.5,962.9 804.5,963.1 C803.5,963.4 802.6,963.7 801.6,963.9 C800.6,964.2 799.7,964.4 798.7,964.7 C797.7,965.0 796.8,965.2 795.8,965.5 C794.8,965.7 793.9,966.0 792.9,966.2 C791.9,966.5 791.0,966.7 790.0,967.0 C789.0,967.2 788.1,967.5 787.1,967.7 C786.1,967.9 785.1,968.2 784.2,968.4 C783.2,968.7 782.2,968.9 781.3,969.1 C780.3,969.4 779.3,969.6 778.3,969.8 C777.4,970.1 776.4,970.3 775.4,970.5 C774.4,970.7 773.5,971.0 772.5,971.2 C771.5,971.4 770.5,971.6 769.6,971.8 C768.6,972.1 767.6,972.3 766.6,972.5 C765.7,972.7 764.7,972.9 763.7,973.1 C762.7,973.3 761.8,973.5 760.8,973.7 C759.8,973.9 758.8,974.1 757.8,974.3 C756.9,974.5 755.9,974.7 754.9,974.9 C753.9,975.1 752.9,975.3 752.0,975.5 C751.0,975.7 750.0,975.9 749.0,976.1 C748.0,976.3 747.0,976.5 746.1,976.7 C745.1,976.9 744.1,977.0 743.1,977.2 C742.1,977.4 741.1,977.6 740.2,977.8 C739.2,977.9 738.2,978.1 737.2,978.3 C736.2,978.5 735.2,978.6 734.3,978.8 C733.3,979.0 732.3,979.1 731.3,979.3 C730.3,979.5 729.3,979.6 728.3,979.8 C727.3,980.0 726.4,980.1 725.4,980.3 C724.4,980.4 723.4,980.6 722.4,980.8 C721.4,980.9 720.4,981.1 719.4,981.2 C718.5,981.4 717.5,981.5 716.5,981.7 C715.5,981.8 714.5,982.0 713.5,982.1 C712.5,982.2 711.5,982.4 710.5,982.5 C709.6,982.7 708.6,982.8 707.6,982.9 C706.6,983.1 705.6,983.2 704.6,983.3 C703.6,983.5 702.6,983.6 701.6,983.7 C700.6,983.9 699.6,984.0 698.6,984.1 C697.7,984.2 696.7,984.4 695.7,984.5 C694.7,984.6 693.7,984.7 692.7,984.8 C691.7,985.0 690.7,985.1 689.7,985.2 C688.7,985.3 687.7,985.4 686.7,985.5 C685.7,985.6 684.7,985.8 683.8,985.9 C682.8,986.0 681.8,986.1 680.8,986.2 C679.8,986.3 678.8,986.4 677.8,986.5 C676.8,986.6 675.8,986.7 674.8,986.8 C673.8,986.9 672.8,987.0 671.8,987.1 C670.8,987.2 669.8,987.2 668.8,987.3 C667.8,987.4 666.8,987.5 665.8,987.6 C664.8,987.7 663.8,987.8 662.8,987.9 C661.8,987.9 660.9,988.0 659.9,988.1 C658.9,988.2 657.9,988.2 656.9,988.3 C655.9,988.4 654.9,988.5 653.9,988.5 C652.9,988.6 651.9,988.7 650.9,988.7 C649.9,988.8 648.9,988.8 647.9,988.9 C646.9,989.0 645.9,989.0 644.9,989.1 C643.9,989.1 642.9,989.2 641.9,989.2 C640.9,989.3 639.9,989.3 638.9,989.4 C637.9,989.4 636.9,989.5 635.9,989.5 C634.9,989.5 633.9,989.6 632.9,989.6 C631.9,989.6 630.9,989.7 629.9,989.7 C628.9,989.7 627.9,989.7 626.9,989.8 C625.9,989.8 624.9,989.8 623.9,989.8 C622.9,989.8 621.9,989.9 620.9,989.9 C619.9,989.9 618.9,989.9 617.9,989.9 C616.9,989.9 615.9,989.9 614.9,989.9 C613.9,989.9 612.9,989.9 611.9,989.9 C610.9,989.9 609.9,989.9 608.9,989.8 C607.9,989.8 606.9,989.8 605.9,989.8 C604.9,989.8 603.9,989.7 602.9,989.7 C601.9,989.7 600.9,989.6 599.9,989.6 C598.9,989.6 597.9,989.5 596.9,989.5 C595.9,989.4 594.9,989.4 593.9,989.4 C592.9,989.3 591.9,989.3 590.9,989.2 C589.9,989.1 588.9,989.1 587.9,989.0 C586.9,988.9 585.9,988.9 584.9,988.8 C583.9,988.7 582.9,988.7 581.9,988.6 C580.9,988.5 579.9,988.4 578.9,988.3 C577.9,988.2 577.0,988.2 576.0,988.1 C575.0,988.0 574.0,987.9 573.0,987.8 C572.0,987.7 571.0,987.5 570.0,987.4 C569.0,987.3 568.0,987.2 567.0,987.1 C566.0,987.0 565.0,986.8 564.0,986.7 C563.0,986.6 562.0,986.5 561.1,986.3 C560.1,986.2 559.1,986.0 558.1,985.9 C557.1,985.8 556.1,985.6 555.1,985.4 C554.1,985.3 553.1,985.1 552.2,985.0 C551.2,984.8 550.2,984.6 549.2,984.5 C548.2,984.3 547.2,984.1 546.2,983.9 C545.3,983.8 544.3,983.6 543.3,983.4 C542.3,983.2 541.3,983.0 540.4,982.8 C539.4,982.6 538.4,982.4 537.4,982.2 C536.4,982.0 535.5,981.8 534.5,981.6 C533.5,981.4 532.5,981.1 531.6,980.9 C530.6,980.7 529.6,980.5 528.6,980.2 C527.7,980.0 526.7,979.7 525.7,979.5 C524.8,979.3 523.8,979.0 522.8,978.8 C521.9,978.5 520.9,978.2 519.9,978.0 C519.0,977.7 518.0,977.5 517.0,977.2 C516.1,976.9 515.1,976.6 514.2,976.3 C513.2,976.1 512.2,975.8 511.3,975.5 C510.3,975.2 509.4,974.9 508.4,974.6 C507.5,974.3 506.5,974.0 505.6,973.7 C504.6,973.4 503.7,973.0 502.7,972.7 C501.8,972.4 500.8,972.1 499.9,971.7 C498.9,971.4 498.0,971.1 497.1,970.7 C496.1,970.4 495.2,970.0 494.2,969.7 C493.3,969.3 492.4,968.9 491.5,968.6 C490.5,968.2 489.6,967.8 488.7,967.5 C487.7,967.1 486.8,966.7 485.9,966.3 C485.0,965.9 484.1,965.5 483.1,965.1 C482.2,964.7 481.3,964.3 480.4,963.9 C479.5,963.5 478.6,963.1 477.7,962.7 C476.8,962.2 475.9,961.8 475.0,961.4 C474.1,960.9 473.2,960.5 472.3,960.1 C471.4,959.6 470.5,959.2 469.6,958.7 C468.7,958.2 467.8,957.8 466.9,957.3 C466.0,956.8 465.2,956.4 464.3,955.9 C463.4,955.4 462.5,954.9 461.7,954.4 C460.8,953.9 459.9,953.4 459.1,952.9 C458.2,952.4 457.4,951.9 456.5,951.4 C455.6,950.9 454.8,950.3 453.9,949.8 C453.1,949.3 452.3,948.7 451.4,948.2 C450.6,947.6 449.7,947.1 448.9,946.5 C448.1,946.0 447.3,945.4 446.4,944.8 C445.6,944.3 444.8,943.7 444.0,943.1 C443.2,942.5 442.4,941.9 441.6,941.3 C440.8,940.7 440.0,940.1 439.2,939.5 C438.4,938.9 437.6,938.3 436.8,937.7 C436.0,937.0 435.3,936.4 434.5,935.8 C433.7,935.1 433.0,934.5 432.2,933.8 C431.5,933.2 430.7,932.5 430.0,931.9 C429.2,931.2 428.5,930.5 427.7,929.8 C427.0,929.2 426.3,928.5 425.5,927.8 C424.8,927.1 424.1,926.4 423.4,925.7 C422.7,925.0 422.0,924.3 421.3,923.5 C420.6,922.8 419.9,922.1 419.2,921.4 C418.5,920.6 417.9,919.9 417.2,919.2 C416.5,918.4 415.9,917.7 415.2,916.9 C414.6,916.2 413.9,915.4 413.3,914.6 C412.6,913.9 412.0,913.1 411.4,912.3 C410.7,911.5 410.1,910.7 409.5,910.0 C408.9,909.2 408.3,908.4 407.7,907.6 C407.1,906.8 406.5,906.0 405.9,905.2 C405.3,904.4 404.7,903.5 404.2,902.7 C403.6,901.9 403.0,901.1 402.5,900.3 C401.9,899.4 401.3,898.6 400.8,897.8 C400.2,896.9 399.7,896.1 399.2,895.2 C398.6,894.4 398.1,893.5 397.6,892.7 C397.1,891.8 396.5,891.0 396.0,890.1 C395.5,889.3 395.0,888.4 394.5,887.5 C394.0,886.6 393.5,885.8 393.1,884.9 C392.6,884.0 392.1,883.1 391.6,882.3 C391.2,881.4 390.7,880.5 390.2,879.6 C389.8,878.7 389.3,877.8 388.9,876.9 C388.4,876.0 388.0,875.1 387.6,874.2 C387.1,873.3 386.7,872.4 386.3,871.5 C385.9,870.6 385.5,869.7 385.0,868.8 C384.6,867.9 384.2,867.0 383.8,866.0 C383.4,865.1 383.1,864.2 382.7,863.3 C382.3,862.4 381.9,861.4 381.5,860.5 C381.2,859.6 380.8,858.6 380.4,857.7 C380.1,856.8 379.7,855.8 379.4,854.9 C379.0,854.0 378.7,853.0 378.3,852.1 C378.0,851.1 377.7,850.2 377.3,849.3 C377.0,848.3 376.7,847.4 376.4,846.4 C376.1,845.5 375.8,844.5 375.4,843.6 C375.1,842.6 374.8,841.7 374.6,840.7 C374.3,839.7 374.0,838.8 373.7,837.8 C373.4,836.9 373.1,835.9 372.9,834.9 C372.6,834.0 372.3,833.0 372.1,832.1 C371.8,831.1 371.6,830.1 371.3,829.1 C371.1,828.2 370.8,827.2 370.6,826.2 C370.4,825.3 370.1,824.3 369.9,823.3 C369.7,822.3 369.5,821.4 369.3,820.4 C369.1,819.4 368.8,818.4 368.7,817.4 C368.5,816.5 368.3,815.5 368.1,814.5 C367.9,813.5 367.7,812.5 367.5,811.6 C367.4,810.6 367.2,809.6 367.0,808.6 C366.9,807.6 366.7,806.6 366.6,805.6 C366.4,804.6 366.3,803.6 366.2,802.7 C366.0,801.7 365.9,800.7 365.8,799.7 C365.7,798.7 365.6,797.7 365.5,796.7 C365.4,795.7 365.3,794.7 365.2,793.7 C365.1,792.7 365.0,791.7 364.9,790.7 C364.8,789.7 364.8,788.7 364.7,787.7 C364.6,786.7 364.6,785.7 364.5,784.7 C364.5,783.7 364.4,782.7 364.4,781.7 C364.4,780.7 364.4,779.7 364.3,778.7 C364.3,777.7 364.3,776.7 364.3,775.7 C364.3,774.7 364.3,773.7 364.3,772.7 C364.3,771.7 364.4,770.7 364.4,769.7Z"/>
<path d="M1046.4,547.9 C1046.0,547.8 1044.5,547.5 1043.5,547.3 C1042.5,547.1 1041.6,546.8 1040.6,546.6 C1039.6,546.4 1038.6,546.2 1037.7,546.0 C1036.7,545.7 1035.7,545.5 1034.7,545.3 C1033.8,545.1 1032.8,544.9 1031.8,544.7 C1030.8,544.5 1029.8,544.3 1028.9,544.0 C1027.9,543.8 1026.9,543.6 1025.9,543.4 C1025.0,543.2 1024.0,543.0 1023.0,542.8 C1022.0,542.6 1021.0,542.4 1020.1,542.2 C1019.1,542.0 1018.1,541.8 1017.1,541.6 C1016.1,541.4 1015.1,541.3 1014.2,541.1 C1013.2,540.9 1012.2,540.7 1011.2,540.5 C1010.2,540.3 1009.3,540.1 1008.3,539.9 C1007.3,539.8 1006.3,539.6 1005.3,539.4 C1004.3,539.2 1003.4,539.0 1002.4,538.8 C1001.4,538.7 1000.4,538.5 999.4,538.3 C998.4,538.1 997.4,538.0 996.5,537.8 C995.5,537.6 994.5,537.5 993.5,537.3 C992.5,537.1 991.5,537.0 990.5,536.8 C989.6,536.6 988.6,536.5 987.6,536.3 C986.6,536.1 985.6,536.0 984.6,535.8 C983.6,535.7 982.6,535.5 981.7,535.3 C980.7,535.2 979.7,535.0 978.7,534.9 C977.7,534.7 976.7,534.6 975.7,534.4 C974.7,534.3 973.7,534.1 972.8,534.0 C971.8,533.8 970.8,533.7 969.8,533.6 C968.8,533.4 967.8,533.3 966.8,533.1 C965.8,533.0 964.8,532.9 963.8,532.7 C962.9,532.6 961.9,532.5 960.9,532.3 C959.9,532.2 958.9,532.1 957.9,531.9 C956.9,531.8 955.9,531.7 954.9,531.6 C953.9,531.4 952.9,531.3 951.9,531.2 C950.9,531.1 950.0,530.9 949.0,530.8 C948.0,530.7 947.0,530.6 946.0,530.5 C945.0,530.4 944.0,530.2 943.0,530.1 C942.0,530.0 941.0,529.9 940.0,529.8 C939.0,529.7 938.0,529.6 937.0,529.5 C936.0,529.4 935.0,529.3 934.1,529.2 C933.1,529.1 932.1,529.0 931.1,528.9 C930.1,528.8 929.1,528.7 928.1,528.6 C927.1,528.5 926.1,528.4 925.1,528.3 C924.1,528.2 923.1,528.1 922.1,528.0 C921.1,527.9 920.1,527.9 919.1,527.8 C918.1,527.7 917.1,527.6 916.1,527.5 C915.1,527.4 914.1,527.4 913.1,527.3 C912.1,527.2 911.1,527.1 910.1,527.1 C909.1,527.0 908.1,526.9 907.1,526.8 C906.1,526.8 905.1,526.7 904.2,526.6 C903.2,526.6 902.2,526.5 901.2,526.4 C900.2,526.4 899.2,526.3 898.2,526.3 C897.2,526.2 896.2,526.1 895.2,526.1 C894.2,526.0 893.2,526.0 892.2,525.9 C891.2,525.9 890.2,525.8 889.2,525.8 C888.2,525.7 887.2,525.7 886.2,525.6 C885.2,525.6 884.2,525.5 883.2,525.5 C882.2,525.4 881.2,525.4 880.2,525.4 C879.2,525.3 878.2,525.3 877.2,525.2 C876.2,525.2 875.2,525.2 874.2,525.1 C873.2,525.1 872.2,525.1 871.2,525.1 C870.2,525.0 869.2,525.0 868.2,525.0 C867.2,525.0 866.2,524.9 865.2,524.9 C864.2,524.9 863.2,524.9 862.2,524.8 C861.2,524.8 860.2,524.8 859.2,524.8 C858.2,524.8 857.2,524.8 856.2,524.8 C855.2,524.7 854.2,524.7 853.2,524.7 C852.2,524.7 851.2,524.7 850.2,524.7 C849.2,524.7 848.2,524.7 847.2,524.7 C846.2,524.7 845.2,524.7 844.2,524.7 C843.2,524.7 842.2,524.7 841.2,524.7 C840.2,524.7 839.2,524.7 838.2,524.8 C837.2,524.8 836.2,524.8 835.2,524.8 C834.2,524.8 833.2,524.8 832.2,524.8 C831.2,524.9 830.2,524.9 829.2,524.9 C828.2,524.9 827.2,524.9 826.2,525.0 C825.2,525.0 824.2,525.0 823.2,525.1 C822.2,525.1 821.2,525.1 820.2,525.1 C819.2,525.2 818.2,525.2 817.2,525.2 C816.2,525.3 815.2,525.3 814.2,525.4 C813.2,525.4 812.2,525.4 811.2,525.5 C810.2,525.5 809.2,525.6 808.2,525.6 C807.2,525.7 806.2,525.7 805.2,525.8 C804.2,525.8 803.2,525.9 802.2,525.9 C801.2,526.0 800.2,526.0 799.2,526.1 C798.2,526.1 797.2,526.2 796.2,526.3 C795.2,526.3 794.2,526.4 793.2,526.5 C792.2,526.5 791.2,526.6 790.2,526.7 C789.2,526.7 788.2,526.8 787.2,526.9 C786.2,526.9 785.2,527.0 784.2,527.1 C783.2,527.2 782.2,527.2 781.2,527.3 C780.2,527.4 779.2,527.5 778.2,527.6 C777.2,527.6 776.2,527.7 775.2,527.8 C774.3,527.9 773.3,528.0 772.3,528.1 C771.3,528.2 770.3,528.3 769.3,528.4 C768.3,528.5 767.3,528.6 766.3,528.7 C765.3,528.8 764.3,528.9 763.3,529.0 C762.3,529.1 761.3,529.2 760.3,529.3 C759.3,529.4 758.3,529.5 757.3,529.6 C756.3,529.7 755.3,529.8 754.3,529.9 C753.4,530.0 752.4,530.1 751.4,530.3 C750.4,530.4 749.4,530.5 748.4,530.6 C747.4,530.7 746.4,530.9 745.4,531.0 C744.4,531.1 743.4,531.2 742.4,531.4 C741.4,531.5 740.4,531.6 739.5,531.7 C738.5,531.9 737.5,532.0 736.5,532.1 C735.5,532.3 734.5,532.4 733.5,532.6 C732.5,532.7 731.5,532.8 730.5,533.0 C729.5,533.1 728.6,533.3 727.6,533.4 C726.6,533.6 725.6,533.7 724.6,533.9 C723.6,534.0 722.6,534.2 721.6,534.3 C720.6,534.5 719.7,534.6 718.7,534.8 C717.7,534.9 716.7,535.1 715.7,535.3 C714.7,535.4 713.7,535.6 712.7,535.7 C711.8,535.9 710.8,536.1 709.8,536.2 C708.8,536.4 707.8,536.6 706.8,536.8 C705.8,536.9 704.9,537.1 703.9,537.3 C702.9,537.5 701.9,537.6 700.9,537.8 C699.9,538.0 699.0,538.2 698.0,538.4 C697.0,538.5 696.0,538.7 695.0,538.9 C694.0,539.1 693.1,539.3 692.1,539.5 C691.1,539.7 690.1,539.9 689.1,540.1 C688.2,540.2 687.2,540.4 686.2,540.6 C685.2,540.8 684.2,541.0 683.3,541.2 C682.3,541.4 681.3,541.6 680.3,541.9 C679.3,542.1 678.4,542.3 677.4,542.5 C676.4,542.7 675.4,542.9 674.4,543.1 C673.5,543.3 672.5,543.5 671.5,543.8 C670.5,544.0 669.6,544.2 668.6,544.4 C667.6,544.6 666.6,544.8 665.7,545.1 C664.7,545.3 663.7,545.5 662.7,545.8 C661.8,546.0 660.8,546.2 659.8,546.4 C658.8,546.7 657.9,546.9 656.9,547.1 C655.9,547.4 655.0,547.6 654.0,547.9 C653.0,548.1 652.0,548.3 651.1,548.6 C650.1,548.8 649.1,549.1 648.2,549.3 C647.2,549.6 646.2,549.8 645.3,550.0 C644.3,550.3 643.3,550.6 642.3,550.8 C641.4,551.1 640.4,551.3 639.4,551.6 C638.5,551.8 637.5,552.1 636.5,552.3 C635.6,552.6 634.6,552.9 633.7,553.1 C632.7,553.4 631.7,553.7 630.8,553.9 C629.8,554.2 628.8,554.5 627.9,554.7 C626.9,555.0 625.9,555.3 625.0,555.6 C624.0,555.8 623.1,556.1 622.1,556.4 C621.1,556.7 620.2,557.0 619.2,557.2 C618.3,557.5 617.3,557.8 616.3,558.1 C615.4,558.4 614.4,558.7 613.5,559.0 C612.5,559.3 611.6,559.5 610.6,559.8 C609.6,560.1 608.7,560.4 607.7,560.7 C606.8,561.0 605.8,561.3 604.9,561.6 C603.9,561.9 603.0,562.2 602.0,562.5 C601.1,562.8 600.1,563.1 599.2,563.5 C598.2,563.8 597.3,564.1 596.3,564.4 C595.4,564.7 594.4,565.0 593.5,565.3 C592.5,565.6 591.6,566.0 590.6,566.3 C589.7,566.6 588.7,566.9 587.8,567.2 C586.8,567.6 585.9,567.9 584.9,568.2 C584.0,568.5 583.0,568.9 582.1,569.2 C581.1,569.5 580.2,569.9 579.3,570.2 C578.3,570.5 577.4,570.9 576.4,571.2 C575.5,571.5 574.6,571.9 573.6,572.2 C572.7,572.6 571.7,572.9 570.8,573.3 C569.9,573.6 568.9,574.0 568.0,574.3 C567.0,574.7 566.1,575.0 565.2,575.4 C564.2,575.7 563.3,576.1 562.4,576.4 C561.4,576.8 560.5,577.2 559.6,577.5 C558.6,577.9 557.7,578.2 556.8,578.6 C555.8,579.0 554.9,579.3 554.0,579.7 C553.1,580.1 552.1,580.5 551.2,580.8 C550.3,581.2 549.4,581.6 548.4,582.0 C547.5,582.4 546.6,582.7 545.7,583.1 C544.7,583.5 543.8,583.9 542.9,584.3 C542.0,584.7 541.1,585.1 540.1,585.5 C539.2,585.9 538.3,586.3 537.4,586.7 C536.5,587.1 535.6,587.5 534.6,587.9 C533.7,588.3 532.8,588.7 531.9,589.1 C531.0,589.5 530.1,589.9 529.2,590.4 C528.3,590.8 527.4,591.2 526.4,591.6 C525.5,592.0 524.6,592.5 523.7,592.9 C522.8,593.3 521.9,593.7 521.0,594.2 C520.1,594.6 519.2,595.0 518.3,595.5 C517.4,595.9 516.5,596.4 515.6,596.8 C514.7,597.3 513.8,597.7 512.9,598.2 C512.1,598.6 511.2,599.1 510.3,599.5 C509.4,600.0 508.5,600.4 507.6,600.9 C506.7,601.4 505.8,601.8 505.0,602.3 C504.1,602.8 503.2,603.2 502.3,603.7 C501.4,604.2 500.5,604.7 499.7,605.2 C498.8,605.6 497.9,606.1 497.0,606.6 C496.2,607.1 495.3,607.6 494.4,608.1 C493.6,608.6 492.7,609.1 491.8,609.6 C491.0,610.1 490.1,610.6 489.2,611.1 C488.4,611.6 487.5,612.1 486.7,612.6 C485.8,613.1 485.0,613.7 484.1,614.2 C483.2,614.7 482.4,615.2 481.5,615.8 C480.7,616.3 479.8,616.8 479.0,617.4 C478.2,617.9 477.3,618.4 476.5,619.0 C475.6,619.5 474.8,620.1 474.0,620.6 C473.1,621.2 472.3,621.7 471.5,622.3 C470.6,622.8 469.8,623.4 469.0,624.0 C468.2,624.5 467.3,625.1 466.5,625.7 C465.7,626.3 464.9,626.8 464.1,627.4 C463.3,628.0 462.4,628.6 461.6,629.2 C460.8,629.7 460.0,630.3 459.2,630.9 C458.4,631.5 457.6,632.1 456.8,632.7 C456.0,633.3 455.2,633.9 454.4,634.6 C453.6,635.2 452.8,635.8 452.1,636.4 C451.3,637.0 450.5,637.7 449.7,638.3 C448.9,638.9 448.2,639.5 447.4,640.2 C446.6,640.8 445.9,641.5 445.1,642.1 C444.3,642.7 443.6,643.4 442.8,644.0 C442.0,644.7 441.3,645.3 440.5,646.0 C439.8,646.7 439.0,647.3 438.3,648.0 C437.5,648.7 436.8,649.3 436.1,650.0 C435.3,650.7 434.6,651.4 433.9,652.1 C433.1,652.7 432.4,653.4 431.7,654.1 C431.0,654.8 430.3,655.5 429.5,656.2 C428.8,656.9 428.1,657.6 427.4,658.3 C426.7,659.0 426.0,659.8 425.3,660.5 C424.6,661.2 423.9,661.9 423.2,662.6 C422.6,663.4 421.9,664.1 421.2,664.8 C420.5,665.6 419.8,666.3 419.2,667.1 C418.5,667.8 417.8,668.5 417.2,669.3 C416.5,670.0 415.9,670.8 415.2,671.6 C414.6,672.3 413.9,673.1 413.3,673.9 C412.6,674.6 412.0,675.4 411.4,676.2 C410.7,676.9 410.1,677.7 409.5,678.5 C408.9,679.3 408.2,680.1 407.6,680.9 C407.0,681.7 406.4,682.5 405.8,683.3 C405.2,684.1 404.6,684.9 404.0,685.7 C403.4,686.5 402.8,687.3 402.3,688.1 C401.7,688.9 401.1,689.7 400.5,690.6 C400.0,691.4 399.4,692.2 398.9,693.0 C398.3,693.9 397.7,694.7 397.2,695.5 C396.6,696.4 396.1,697.2 395.6,698.1 C395.0,698.9 394.5,699.8 394.0,700.6 C393.5,701.5 392.9,702.3 392.4,703.2 C391.9,704.0 391.4,704.9 390.9,705.8 C390.4,706.6 389.9,707.5 389.4,708.4 C388.9,709.2 388.5,710.1 388.0,711.0 C387.5,711.9 387.0,712.8 386.6,713.6 C386.1,714.5 385.7,715.4 385.2,716.3 C384.8,717.2 384.3,718.1 383.9,719.0 C383.4,719.9 383.0,720.8 382.6,721.7 C382.2,722.6 381.8,723.5 381.4,724.5 C380.9,725.4 380.5,726.3 380.2,727.2 C379.8,728.1 379.4,729.1 379.0,730.0 C378.6,730.9 378.3,731.8 377.9,732.8 C377.5,733.7 377.2,734.6 376.8,735.6 C376.5,736.5 376.2,737.5 375.8,738.4 C375.5,739.4 375.2,740.3 374.9,741.3 C374.6,742.2 374.3,743.2 374.0,744.1 C373.7,745.1 373.4,746.0 373.1,747.0 C372.9,748.0 372.6,748.9 372.4,749.9 C372.1,750.9 371.9,751.8 371.6,752.8 C371.4,753.8 371.2,754.7 371.0,755.7 C370.7,756.7 370.5,757.7 370.3,758.7 C370.1,759.6 370.0,760.6 369.8,761.6 C369.6,762.6 369.5,763.6 369.3,764.6 C369.2,765.6 369.0,766.6 368.9,767.5 C368.8,768.5 368.7,769.5 368.6,770.5 C368.5,771.5 368.4,772.5 368.3,773.5 C368.2,774.5 368.1,775.5 368.1,776.5 C368.0,777.5 368.0,778.5 367.9,779.5 C367.9,780.5 367.9,781.5 367.9,782.5 C367.9,783.5 367.9,784.5 367.9,785.5 C367.9,786.5 367.9,787.5 367.9,788.5 C368.0,789.5 368.0,790.5 368.0,791.5 C368.1,792.5 368.2,793.5 368.2,794.5 C368.3,795.5 368.4,796.5 368.5,797.5 C368.6,798.5 368.7,799.5 368.8,800.5 C368.9,801.5 369.0,802.5 369.1,803.5 C369.3,804.4 369.4,805.4 369.6,806.4 C369.7,807.4 369.9,808.4 370.0,809.4 C370.2,810.4 370.4,811.4 370.5,812.3 C370.7,813.3 370.9,814.3 371.1,815.3 C371.3,816.3 371.5,817.2 371.8,818.2 C372.0,819.2 372.2,820.2 372.4,821.1 C372.7,822.1 372.9,823.1 373.2,824.1 C373.4,825.0 373.7,826.0 373.9,827.0 C374.2,827.9 374.5,828.9 374.8,829.8 C375.1,830.8 375.4,831.8 375.7,832.7 C376.0,833.7 376.3,834.6 376.6,835.6 C376.9,836.5 377.2,837.5 377.5,838.4 C377.9,839.3 378.2,840.3 378.6,841.2 C378.9,842.2 379.3,843.1 379.6,844.0 C380.0,845.0 380.3,845.9 380.7,846.8 C381.1,847.8 381.5,848.7 381.9,849.6 C382.2,850.5 382.6,851.4 383.0,852.4 C383.4,853.3 383.9,854.2 384.3,855.1 C384.7,856.0 385.1,856.9 385.6,857.8 C386.0,858.7 386.4,859.6 386.9,860.5 C387.3,861.4 387.8,862.3 388.2,863.2 C388.7,864.1 389.2,864.9 389.7,865.8 C390.1,866.7 390.6,867.6 391.1,868.5 C391.6,869.3 392.1,870.2 392.6,871.1 C393.1,871.9 393.6,872.8 394.1,873.6 C394.7,874.5 395.2,875.3 395.7,876.2 C396.3,877.0 396.8,877.9 397.4,878.7 C397.9,879.5 398.5,880.4 399.0,881.2 C399.6,882.0 400.2,882.8 400.7,883.7 C401.3,884.5 401.9,885.3 402.5,886.1 C403.1,886.9 403.7,887.7 404.3,888.5 C404.9,889.3 405.5,890.1 406.1,890.9 C406.8,891.6 407.4,892.4 408.0,893.2 C408.7,894.0 409.3,894.7 410.0,895.5 C410.6,896.2 411.3,897.0 411.9,897.8 C412.6,898.5 413.3,899.2 413.9,900.0 C414.6,900.7 415.3,901.4 416.0,902.2 C416.7,902.9 417.4,903.6 418.1,904.3 C418.8,905.0 419.5,905.7 420.2,906.4 C420.9,907.1 421.6,907.8 422.4,908.5 C423.1,909.2 423.8,909.9 424.6,910.5 C425.3,911.2 426.1,911.9 426.8,912.5 C427.6,913.2 428.3,913.8 429.1,914.5 C429.9,915.1 430.6,915.8 431.4,916.4 C432.2,917.0 433.0,917.6 433.8,918.3 C434.6,918.9 435.4,919.5 436.2,920.1 C437.0,920.7 437.8,921.3 438.6,921.8 C439.4,922.4 440.2,923.0 441.0,923.6 C441.9,924.1 442.7,924.7 443.5,925.3 C444.4,925.8 445.2,926.4 446.0,926.9 C446.9,927.5 447.7,928.0 448.6,928.5 C449.4,929.0 450.3,929.6 451.1,930.1 C452.0,930.6 452.8,931.1 453.7,931.6 C454.6,932.1 455.4,932.6 456.3,933.1 C457.2,933.6 458.1,934.1 458.9,934.5 C459.8,935.0 460.7,935.5 461.6,936.0 C462.5,936.4 463.4,936.9 464.3,937.3 C465.1,937.8 466.0,938.2 466.9,938.7 C467.8,939.1 468.7,939.5 469.6,940.0 C470.6,940.4 471.5,940.8 472.4,941.2 C473.3,941.7 474.2,942.1 475.1,942.5 C476.0,942.9 476.9,943.3 477.9,943.7 C478.8,944.1 479.7,944.4 480.6,944.8 C481.5,945.2 482.5,945.6 483.4,946.0 C484.3,946.3 485.3,946.7 486.2,947.1 C487.1,947.4 488.1,947.8 489.0,948.1 C489.9,948.5 490.9,948.8 491.8,949.2 C492.7,949.5 493.7,949.8 494.6,950.2 C495.6,950.5 496.5,950.8 497.5,951.2 C498.4,951.5 499.4,951.8 500.3,952.1 C501.3,952.4 502.2,952.7 503.2,953.0 C504.1,953.3 505.1,953.6 506.0,953.9 C507.0,954.2 508.0,954.5 508.9,954.8 C509.9,955.0 510.8,955.3 511.8,955.6 C512.8,955.9 513.7,956.1 514.7,956.4 C515.7,956.7 516.6,956.9 517.6,957.2 C518.6,957.4 519.5,957.7 520.5,957.9 C521.5,958.1 522.4,958.4 523.4,958.6 C524.4,958.9 525.4,959.1 526.3,959.3 C527.3,959.5 528.3,959.7 529.3,960.0 C530.2,960.2 531.2,960.4 532.2,960.6 C533.2,960.8 534.2,961.0 535.1,961.2 C536.1,961.4 537.1,961.6 538.1,961.8 C539.1,962.0 540.1,962.1 541.0,962.3 C542.0,962.5 543.0,962.7 544.0,962.8 C545.0,963.0 546.0,963.2 547.0,963.3 C547.9,963.5 548.9,963.7 549.9,963.8 C550.9,964.0 551.9,964.1 552.9,964.3 C553.9,964.4 554.9,964.5 555.9,964.7 C556.8,964.8 557.8,964.9 558.8,965.1 C559.8,965.2 560.8,965.3 561.8,965.4 C562.8,965.6 563.8,965.7 564.8,965.8 C565.8,965.9 566.8,966.0 567.8,966.1 C568.8,966.2 569.8,966.3 570.8,966.4 C571.7,966.5 572.7,966.6 573.7,966.7 C574.7,966.8 575.7,966.9 576.7,967.0 C577.7,967.0 578.7,967.1 579.7,967.2 C580.7,967.3 581.7,967.4 582.7,967.4 C583.7,967.5 584.7,967.6 585.7,967.6 C586.7,967.7 587.7,967.7 588.7,967.8 C589.7,967.8 590.7,967.9 591.7,967.9 C592.7,968.0 593.7,968.0 594.7,968.1 C595.7,968.1 596.7,968.2 597.7,968.2 C598.7,968.2 599.7,968.3 600.7,968.3 C601.7,968.3 602.7,968.4 603.7,968.4 C604.7,968.4 605.7,968.4 606.7,968.4 C607.7,968.5 608.7,968.5 609.7,968.5 C610.7,968.5 611.7,968.5 612.7,968.5 C613.7,968.5 614.7,968.5 615.7,968.5 C616.7,968.5 617.7,968.5 618.7,968.5 C619.7,968.5 620.7,968.5 621.7,968.5 C622.7,968.5 623.7,968.5 624.7,968.5 C625.7,968.5 626.7,968.4 627.7,968.4 C628.7,968.4 629.7,968.4 630.7,968.4 C631.7,968.3 632.7,968.3 633.7,968.3 C634.7,968.3 635.7,968.2 636.7,968.2 C637.7,968.2 638.7,968.1 639.7,968.1 C640.7,968.1 641.7,968.0 642.7,968.0 C643.7,967.9 644.7,967.9 645.7,967.8 C646.7,967.8 647.7,967.8 648.7,967.7 C649.7,967.7 650.7,967.6 651.7,967.6 C652.7,967.5 653.7,967.5 654.7,967.4 C655.7,967.3 656.7,967.3 657.7,967.2 C658.7,967.2 659.7,967.1 660.7,967.0 C661.7,967.0 662.7,966.9 663.7,966.8 C664.7,966.8 665.7,966.7 666.7,966.6 C667.7,966.6 668.7,966.5 669.7,966.4 C670.7,966.4 671.7,966.3 672.7,966.2 C673.7,966.1 674.6,966.1 675.6,966.0 C676.6,965.9 677.6,965.8 678.6,965.8 C679.6,965.7 680.6,965.6 681.6,965.5 C682.6,965.4 683.6,965.3 684.6,965.3 C685.6,965.2 686.6,965.1 687.6,965.0 C688.6,964.9 689.6,964.8 690.6,964.7 C691.6,964.6 692.6,964.6 693.6,964.5 C694.6,964.4 695.6,964.3 696.6,964.2 C697.6,964.1 698.6,964.0 699.6,963.9 C700.6,963.8 701.6,963.7 702.5,963.6 C703.5,963.5 704.5,963.4 705.5,963.3 C706.5,963.2 707.5,963.1 708.5,963.0 C709.5,962.8 710.5,962.7 711.5,962.6 C712.5,962.5 713.5,962.4 714.5,962.3 C715.5,962.2 716.5,962.1 717.5,961.9 C718.5,961.8 719.4,961.7 720.4,961.6 C721.4,961.5 722.4,961.3 723.4,961.2 C724.4,961.1 725.4,961.0 726.4,960.8 C727.4,960.7 728.4,960.6 729.4,960.4 C730.4,960.3 731.4,960.2 732.3,960.0 C733.3,959.9 734.3,959.8 735.3,959.6 C736.3,959.5 737.3,959.4 738.3,959.2 C739.3,959.1 740.3,958.9 741.3,958.8 C742.2,958.6 743.2,958.5 744.2,958.3 C745.2,958.2 746.2,958.0 747.2,957.9 C748.2,957.7 749.2,957.6 750.2,957.4 C751.1,957.3 752.1,957.1 753.1,956.9 C754.1,956.8 755.1,956.6 756.1,956.4 C757.1,956.3 758.1,956.1 759.0,955.9 C760.0,955.8 761.0,955.6 762.0,955.4 C763.0,955.3 764.0,955.1 764.9,954.9 C765.9,954.7 766.9,954.5 767.9,954.4 C768.9,954.2 769.9,954.0 770.8,953.8 C771.8,953.6 772.8,953.4 773.8,953.2 C774.8,953.1 775.8,952.9 776.7,952.7 C777.7,952.5 778.7,952.3 779.7,952.1 C780.7,951.9 781.6,951.7 782.6,951.5 C783.6,951.3 784.6,951.1 785.6,950.8 C786.5,950.6 787.5,950.4 788.5,950.2 C789.5,950.0 790.4,949.8 791.4,949.6 C792.4,949.3 793.4,949.1 794.3,948.9 C795.3,948.7 796.3,948.5 797.3,948.2 C798.2,948.0 799.2,947.8 800.2,947.5 C801.2,947.3 802.1,947.1 803.1,946.8 C804.1,946.6 805.0,946.4 806.0,946.1 C807.0,945.9 808.0,945.6 808.9,945.4 C809.9,945.1 810.9,944.9 811.8,944.6 C812.8,944.4 813.8,944.1 814.7,943.9 C815.7,943.6 816.7,943.3 817.6,943.1 C818.6,942.8 819.6,942.5 820.5,942.3 C821.5,942.0 822.5,941.7 823.4,941.5 C824.4,941.2 825.3,940.9 826.3,940.6 C827.3,940.4 828.2,940.1 829.2,939.8 C830.1,939.5 831.1,939.2 832.1,938.9 C833.0,938.6 834.0,938.3 834.9,938.1 C835.9,937.8 836.8,937.5 837.8,937.2 C838.7,936.9 839.7,936.6 840.6,936.2 C841.6,935.9 842.5,935.6 843.5,935.3 C844.4,935.0 845.4,934.7 846.3,934.4 C847.3,934.1 848.2,933.7 849.2,933.4 C850.1,933.1 851.1,932.8 852.0,932.4 C853.0,932.1 853.9,931.8 854.9,931.4 C855.8,931.1 856.7,930.8 857.7,930.4 C858.6,930.1 859.6,929.7 860.5,929.4 C861.4,929.0 862.4,928.7 863.3,928.3 C864.2,928.0 865.2,927.6 866.1,927.3 C867.0,926.9 868.0,926.5 868.9,926.2 C869.8,925.8 870.8,925.4 871.7,925.1 C872.6,924.7 873.6,924.3 874.5,923.9 C875.4,923.6 876.3,923.2 877.3,922.8 C878.2,922.4 879.1,922.0 880.0,921.6 C880.9,921.2 881.9,920.8 882.8,920.5 C883.7,920.1 884.6,919.7 885.5,919.3 C886.4,918.8 887.4,918.4 888.3,918.0 C889.2,917.6 890.1,917.2 891.0,916.8 C891.9,916.4 892.8,916.0 893.7,915.5 C894.6,915.1 895.5,914.7 896.5,914.3 C897.4,913.9 898.3,913.4 899.2,913.0 C900.1,912.6 901.0,912.1 901.9,911.7 C902.8,911.2 903.7,910.8 904.6,910.4 C905.5,909.9 906.4,909.5 907.2,909.0 C908.1,908.6 909.0,908.1 909.9,907.7 C910.8,907.2 911.7,906.8 912.6,906.3 C913.5,905.8 914.4,905.4 915.3,904.9 C916.1,904.5 917.0,904.0 917.9,903.5 C918.8,903.0 919.7,902.6 920.6,902.1 C921.4,901.6 922.3,901.1 923.2,900.7 C924.1,900.2 924.9,899.7 925.8,899.2 C926.7,898.7 927.6,898.2 928.4,897.8 C929.3,897.3 930.2,896.8 931.1,896.3 C931.9,895.8 932.8,895.3 933.7,894.8 C934.5,894.3 935.4,893.8 936.3,893.3 C937.1,892.8 938.0,892.3 938.8,891.8 C939.7,891.3 940.6,890.7 941.4,890.2 C942.3,889.7 943.1,889.2 944.0,888.7 C944.8,888.2 945.7,887.6 946.5,887.1 C947.4,886.6 948.3,886.1 949.1,885.5 C950.0,885.0 950.8,884.5 951.6,884.0 C952.5,883.4 953.3,882.9 954.2,882.4 C955.0,881.8 955.9,881.3 956.7,880.7 C957.6,880.2 958.4,879.7 959.2,879.1 C960.1,878.6 960.9,878.0 961.7,877.5 C962.6,876.9 963.4,876.4 964.3,875.8 C965.1,875.3 965.9,874.7 966.8,874.2 C967.6,873.6 968.4,873.0 969.2,872.5 C970.1,871.9 970.9,871.3 971.7,870.8 C972.5,870.2 973.4,869.7 974.2,869.1 C975.0,868.5 975.8,867.9 976.7,867.4 C977.5,866.8 978.3,866.2 979.1,865.6 C979.9,865.1 980.7,864.5 981.6,863.9 C982.4,863.3 983.2,862.7 984.0,862.2 C984.8,861.6 985.6,861.0 986.4,860.4 C987.2,859.8 988.0,859.2 988.9,858.6 C989.7,858.0 990.5,857.4 991.3,856.9 C992.1,856.3 992.9,855.7 993.7,855.1 C994.5,854.5 995.3,853.9 996.1,853.3 C996.9,852.7 997.7,852.1 998.5,851.4 C999.3,850.8 1000.1,850.2 1000.9,849.6 C1001.6,849.0 1002.4,848.4 1003.2,847.8 C1004.0,847.2 1004.8,846.6 1005.6,845.9 C1006.4,845.3 1007.2,844.7 1008.0,844.1 C1008.7,843.5 1009.5,842.9 1010.3,842.2 C1011.1,841.6 1011.9,841.0 1012.6,840.3 C1013.4,839.7 1014.2,839.1 1015.0,838.5 C1015.7,837.8 1016.5,837.2 1017.3,836.6 C1018.1,835.9 1018.8,835.3 1019.6,834.6 C1020.4,834.0 1021.1,833.4 1021.9,832.7 C1022.7,832.1 1023.4,831.4 1024.2,830.8 C1025.0,830.1 1025.7,829.5 1026.5,828.8 C1027.2,828.2 1028.0,827.5 1028.8,826.9 C1029.5,826.2 1030.3,825.6 1031.0,824.9 C1031.8,824.2 1032.5,823.6 1033.3,822.9 C1034.0,822.2 1034.8,821.6 1035.5,820.9 C1036.2,820.2 1037.0,819.6 1037.7,818.9 C1038.5,818.2 1039.2,817.5 1039.9,816.9 C1040.7,816.2 1041.4,815.5 1042.1,814.8 C1042.9,814.1 1043.6,813.5 1044.3,812.8 C1045.0,812.1 1045.8,811.4 1046.5,810.7 C1047.2,810.0 1047.9,809.3 1048.7,808.6 C1049.4,807.9 1050.1,807.2 1050.8,806.5 C1051.5,805.8 1052.2,805.1 1052.9,804.4 C1053.6,803.7 1054.3,803.0 1055.0,802.3 C1055.8,801.6 1056.5,800.9 1057.2,800.1 C1057.9,799.4 1058.5,798.7 1059.2,798.0 C1059.9,797.3 1060.6,796.5 1061.3,795.8 C1062.0,795.1 1062.7,794.4 1063.4,793.6 C1064.1,792.9 1064.7,792.2 1065.4,791.4 C1066.1,790.7 1066.8,790.0 1067.4,789.2 C1068.1,788.5 1068.8,787.7 1069.5,787.0 C1070.1,786.3 1070.8,785.5 1071.4,784.8 C1072.1,784.0 1072.8,783.3 1073.4,782.5 C1074.1,781.7 1074.7,781.0 1075.4,780.2 C1076.0,779.5 1076.7,778.7 1077.3,777.9 C1078.0,777.2 1078.6,776.4 1079.2,775.6 C1079.9,774.9 1080.5,774.1 1081.1,773.3 C1081.8,772.5 1082.4,771.8 1083.0,771.0 C1083.7,770.2 1084.3,769.4 1084.9,768.6 C1085.5,767.8 1086.1,767.0 1086.7,766.3 C1087.4,765.5 1088.0,764.7 1088.6,763.9 C1089.2,763.1 1089.8,762.3 1090.4,761.5 C1091.0,760.7 1091.6,759.9 1092.2,759.1 C1092.8,758.3 1093.3,757.5 1093.9,756.6 C1094.5,755.8 1095.1,755.0 1095.7,754.2 C1096.2,753.4 1096.8,752.6 1097.4,751.7 C1098.0,750.9 1098.5,750.1 1099.1,749.3 C1099.6,748.4 1100.2,747.6 1100.8,746.8 C1101.3,745.9 1101.9,745.1 1102.4,744.3 C1103.0,743.4 1103.5,742.6 1104.0,741.8 C1104.6,740.9 1105.1,740.1 1105.7,739.2 C1106.2,738.4 1106.7,737.5 1107.2,736.7 C1107.8,735.8 1108.3,735.0 1108.8,734.1 C1109.3,733.2 1109.8,732.4 1110.3,731.5 C1110.8,730.7 1111.3,729.8 1111.8,728.9 C1112.3,728.1 1112.8,727.2 1113.3,726.3 C1113.8,725.5 1114.3,724.6 1114.8,723.7 C1115.3,722.8 1116.0,721.5 1116.2,721.1"/>
<path d="M426.1,703.8 C426.7,703.0 427.4,702.3 428.1,701.6 C428.8,700.8 429.4,700.1 430.1,699.4 C430.8,698.6 431.5,697.9 432.2,697.2 C432.9,696.5 433.6,695.7 434.3,695.0 C435.0,694.3 435.7,693.6 436.4,692.9 C437.1,692.2 437.8,691.5 438.6,690.8 C439.3,690.1 440.0,689.4 440.7,688.7 C441.5,688.0 442.2,687.4 442.9,686.7 C443.7,686.0 444.4,685.3 445.2,684.7 C445.9,684.0 446.6,683.3 447.4,682.7 C448.2,682.0 448.9,681.4 449.7,680.7 C450.4,680.1 451.2,679.4 452.0,678.8 C452.7,678.1 453.5,677.5 454.3,676.9 C455.1,676.2 455.8,675.6 456.6,675.0 C457.4,674.4 458.2,673.7 459.0,673.1 C459.8,672.5 460.6,671.9 461.4,671.3 C462.2,670.7 463.0,670.1 463.8,669.5 C464.6,668.9 465.4,668.3 466.2,667.7 C467.0,667.2 467.8,666.6 468.7,666.0 C469.5,665.4 470.3,664.9 471.1,664.3 C472.0,663.7 472.8,663.2 473.6,662.6 C474.4,662.0 475.3,661.5 476.1,660.9 C477.0,660.4 477.8,659.9 478.6,659.3 C479.5,658.8 480.3,658.2 481.2,657.7 C482.0,657.2 482.9,656.7 483.7,656.1 C484.6,655.6 485.4,655.1 486.3,654.6 C487.2,654.1 488.0,653.6 488.9,653.1 C489.8,652.6 490.6,652.1 491.5,651.6 C492.4,651.1 493.2,650.6 494.1,650.1 C495.0,649.6 495.9,649.1 496.7,648.6 C497.6,648.2 498.5,647.7 499.4,647.2 C500.3,646.7 501.2,646.3 502.1,645.8 C502.9,645.4 503.8,644.9 504.7,644.5 C505.6,644.0 506.5,643.6 507.4,643.1 C508.3,642.7 509.2,642.2 510.1,641.8 C511.0,641.4 511.9,640.9 512.8,640.5 C513.7,640.1 514.6,639.6 515.5,639.2 C516.5,638.8 517.4,638.4 518.3,638.0 C519.2,637.6 520.1,637.2 521.0,636.7 C521.9,636.3 522.9,635.9 523.8,635.5 C524.7,635.2 525.6,634.8 526.5,634.4 C527.5,634.0 528.4,633.6 529.3,633.2 C530.2,632.8 531.2,632.5 532.1,632.1 C533.0,631.7 533.9,631.3 534.9,631.0 C535.8,630.6 536.7,630.3 537.7,629.9 C538.6,629.5 539.6,629.2 540.5,628.8 C541.4,628.5 542.4,628.1 543.3,627.8 C544.2,627.4 545.2,627.1 546.1,626.8 C547.1,626.4 548.0,626.1 549.0,625.8 C549.9,625.4 550.9,625.1 551.8,624.8 C552.7,624.5 553.7,624.1 554.6,623.8 C555.6,623.5 556.5,623.2 557.5,622.9 C558.5,622.6 559.4,622.3 560.4,622.0 C561.3,621.7 562.3,621.4 563.2,621.1 C564.2,620.8 565.1,620.5 566.1,620.2 C567.1,619.9 568.0,619.6 569.0,619.3 C569.9,619.0 570.9,618.8 571.9,618.5 C572.8,618.2 573.8,617.9 574.7,617.7 C575.7,617.4 576.7,617.1 577.6,616.9 C578.6,616.6 579.6,616.3 580.5,616.1 C581.5,615.8 582.5,615.6 583.4,615.3 C584.4,615.0 585.4,614.8 586.3,614.5 C587.3,614.3 588.3,614.1 589.3,613.8 C590.2,613.6 591.2,613.3 592.2,613.1 C593.1,612.9 594.1,612.6 595.1,612.4 C596.1,612.2 597.0,611.9 598.0,611.7 C599.0,611.5 600.0,611.2 600.9,611.0 C601.9,610.8 602.9,610.6 603.9,610.4 C604.9,610.1 605.8,609.9 606.8,609.7 C607.8,609.5 608.8,609.3 609.7,609.1 C610.7,608.9 611.7,608.7 612.7,608.5 C613.7,608.3 614.6,608.1 615.6,607.9 C616.6,607.7 617.6,607.5 618.6,607.3 C619.6,607.1 620.5,606.9 621.5,606.7 C622.5,606.5 623.5,606.3 624.5,606.1 C625.5,605.9 626.4,605.7 627.4,605.6 C628.4,605.4 629.4,605.2 630.4,605.0 C631.4,604.8 632.3,604.7 633.3,604.5 C634.3,604.3 635.3,604.1 636.3,604.0 C637.3,603.8 638.3,603.6 639.2,603.4 C640.2,603.3 641.2,603.1 642.2,602.9 C643.2,602.8 644.2,602.6 645.2,602.4 C646.2,602.3 647.1,602.1 648.1,602.0 C649.1,601.8 650.1,601.6 651.1,601.5 C652.1,601.3 653.1,601.2 654.1,601.0 C655.1,600.9 656.0,600.7 657.0,600.6 C658.0,600.4 659.0,600.2 660.0,600.1 C661.0,599.9 662.0,599.8 663.0,599.6 C664.0,599.5 664.9,599.4 665.9,599.2 C666.9,599.1 667.9,598.9 668.9,598.8 C669.9,598.6 670.9,598.5 671.9,598.3 C672.9,598.2 673.9,598.1 674.9,597.9 C675.8,597.8 676.8,597.6 677.8,597.5 C678.8,597.4 679.8,597.2 680.8,597.1 C681.8,596.9 682.8,596.8 683.8,596.7 C684.8,596.5 685.8,596.4 686.8,596.3 C687.7,596.1 688.7,596.0 689.7,595.9 C690.7,595.7 691.7,595.6 692.7,595.5 C693.7,595.3 694.7,595.2 695.7,595.1 C696.7,594.9 697.7,594.8 698.7,594.7 C699.7,594.6 700.7,594.4 701.6,594.3 C702.6,594.2 703.6,594.1 704.6,593.9 C705.6,593.8 706.6,593.7 707.6,593.6 C708.6,593.5 709.6,593.3 710.6,593.2 C711.6,593.1 712.6,593.0 713.6,592.9 C714.6,592.8 715.6,592.6 716.6,592.5 C717.6,592.4 718.5,592.3 719.5,592.2 C720.5,592.1 721.5,592.0 722.5,591.9 C723.5,591.8 724.5,591.6 725.5,591.5 C726.5,591.4 727.5,591.3 728.5,591.2 C729.5,591.1 730.5,591.0 731.5,590.9 C732.5,590.8 733.5,590.7 734.5,590.6 C735.5,590.5 736.5,590.4 737.5,590.3 C738.5,590.2 739.5,590.2 740.5,590.1 C741.5,590.0 742.5,589.9 743.4,589.8 C744.4,589.7 745.4,589.6 746.4,589.5 C747.4,589.5 748.4,589.4 749.4,589.3 C750.4,589.2 751.4,589.1 752.4,589.0 C753.4,589.0 754.4,588.9 755.4,588.8 C756.4,588.7 757.4,588.7 758.4,588.6 C759.4,588.5 760.4,588.4 761.4,588.4 C762.4,588.3 763.4,588.2 764.4,588.2 C765.4,588.1 766.4,588.1 767.4,588.0 C768.4,587.9 769.4,587.9 770.4,587.8 C771.4,587.8 772.4,587.7 773.4,587.6 C774.4,587.6 775.4,587.5 776.4,587.5 C777.4,587.4 778.4,587.4 779.4,587.3 C780.4,587.3 781.4,587.3 782.4,587.2 C783.4,587.2 784.4,587.1 785.4,587.1 C786.4,587.0 787.4,587.0 788.4,587.0 C789.4,586.9 790.4,586.9 791.4,586.9 C792.4,586.8 793.4,586.8 794.4,586.8 C795.4,586.8 796.4,586.7 797.4,586.7 C798.4,586.7 799.4,586.7 800.4,586.7 C801.4,586.6 802.4,586.6 803.4,586.6 C804.4,586.6 805.4,586.6 806.4,586.6 C807.4,586.6 808.4,586.6 809.4,586.6 C810.4,586.6 811.4,586.6 812.4,586.6 C813.4,586.6 814.4,586.6 815.4,586.6 C816.4,586.6 817.4,586.6 818.4,586.6 C819.4,586.6 820.4,586.6 821.4,586.6 C822.4,586.6 823.4,586.6 824.4,586.7 C825.4,586.7 826.4,586.7 827.4,586.7 C828.4,586.7 829.4,586.8 830.4,586.8 C831.4,586.8 832.5,586.9 833.5,586.9 C834.5,586.9 835.5,587.0 836.5,587.0 C837.5,587.0 838.5,587.1 839.5,587.1 C840.5,587.2 841.5,587.2 842.5,587.3 C843.5,587.3 844.5,587.4 845.5,587.4 C846.5,587.5 847.5,587.5 848.5,587.6 C849.5,587.6 850.5,587.7 851.5,587.8 C852.4,587.8 853.4,587.9 854.4,588.0 C855.4,588.0 856.4,588.1 857.4,588.2 C858.4,588.2 859.4,588.3 860.4,588.4 C861.4,588.5 862.4,588.6 863.4,588.6 C864.4,588.7 865.4,588.8 866.4,588.9 C867.4,589.0 868.4,589.1 869.4,589.2 C870.4,589.3 871.4,589.4 872.4,589.5 C873.4,589.6 874.4,589.7 875.4,589.8 C876.4,589.9 877.4,590.0 878.4,590.1 C879.4,590.2 880.4,590.3 881.4,590.4 C882.4,590.6 883.3,590.7 884.3,590.8 C885.3,590.9 886.3,591.1 887.3,591.2 C888.3,591.3 889.3,591.4 890.3,591.6 C891.3,591.7 892.3,591.8 893.3,592.0 C894.3,592.1 895.3,592.3 896.2,592.4 C897.2,592.6 898.2,592.7 899.2,592.8 C900.2,593.0 901.2,593.2 902.2,593.3 C903.2,593.5 904.2,593.6 905.2,593.8 C906.1,593.9 907.1,594.1 908.1,594.3 C909.1,594.4 910.1,594.6 911.1,594.8 C912.1,595.0 913.0,595.1 914.0,595.3 C915.0,595.5 916.0,595.7 917.0,595.9 C918.0,596.0 919.0,596.2 919.9,596.4 C920.9,596.6 921.9,596.8 922.9,597.0 C923.9,597.2 924.8,597.4 925.8,597.6 C926.8,597.8 927.8,598.1 928.8,598.3 C929.7,598.5 930.7,598.7 931.7,598.9 C932.7,599.2 933.6,599.4 934.6,599.6 C935.6,599.9 936.6,600.1 937.5,600.3 C938.5,600.6 939.5,600.8 940.4,601.1 C941.4,601.3 942.4,601.6 943.3,601.9 C944.3,602.1 945.3,602.4 946.2,602.7 C947.2,603.0 948.1,603.2 949.1,603.5 C950.1,603.8 951.0,604.1 952.0,604.4 C952.9,604.7 953.9,605.0 954.8,605.3 C955.8,605.6 956.7,605.9 957.7,606.3 C958.6,606.6 959.6,606.9 960.5,607.3 C961.5,607.6 962.4,607.9 963.3,608.3 C964.3,608.6 965.2,609.0 966.1,609.4 C967.1,609.7 968.0,610.1 968.9,610.5 C969.9,610.9 970.8,611.3 971.7,611.6 C972.6,612.0 973.5,612.5 974.5,612.9 C975.4,613.3 976.3,613.7 977.2,614.1 C978.1,614.6 979.0,615.0 979.9,615.4 C980.8,615.9 981.7,616.3 982.6,616.8 C983.4,617.3 984.3,617.7 985.2,618.2 C986.1,618.7 986.9,619.2 987.8,619.7 C988.7,620.2 989.5,620.7 990.4,621.2 C991.3,621.8 992.1,622.3 992.9,622.8 C993.8,623.4 994.6,623.9 995.4,624.5 C996.3,625.0 997.1,625.6 997.9,626.2 C998.7,626.8 999.5,627.4 1000.3,628.0 C1001.1,628.6 1001.9,629.2 1002.7,629.8 C1003.5,630.4 1004.3,631.1 1005.0,631.7 C1005.8,632.4 1006.5,633.0 1007.3,633.7 C1008.0,634.4 1008.8,635.0 1009.5,635.7 C1010.2,636.4 1010.9,637.1 1011.6,637.8 C1012.3,638.5 1013.0,639.3 1013.7,640.0 C1014.4,640.7 1015.1,641.5 1015.7,642.2 C1016.4,643.0 1017.0,643.7 1017.7,644.5 C1018.3,645.3 1018.9,646.1 1019.6,646.9 C1020.2,647.7 1020.8,648.5 1021.3,649.3 C1021.9,650.1 1022.5,650.9 1023.1,651.7 C1023.6,652.6 1024.2,653.4 1024.7,654.3 C1025.2,655.1 1025.7,656.0 1026.3,656.8 C1026.8,657.7 1027.2,658.6 1027.7,659.5 C1028.2,660.3 1028.7,661.2 1029.1,662.1 C1029.6,663.0 1030.0,663.9 1030.4,664.8 C1030.8,665.7 1031.2,666.6 1031.6,667.6 C1032.0,668.5 1032.4,669.4 1032.8,670.3 C1033.1,671.3 1033.5,672.2 1033.8,673.2 C1034.1,674.1 1034.4,675.1 1034.7,676.0 C1035.0,677.0 1035.3,677.9 1035.6,678.9 C1035.9,679.9 1036.1,680.8 1036.3,681.8 C1036.6,682.8 1036.8,683.8 1037.0,684.7 C1037.2,685.7 1037.3,686.7 1037.5,687.7 C1037.7,688.7 1037.8,689.7 1037.9,690.7 C1038.0,691.7 1038.1,692.7 1038.2,693.7 C1038.3,694.7 1038.4,695.7 1038.4,696.7 C1038.4,697.7 1038.5,698.7 1038.5,699.7 C1038.5,700.7 1038.4,701.7 1038.4,702.7 C1038.4,703.7 1038.3,704.7 1038.2,705.7 C1038.1,706.7 1038.0,707.7 1037.9,708.7 C1037.8,709.6 1037.6,710.6 1037.5,711.6 C1037.3,712.6 1037.1,713.6 1036.9,714.6 C1036.8,715.6 1036.5,716.5 1036.3,717.5 C1036.1,718.5 1035.8,719.5 1035.6,720.4 C1035.3,721.4 1035.0,722.4 1034.7,723.3 C1034.4,724.3 1034.1,725.2 1033.8,726.2 C1033.5,727.1 1033.2,728.1 1032.8,729.0 C1032.5,729.9 1032.1,730.9 1031.7,731.8 C1031.3,732.7 1030.9,733.6 1030.5,734.6 C1030.1,735.5 1029.7,736.4 1029.3,737.3 C1028.9,738.2 1028.4,739.1 1028.0,740.0 C1027.5,740.9 1027.1,741.8 1026.6,742.7 C1026.1,743.5 1025.6,744.4 1025.2,745.3 C1024.7,746.2 1024.2,747.0 1023.6,747.9 C1023.1,748.8 1022.6,749.6 1022.1,750.5 C1021.6,751.3 1021.0,752.2 1020.5,753.0 C1019.9,753.8 1019.4,754.7 1018.8,755.5 C1018.2,756.3 1017.7,757.1 1017.1,757.9 C1016.5,758.8 1015.9,759.6 1015.3,760.4 C1014.7,761.2 1014.1,762.0 1013.5,762.8 C1012.9,763.6 1012.3,764.3 1011.6,765.1 C1011.0,765.9 1010.4,766.7 1009.7,767.5 C1009.1,768.2 1008.4,769.0 1007.8,769.7 C1007.1,770.5 1006.5,771.3 1005.8,772.0 C1005.1,772.7 1004.5,773.5 1003.8,774.2 C1003.1,775.0 1002.4,775.7 1001.7,776.4 C1001.0,777.1 1000.3,777.8 999.6,778.6 C998.9,779.3 998.2,780.0 997.5,780.7 C996.8,781.4 996.1,782.1 995.3,782.8 C994.6,783.4 993.9,784.1 993.1,784.8 C992.4,785.5 991.7,786.2 990.9,786.8 C990.2,787.5 989.4,788.1 988.7,788.8 C987.9,789.5 987.1,790.1 986.4,790.8 C985.6,791.4 984.8,792.0 984.1,792.7 C983.3,793.3 982.5,793.9 981.7,794.6 C980.9,795.2 980.2,795.8 979.4,796.4 C978.6,797.0 977.8,797.6 977.0,798.2 C976.2,798.8 975.4,799.4 974.6,800.0 C973.8,800.6 973.0,801.2 972.2,801.8 C971.3,802.4 970.5,803.0 969.7,803.6 C968.9,804.1 968.1,804.7 967.2,805.3 C966.4,805.8 965.6,806.4 964.8,807.0 C963.9,807.5 963.1,808.1 962.3,808.6 C961.4,809.2 960.6,809.7 959.8,810.3 C958.9,810.8 958.1,811.4 957.2,811.9 C956.4,812.5 955.5,813.0 954.7,813.5 C953.9,814.1 953.0,814.6 952.1,815.1 C951.3,815.6 950.4,816.2 949.6,816.7 C948.7,817.2 947.9,817.7 947.0,818.2 C946.2,818.8 945.3,819.3 944.4,819.8 C943.6,820.3 942.7,820.8 941.9,821.3 C941.0,821.8 940.1,822.3 939.3,822.8 C938.4,823.3 937.5,823.8 936.7,824.3 C935.8,824.8 934.9,825.3 934.0,825.8 C933.2,826.3 932.3,826.8 931.4,827.3 C930.5,827.7 929.7,828.2 928.8,828.7 C927.9,829.2 927.0,829.7 926.2,830.2 C925.3,830.6 924.4,831.1 923.5,831.6 C922.6,832.1 921.7,832.5 920.9,833.0 C920.0,833.5 919.1,833.9 918.2,834.4 C917.3,834.9 916.4,835.3 915.5,835.8 C914.6,836.2 913.8,836.7 912.9,837.2 C912.0,837.6 911.1,838.1 910.2,838.5 C909.3,839.0 908.4,839.4 907.5,839.9 C906.6,840.3 905.7,840.8 904.8,841.2 C903.9,841.6 903.0,842.1 902.1,842.5 C901.2,843.0 900.3,843.4 899.4,843.8 C898.5,844.3 897.6,844.7 896.7,845.1 C895.8,845.6 894.9,846.0 894.0,846.4 C893.1,846.9 892.2,847.3 891.3,847.7 C890.4,848.1 889.5,848.6 888.6,849.0 C887.7,849.4 886.7,849.8 885.8,850.2 C884.9,850.6 884.0,851.1 883.1,851.5 C882.2,851.9 881.3,852.3 880.4,852.7 C879.4,853.1 878.5,853.5 877.6,853.9 C876.7,854.3 875.8,854.7 874.9,855.1 C874.0,855.5 873.0,856.0 872.1,856.4 C871.2,856.8 870.3,857.1 869.4,857.5 C868.4,857.9 867.5,858.3 866.6,858.7 C865.7,859.1 864.8,859.5 863.8,859.9 C862.9,860.3 862.0,860.7 861.1,861.1 C860.1,861.5 859.2,861.8 858.3,862.2 C857.4,862.6 856.5,863.0 855.5,863.4 C854.6,863.8 853.7,864.1 852.7,864.5 C851.8,864.9 850.9,865.3 850.0,865.7 C849.0,866.0 848.1,866.4 847.2,866.8 C846.3,867.2 845.3,867.5 844.4,867.9 C843.5,868.3 842.5,868.6 841.6,869.0 C840.7,869.4 839.7,869.7 838.8,870.1 C837.9,870.5 836.9,870.8 836.0,871.2 C835.1,871.6 834.1,871.9 833.2,872.3 C832.3,872.6 831.3,873.0 830.4,873.4 C829.5,873.7 828.5,874.1 827.6,874.4 C826.7,874.8 825.7,875.2 824.8,875.5 C823.9,875.9 822.9,876.2 822.0,876.6 C821.0,876.9 820.1,877.3 819.2,877.6 C818.2,878.0 817.3,878.3 816.4,878.7 C815.4,879.0 814.5,879.4 813.5,879.7 C812.6,880.1 811.7,880.4 810.7,880.8 C809.8,881.1 808.8,881.4 807.9,881.8 C807.0,882.1 806.0,882.5 805.1,882.8 C804.1,883.2 803.2,883.5 802.3,883.8 C801.3,884.2 800.4,884.5 799.4,884.9 C798.5,885.2 797.5,885.5 796.6,885.9 C795.7,886.2 794.7,886.5 793.8,886.9 C792.8,887.2 791.9,887.5 790.9,887.9 C790.0,888.2 789.1,888.5 788.1,888.9 C787.2,889.2 786.2,889.5 785.3,889.9 C784.3,890.2 783.4,890.5 782.4,890.8 C781.5,891.2 780.5,891.5 779.6,891.8 C778.6,892.1 777.7,892.5 776.7,892.8 C775.8,893.1 774.9,893.4 773.9,893.7 C773.0,894.1 772.0,894.4 771.1,894.7 C770.1,895.0 769.2,895.3 768.2,895.6 C767.3,895.9 766.3,896.3 765.3,896.6 C764.4,896.9 763.4,897.2 762.5,897.5 C761.5,897.8 760.6,898.1 759.6,898.4 C758.7,898.7 757.7,899.0 756.8,899.3 C755.8,899.6 754.9,899.9 753.9,900.2 C752.9,900.5 752.0,900.8 751.0,901.1 C750.1,901.4 749.1,901.7 748.2,902.0 C747.2,902.3 746.2,902.6 745.3,902.9 C744.3,903.2 743.4,903.4 742.4,903.7 C741.5,904.0 740.5,904.3 739.5,904.6 C738.6,904.9 737.6,905.1 736.6,905.4 C735.7,905.7 734.7,906.0 733.8,906.2 C732.8,906.5 731.8,906.8 730.9,907.1 C729.9,907.3 728.9,907.6 728.0,907.9 C727.0,908.1 726.0,908.4 725.1,908.7 C724.1,908.9 723.1,909.2 722.2,909.4 C721.2,909.7 720.2,910.0 719.3,910.2 C718.3,910.5 717.3,910.7 716.4,911.0 C715.4,911.2 714.4,911.5 713.5,911.7 C712.5,912.0 711.5,912.2 710.5,912.4 C709.6,912.7 708.6,912.9 707.6,913.2 C706.7,913.4 705.7,913.6 704.7,913.9 C703.7,914.1 702.8,914.3 701.8,914.5 C700.8,914.8 699.8,915.0 698.9,915.2 C697.9,915.4 696.9,915.7 695.9,915.9 C695.0,916.1 694.0,916.3 693.0,916.5 C692.0,916.7 691.0,917.0 690.1,917.2 C689.1,917.4 688.1,917.6 687.1,917.8 C686.1,918.0 685.2,918.2 684.2,918.4 C683.2,918.6 682.2,918.8 681.2,919.0 C680.3,919.2 679.3,919.3 678.3,919.5 C677.3,919.7 676.3,919.9 675.3,920.1 C674.3,920.3 673.4,920.4 672.4,920.6 C671.4,920.8 670.4,921.0 669.4,921.1 C668.4,921.3 667.4,921.5 666.5,921.6 C665.5,921.8 664.5,922.0 663.5,922.1 C662.5,922.3 661.5,922.4 660.5,922.6 C659.5,922.7 658.5,922.9 657.6,923.0 C656.6,923.2 655.6,923.3 654.6,923.5 C653.6,923.6 652.6,923.8 651.6,923.9 C650.6,924.0 649.6,924.2 648.6,924.3 C647.6,924.4 646.6,924.6 645.7,924.7 C644.7,924.8 643.7,924.9 642.7,925.0 C641.7,925.2 640.7,925.3 639.7,925.4 C638.7,925.5 637.7,925.6 636.7,925.7 C635.7,925.8 634.7,925.9 633.7,926.0 C632.7,926.1 631.7,926.2 630.7,926.3 C629.7,926.4 628.7,926.5 627.7,926.6 C626.7,926.6 625.7,926.7 624.7,926.8 C623.7,926.9 622.7,927.0 621.7,927.0 C620.7,927.1 619.7,927.2 618.7,927.2 C617.8,927.3 616.8,927.4 615.8,927.4 C614.8,927.5 613.8,927.5 612.8,927.6 C611.8,927.6 610.8,927.7 609.8,927.7 C608.8,927.8 607.8,927.8 606.8,927.9 C605.8,927.9 604.8,927.9 603.8,928.0 C602.7,928.0 601.7,928.0 600.7,928.1 C599.7,928.1 598.7,928.1 597.7,928.1 C596.7,928.1 595.7,928.1 594.7,928.2 C593.7,928.2 592.7,928.2 591.7,928.2 C590.7,928.2 589.7,928.2 588.7,928.2 C587.7,928.2 586.7,928.1 585.7,928.1 C584.7,928.1 583.7,928.1 582.7,928.1 C581.7,928.1 580.7,928.0 579.7,928.0 C578.7,928.0 577.7,927.9 576.7,927.9 C575.7,927.9 574.7,927.8 573.7,927.8 C572.7,927.7 571.7,927.7 570.7,927.6 C569.7,927.6 568.7,927.5 567.7,927.5 C566.7,927.4 565.7,927.3 564.7,927.3 C563.7,927.2 562.7,927.1 561.7,927.0 C560.7,927.0 559.7,926.9 558.7,926.8 C557.7,926.7 556.7,926.6 555.7,926.5 C554.8,926.4 553.8,926.3 552.8,926.2 C551.8,926.1 550.8,926.0 549.8,925.9 C548.8,925.8 547.8,925.7 546.8,925.6 C545.8,925.4 544.8,925.3 543.8,925.2 C542.8,925.1 541.8,924.9 540.8,924.8 C539.8,924.6 538.9,924.5 537.9,924.4 C536.9,924.2 535.9,924.1 534.9,923.9 C533.9,923.7 532.9,923.6 531.9,923.4 C530.9,923.3 530.0,923.1 529.0,922.9 C528.0,922.7 527.0,922.6 526.0,922.4 C525.0,922.2 524.0,922.0 523.1,921.8 C522.1,921.6 521.1,921.4 520.1,921.2 C519.1,921.0 518.2,920.8 517.2,920.6 C516.2,920.4 515.2,920.2 514.2,919.9 C513.3,919.7 512.3,919.5 511.3,919.3 C510.3,919.0 509.4,918.8 508.4,918.6 C507.4,918.3 506.5,918.1 505.5,917.8 C504.5,917.6 503.6,917.3 502.6,917.1 C501.6,916.8 500.7,916.5 499.7,916.3 C498.7,916.0 497.8,915.7 496.8,915.4 C495.8,915.2 494.9,914.9 493.9,914.6 C493.0,914.3 492.0,914.0 491.1,913.7 C490.1,913.4 489.1,913.1 488.2,912.8 C487.2,912.5 486.3,912.2 485.3,911.8 C484.4,911.5 483.4,911.2 482.5,910.9 C481.6,910.5 480.6,910.2 479.7,909.9 C478.7,909.5 477.8,909.2 476.8,908.8 C475.9,908.5 475.0,908.1 474.0,907.8 C473.1,907.4 472.2,907.0 471.2,906.7 C470.3,906.3 469.4,905.9 468.5,905.5 C467.5,905.2 466.6,904.8 465.7,904.4 C464.8,904.0 463.8,903.6 462.9,903.2 C462.0,902.8 461.1,902.4 460.2,902.0 C459.3,901.6 458.4,901.1 457.5,900.7 C456.5,900.3 455.6,899.9 454.7,899.4 C453.8,899.0 452.9,898.6 452.1,898.1 C451.2,897.7 450.3,897.2 449.4,896.7 C448.5,896.3 447.6,895.8 446.7,895.3 C445.8,894.8 445.0,894.4 444.1,893.9 C443.2,893.4 442.4,892.9 441.5,892.4 C440.6,891.9 439.8,891.4 438.9,890.8 C438.1,890.3 437.2,889.8 436.4,889.2 C435.5,888.7 434.7,888.2 433.8,887.6 C433.0,887.1 432.2,886.5 431.4,885.9 C430.5,885.3 429.7,884.8 428.9,884.2 C428.1,883.6 427.3,883.0 426.5,882.4 C425.7,881.8 424.9,881.2 424.1,880.5 C423.4,879.9 422.6,879.3 421.8,878.6 C421.1,878.0 420.3,877.3 419.5,876.7 C418.8,876.0 418.0,875.3 417.3,874.7 C416.6,874.0 415.9,873.3 415.1,872.6 C414.4,871.9 413.7,871.2 413.0,870.5 C412.3,869.7 411.6,869.0 411.0,868.3 C410.3,867.5 409.6,866.8 409.0,866.0 C408.3,865.3 407.7,864.5 407.0,863.7 C406.4,863.0 405.8,862.2 405.1,861.4 C404.5,860.6 403.9,859.8 403.3,859.0 C402.7,858.2 402.2,857.4 401.6,856.5 C401.0,855.7 400.5,854.9 399.9,854.1 C399.4,853.2 398.8,852.4 398.3,851.5 C397.8,850.7 397.3,849.8 396.8,849.0 C396.3,848.1 395.8,847.2 395.3,846.3 C394.8,845.5 394.3,844.6 393.9,843.7 C393.4,842.8 393.0,841.9 392.5,841.0 C392.1,840.1 391.7,839.2 391.3,838.3 C390.9,837.3 390.5,836.4 390.1,835.5 C389.7,834.6 389.4,833.6 389.0,832.7 C388.7,831.8 388.3,830.8 388.0,829.9 C387.7,828.9 387.4,828.0 387.1,827.0 C386.8,826.1 386.5,825.1 386.2,824.1 C386.0,823.2 385.7,822.2 385.5,821.2 C385.2,820.3 385.0,819.3 384.8,818.3 C384.6,817.3 384.4,816.3 384.3,815.3 C384.1,814.4 383.9,813.4 383.8,812.4 C383.7,811.4 383.6,810.4 383.4,809.4 C383.3,808.4 383.3,807.4 383.2,806.4 C383.1,805.4 383.1,804.4 383.0,803.4 C383.0,802.4 383.0,801.4 383.0,800.4 C383.0,799.4 383.0,798.4 383.0,797.4 C383.0,796.4 383.1,795.4 383.1,794.4 C383.2,793.4 383.2,792.4 383.3,791.4 C383.4,790.4 383.5,789.4 383.6,788.4 C383.8,787.4 383.9,786.4 384.0,785.4 C384.2,784.4 384.3,783.5 384.5,782.5 C384.7,781.5 384.9,780.5 385.1,779.5 C385.3,778.5 385.5,777.6 385.7,776.6 C385.9,775.6 386.1,774.6 386.4,773.7 C386.6,772.7 386.9,771.7 387.2,770.8 C387.5,769.8 387.7,768.8 388.0,767.9 C388.3,766.9 388.6,766.0 389.0,765.0 C389.3,764.1 389.6,763.1 389.9,762.2 C390.3,761.2 390.6,760.3 391.0,759.4 C391.4,758.4 391.7,757.5 392.1,756.6 C392.5,755.7 392.9,754.7 393.3,753.8 C393.7,752.9 394.1,752.0 394.5,751.1 C394.9,750.2 395.3,749.3 395.8,748.4 C396.2,747.5 396.6,746.6 397.1,745.7 C397.6,744.8 398.0,743.9 398.5,743.0 C398.9,742.1 399.4,741.2 399.9,740.4 C400.4,739.5 400.9,738.6 401.4,737.7 C401.9,736.9 402.4,736.0 402.9,735.1 C403.4,734.3 403.9,733.4 404.5,732.6 C405.0,731.7 405.5,730.9 406.1,730.0 C406.6,729.2 407.2,728.4 407.7,727.5 C408.3,726.7 408.8,725.9 409.4,725.0 C410.0,724.2 410.5,723.4 411.1,722.6 C411.7,721.8 412.3,720.9 412.9,720.1 C413.5,719.3 414.0,718.5 414.7,717.7 C415.3,716.9 415.9,716.1 416.5,715.3 C417.1,714.5 417.7,713.8 418.3,713.0 C419.0,712.2 419.6,711.4 420.2,710.6 C420.9,709.9 421.5,709.1 422.1,708.3 C422.8,707.6 423.4,706.8 424.1,706.1 C424.7,705.3 425.4,704.5 426.1,703.8Z"/>
<path d="M469.6,524.3 C469.1,524.3 467.6,524.3 466.6,524.3 C465.6,524.3 464.6,524.4 463.6,524.4 C462.6,524.4 461.5,524.5 460.5,524.5 C459.5,524.5 458.5,524.6 457.5,524.7 C456.5,524.7 455.5,524.8 454.5,524.9 C453.5,524.9 452.5,525.0 451.5,525.1 C450.5,525.2 449.5,525.3 448.5,525.4 C447.5,525.6 446.5,525.7 445.5,525.8 C444.5,525.9 443.5,526.1 442.5,526.2 C441.6,526.4 440.6,526.5 439.6,526.7 C438.6,526.8 437.6,527.0 436.6,527.2 C435.6,527.4 434.6,527.6 433.6,527.8 C432.7,528.0 431.7,528.2 430.7,528.4 C429.7,528.6 428.7,528.8 427.7,529.0 C426.8,529.3 425.8,529.5 424.8,529.7 C423.8,530.0 422.9,530.2 421.9,530.5 C420.9,530.8 420.0,531.0 419.0,531.3 C418.0,531.6 417.1,531.9 416.1,532.2 C415.1,532.5 414.2,532.8 413.2,533.1 C412.3,533.4 411.3,533.7 410.4,534.0 C409.4,534.3 408.5,534.7 407.5,535.0 C406.6,535.4 405.6,535.7 404.7,536.1 C403.8,536.4 402.8,536.8 401.9,537.2 C401.0,537.5 400.0,537.9 399.1,538.3 C398.2,538.7 397.2,539.1 396.3,539.5 C395.4,539.9 394.5,540.3 393.6,540.7 C392.7,541.1 391.7,541.5 390.8,542.0 C389.9,542.4 389.0,542.8 388.1,543.3 C387.2,543.7 386.3,544.2 385.4,544.6 C384.5,545.1 383.6,545.6 382.8,546.0 C381.9,546.5 381.0,547.0 380.1,547.5 C379.2,548.0 378.4,548.5 377.5,549.0 C376.6,549.5 375.7,550.0 374.9,550.5 C374.0,551.0 373.2,551.5 372.3,552.1 C371.5,552.6 370.6,553.1 369.8,553.7 C368.9,554.2 368.1,554.7 367.2,555.3 C366.4,555.9 365.6,556.4 364.7,557.0 C363.9,557.5 363.1,558.1 362.3,558.7 C361.4,559.3 360.6,559.9 359.8,560.5 C359.0,561.1 358.2,561.7 357.4,562.3 C356.6,562.9 355.8,563.5 355.0,564.1 C354.2,564.7 353.4,565.3 352.6,566.0 C351.8,566.6 351.1,567.2 350.3,567.9 C349.5,568.5 348.7,569.1 348.0,569.8 C347.2,570.5 346.5,571.1 345.7,571.8 C345.0,572.4 344.2,573.1 343.5,573.8 C342.7,574.5 342.0,575.1 341.2,575.8 C340.5,576.5 339.8,577.2 339.0,577.9 C338.3,578.6 337.6,579.3 336.9,580.0 C336.2,580.7 335.5,581.4 334.8,582.1 C334.1,582.9 333.4,583.6 332.7,584.3 C332.0,585.0 331.3,585.8 330.6,586.5 C329.9,587.2 329.3,588.0 328.6,588.7 C327.9,589.5 327.2,590.2 326.6,591.0 C325.9,591.8 325.3,592.5 324.6,593.3 C324.0,594.1 323.3,594.8 322.7,595.6 C322.1,596.4 321.4,597.2 320.8,597.9 C320.2,598.7 319.6,599.5 318.9,600.3 C318.3,601.1 317.7,601.9 317.1,602.7 C316.5,603.5 315.9,604.3 315.3,605.1 C314.7,606.0 314.2,606.8 313.6,607.6 C313.0,608.4 312.4,609.2 311.9,610.1 C311.3,610.9 310.7,611.7 310.2,612.6 C309.6,613.4 309.1,614.3 308.5,615.1 C308.0,615.9 307.5,616.8 306.9,617.7 C306.4,618.5 305.9,619.4 305.4,620.2 C304.8,621.1 304.3,622.0 303.8,622.8 C303.3,623.7 302.8,624.6 302.3,625.4 C301.8,626.3 301.3,627.2 300.9,628.1 C300.4,629.0 299.9,629.8 299.4,630.7 C299.0,631.6 298.5,632.5 298.1,633.4 C297.6,634.3 297.2,635.2 296.7,636.1 C296.3,637.0 295.8,637.9 295.4,638.8 C295.0,639.7 294.5,640.6 294.1,641.6 C293.7,642.5 293.3,643.4 292.9,644.3 C292.5,645.2 292.1,646.1 291.7,647.1 C291.3,648.0 290.9,648.9 290.6,649.9 C290.2,650.8 289.8,651.7 289.4,652.7 C289.1,653.6 288.7,654.5 288.4,655.5 C288.0,656.4 287.7,657.4 287.3,658.3 C287.0,659.3 286.7,660.2 286.3,661.2 C286.0,662.1 285.7,663.1 285.4,664.0 C285.1,665.0 284.8,665.9 284.5,666.9 C284.2,667.8 283.9,668.8 283.6,669.8 C283.3,670.7 283.0,671.7 282.8,672.7 C282.5,673.6 282.2,674.6 282.0,675.6 C281.7,676.6 281.5,677.5 281.2,678.5 C281.0,679.5 280.8,680.5 280.5,681.4 C280.3,682.4 280.1,683.4 279.9,684.4 C279.6,685.4 279.4,686.3 279.2,687.3 C279.0,688.3 278.8,689.3 278.7,690.3 C278.5,691.3 278.3,692.3 278.1,693.2 C278.0,694.2 277.8,695.2 277.6,696.2 C277.5,697.2 277.3,698.2 277.2,699.2 C277.0,700.2 276.9,701.2 276.8,702.2 C276.6,703.2 276.5,704.2 276.4,705.2 C276.3,706.2 276.2,707.2 276.1,708.2 C276.0,709.2 275.9,710.2 275.8,711.2 C275.7,712.2 275.6,713.2 275.6,714.2 C275.5,715.2 275.4,716.2 275.4,717.2 C275.3,718.2 275.3,719.2 275.2,720.2 C275.2,721.2 275.2,722.2 275.1,723.2 C275.1,724.2 275.1,725.2 275.1,726.2 C275.1,727.2 275.1,728.7 275.1,729.2"/>
<path d="M275.2,729.6 C275.5,729.2 276.3,727.9 276.9,727.1 C277.4,726.2 278.0,725.4 278.5,724.5 C279.1,723.7 279.6,722.9 280.2,722.0 C280.7,721.2 281.3,720.4 281.9,719.5 C282.4,718.7 283.0,717.9 283.6,717.0 C284.1,716.2 284.7,715.4 285.3,714.6 C285.8,713.7 286.4,712.9 287.0,712.1 C287.6,711.3 288.1,710.5 288.7,709.6 C289.3,708.8 289.9,708.0 290.5,707.2 C291.1,706.4 291.6,705.6 292.2,704.7 C292.8,703.9 293.4,703.1 294.0,702.3 C294.6,701.5 295.2,700.7 295.8,699.9 C296.4,699.1 297.0,698.3 297.6,697.5 C298.2,696.7 298.8,695.9 299.4,695.1 C300.0,694.3 300.6,693.5 301.2,692.7 C301.8,691.9 302.4,691.1 303.1,690.3 C303.7,689.5 304.3,688.7 304.9,687.9 C305.5,687.1 306.1,686.3 306.8,685.5 C307.4,684.7 308.0,684.0 308.6,683.2 C309.3,682.4 309.9,681.6 310.5,680.8 C311.2,680.1 311.8,679.3 312.4,678.5 C313.1,677.7 313.7,677.0 314.4,676.2 C315.0,675.4 315.6,674.6 316.3,673.9 C316.9,673.1 317.6,672.3 318.2,671.6 C318.9,670.8 319.5,670.1 320.2,669.3 C320.9,668.5 321.5,667.8 322.2,667.0 C322.8,666.3 323.5,665.5 324.2,664.8 C324.8,664.0 325.5,663.3 326.2,662.5 C326.8,661.8 327.5,661.0 328.2,660.3 C328.9,659.5 329.5,658.8 330.2,658.0 C330.9,657.3 331.6,656.6 332.3,655.8 C332.9,655.1 333.6,654.4 334.3,653.6 C335.0,652.9 335.7,652.2 336.4,651.5 C337.1,650.7 337.8,650.0 338.5,649.3 C339.2,648.6 339.9,647.8 340.6,647.1 C341.3,646.4 342.0,645.7 342.7,645.0 C343.4,644.3 344.1,643.6 344.8,642.9 C345.5,642.2 346.2,641.5 347.0,640.8 C347.7,640.1 348.4,639.4 349.1,638.7 C349.8,638.0 350.6,637.3 351.3,636.6 C352.0,635.9 352.8,635.2 353.5,634.5 C354.2,633.8 355.0,633.1 355.7,632.5 C356.4,631.8 357.2,631.1 357.9,630.4 C358.7,629.7 359.4,629.1 360.1,628.4 C360.9,627.7 361.6,627.1 362.4,626.4 C363.1,625.7 363.9,625.1 364.7,624.4 C365.4,623.7 366.2,623.1 366.9,622.4 C367.7,621.8 368.5,621.1 369.2,620.5 C370.0,619.8 370.8,619.2 371.5,618.6 C372.3,617.9 373.1,617.3 373.9,616.6 C374.6,616.0 375.4,615.4 376.2,614.7 C377.0,614.1 377.8,613.5 378.5,612.9 C379.3,612.2 380.1,611.6 380.9,611.0 C381.7,610.4 382.5,609.8 383.3,609.1 C384.1,608.5 384.9,607.9 385.7,607.3 C386.5,606.7 387.3,606.1 388.1,605.5 C388.9,604.9 389.7,604.3 390.5,603.7 C391.3,603.1 392.1,602.5 392.9,601.9 C393.7,601.3 394.6,600.8 395.4,600.2 C396.2,599.6 397.0,599.0 397.8,598.4 C398.7,597.9 399.5,597.3 400.3,596.7 C401.1,596.2 402.0,595.6 402.8,595.0 C403.6,594.5 404.5,593.9 405.3,593.3 C406.1,592.8 407.0,592.2 407.8,591.7 C408.6,591.1 409.5,590.6 410.3,590.0 C411.2,589.5 412.0,588.9 412.9,588.4 C413.7,587.9 414.6,587.3 415.4,586.8 C416.3,586.3 417.1,585.7 418.0,585.2 C418.8,584.7 419.7,584.2 420.5,583.7 C421.4,583.1 422.3,582.6 423.1,582.1 C424.0,581.6 424.8,581.1 425.7,580.6 C426.6,580.1 427.4,579.6 428.3,579.1 C429.2,578.6 430.1,578.1 430.9,577.6 C431.8,577.1 432.7,576.6 433.6,576.1 C434.4,575.6 435.3,575.1 436.2,574.7 C437.1,574.2 438.0,573.7 438.9,573.2 C439.7,572.8 440.6,572.3 441.5,571.8 C442.4,571.4 443.3,570.9 444.2,570.4 C445.1,570.0 446.0,569.5 446.9,569.1 C447.8,568.6 448.7,568.2 449.6,567.7 C450.5,567.3 451.4,566.8 452.3,566.4 C453.2,566.0 454.1,565.5 455.0,565.1 C455.9,564.7 456.8,564.2 457.7,563.8 C458.6,563.4 459.5,563.0 460.4,562.5 C461.3,562.1 462.3,561.7 463.2,561.3 C464.1,560.9 465.0,560.5 465.9,560.1 C466.8,559.7 467.8,559.3 468.7,558.9 C469.6,558.5 470.5,558.1 471.5,557.7 C472.4,557.3 473.3,556.9 474.2,556.5 C475.2,556.1 476.1,555.8 477.0,555.4 C477.9,555.0 478.9,554.6 479.8,554.3 C480.7,553.9 481.7,553.5 482.6,553.2 C483.6,552.8 484.5,552.4 485.4,552.1 C486.4,551.7 487.3,551.4 488.2,551.0 C489.2,550.7 490.1,550.3 491.1,550.0 C492.0,549.7 493.0,549.3 493.9,549.0 C494.9,548.7 495.8,548.3 496.8,548.0 C497.7,547.7 498.7,547.4 499.6,547.0 C500.6,546.7 501.5,546.4 502.5,546.1 C503.4,545.8 504.4,545.5 505.3,545.2 C506.3,544.9 507.2,544.6 508.2,544.3 C509.2,544.0 510.1,543.7 511.1,543.4 C512.0,543.1 513.0,542.8 514.0,542.5 C514.9,542.2 515.9,542.0 516.9,541.7 C517.8,541.4 518.8,541.1 519.8,540.9 C520.7,540.6 522.2,540.2 522.7,540.1"/>
<path d="M1115.4,618.5 C1115.2,619.0 1114.8,620.5 1114.6,621.5 C1114.4,622.5 1114.2,623.5 1114.1,624.5 C1113.9,625.5 1113.8,626.5 1113.7,627.5 C1113.5,628.6 1113.5,629.6 1113.4,630.6 C1113.4,631.6 1113.3,632.6 1113.3,633.7 C1113.3,634.7 1113.3,635.7 1113.4,636.7 C1113.4,637.7 1113.5,638.8 1113.5,639.8 C1113.6,640.8 1113.7,641.8 1113.9,642.8 C1114.0,643.8 1114.1,644.8 1114.3,645.9 C1114.5,646.9 1114.6,647.9 1114.8,648.9 C1115.1,649.9 1115.3,650.9 1115.5,651.8 C1115.8,652.8 1116.1,653.8 1116.4,654.8 C1116.7,655.8 1117.0,656.7 1117.4,657.7 C1117.7,658.6 1118.1,659.6 1118.6,660.5 C1119.0,661.4 1119.5,662.3 1119.9,663.2 C1120.4,664.1 1121.0,665.0 1121.5,665.9 C1122.1,666.7 1122.7,667.5 1123.3,668.3 C1124.0,669.1 1125.0,670.2 1125.4,670.6"/>
<path d="M1115.6,618.5 C1115.8,619.0 1116.3,620.4 1116.7,621.3 C1117.1,622.3 1117.4,623.2 1117.8,624.2 C1118.2,625.1 1118.6,626.1 1119.0,627.0 C1119.3,627.9 1119.7,628.9 1120.1,629.8 C1120.5,630.7 1120.9,631.7 1121.2,632.6 C1121.6,633.6 1122.0,634.5 1122.3,635.5 C1122.7,636.4 1123.1,637.4 1123.4,638.3 C1123.7,639.3 1124.1,640.2 1124.4,641.2 C1124.7,642.1 1125.0,643.1 1125.3,644.1 C1125.6,645.1 1125.8,646.0 1126.1,647.0 C1126.3,648.0 1126.5,649.0 1126.7,650.0 C1126.9,651.0 1127.1,652.0 1127.2,653.0 C1127.4,654.0 1127.5,655.0 1127.5,656.0 C1127.6,657.0 1127.6,658.0 1127.6,659.1 C1127.6,660.1 1127.6,661.1 1127.5,662.1 C1127.4,663.1 1127.2,664.1 1127.1,665.1 C1126.9,666.1 1126.6,667.1 1126.4,668.1 C1126.2,669.1 1126.0,670.1 1125.9,671.1 C1125.7,672.1 1125.6,673.1 1125.6,674.1 C1125.6,675.1 1125.6,676.1 1125.9,677.1 C1126.1,678.1 1126.5,679.1 1127.0,679.9 C1127.4,680.8 1128.4,682.0 1128.7,682.4"/>
<path d="M530.6,527.3 L522.4,539.8"/>
</g>
<line x1="138.0" y1="871.6" x2="1213.6" y2="643.2" stroke="#000" stroke-width="1" shape-rendering="crispEdges" stroke-dasharray="118.9 10.3 1.2 9.65"/>
<g fill="#000" stroke="none" shape-rendering="crispEdges">
<polygon points="176.5,285.0 179.9,285.0 179.9,284.2 187.9,284.2 187.9,283.0 196.0,283.0 196.0,282.1 199.8,282.1 199.8,283.6 198.5,283.6 198.5,285.0 198.5,286.0 198.5,287.4 199.8,287.4 199.8,288.9 196.0,288.9 196.0,288.0 187.9,288.0 187.9,286.8 179.9,286.8 179.9,286.0 176.5,286.0"/>
<polygon points="1180.5,286.0 1177.1,286.0 1177.1,286.8 1169.1,286.8 1169.1,288.0 1161.0,288.0 1161.0,288.9 1157.2,288.9 1157.2,287.4 1158.5,287.4 1158.5,286.0 1158.5,285.0 1158.5,283.6 1157.2,283.6 1157.2,282.1 1161.0,282.1 1161.0,283.0 1169.1,283.0 1169.1,284.2 1177.1,284.2 1177.1,285.0 1180.5,285.0"/>
<polygon points="176.5,349.0 179.9,349.0 179.9,348.2 187.9,348.2 187.9,347.0 196.0,347.0 196.0,346.1 199.8,346.1 199.8,347.6 198.5,347.6 198.5,349.0 198.5,350.0 198.5,351.4 199.8,351.4 199.8,352.9 196.0,352.9 196.0,352.0 187.9,352.0 187.9,350.8 179.9,350.8 179.9,350.0 176.5,350.0"/>
<polygon points="885.5,350.0 882.1,350.0 882.1,350.8 874.1,350.8 874.1,352.0 866.0,352.0 866.0,352.9 862.2,352.9 862.2,351.4 863.5,351.4 863.5,350.0 863.5,349.0 863.5,347.6 862.2,347.6 862.2,346.1 866.0,346.1 866.0,347.0 874.1,347.0 874.1,348.2 882.1,348.2 882.1,349.0 885.5,349.0"/>
<polygon points="885.5,349.0 888.9,349.0 888.9,348.2 896.9,348.2 896.9,347.0 905.0,347.0 905.0,346.1 908.8,346.1 908.8,347.6 907.5,347.6 907.5,349.0 907.5,350.0 907.5,351.4 908.8,351.4 908.8,352.9 905.0,352.9 905.0,352.0 896.9,352.0 896.9,350.8 888.9,350.8 888.9,350.0 885.5,350.0"/>
<polygon points="944.5,350.0 941.1,350.0 941.1,350.8 933.1,350.8 933.1,352.0 925.0,352.0 925.0,352.9 921.2,352.9 921.2,351.4 922.5,351.4 922.5,350.0 922.5,349.0 922.5,347.6 921.2,347.6 921.2,346.1 925.0,346.1 925.0,347.0 933.1,347.0 933.1,348.2 941.1,348.2 941.1,349.0 944.5,349.0"/>
<polygon points="968.5,442.0 971.9,442.0 971.9,441.2 979.9,441.2 979.9,440.0 988.0,440.0 988.0,439.1 991.8,439.1 991.8,440.6 990.5,440.6 990.5,442.0 990.5,443.0 990.5,444.4 991.8,444.4 991.8,445.9 988.0,445.9 988.0,445.0 979.9,445.0 979.9,443.8 971.9,443.8 971.9,443.0 968.5,443.0"/>
<polygon points="1180.5,443.0 1177.1,443.0 1177.1,443.8 1169.1,443.8 1169.1,445.0 1161.0,445.0 1161.0,445.9 1157.2,445.9 1157.2,444.4 1158.5,444.4 1158.5,443.0 1158.5,442.0 1158.5,440.6 1157.2,440.6 1157.2,439.1 1161.0,439.1 1161.0,440.0 1169.1,440.0 1169.1,441.2 1177.1,441.2 1177.1,442.0 1180.5,442.0"/>
<polygon points="63.0,480.5 63.0,483.9 63.8,483.9 63.8,491.9 65.0,491.9 65.0,500.0 65.9,500.0 65.9,503.8 64.4,503.8 64.4,502.5 63.0,502.5 62.0,502.5 60.6,502.5 60.6,503.8 59.1,503.8 59.1,500.0 60.0,500.0 60.0,491.9 61.2,491.9 61.2,483.9 62.0,483.9 62.0,480.5"/>
<polygon points="62.0,1011.5 62.0,1008.1 61.2,1008.1 61.2,1000.1 60.0,1000.1 60.0,992.0 59.1,992.0 59.1,988.2 60.6,988.2 60.6,989.5 62.0,989.5 63.0,989.5 64.4,989.5 64.4,988.2 65.9,988.2 65.9,992.0 65.0,992.0 65.0,1000.1 63.8,1000.1 63.8,1008.1 63.0,1008.1 63.0,1011.5"/>
<polygon points="108.0,480.5 108.0,483.9 108.8,483.9 108.8,491.9 110.0,491.9 110.0,500.0 110.9,500.0 110.9,503.8 109.4,503.8 109.4,502.5 108.0,502.5 107.0,502.5 105.6,502.5 105.6,503.8 104.1,503.8 104.1,500.0 105.0,500.0 105.0,491.9 106.2,491.9 106.2,483.9 107.0,483.9 107.0,480.5"/>
<polygon points="107.0,952.5 107.0,949.1 106.2,949.1 106.2,941.1 105.0,941.1 105.0,933.0 104.1,933.0 104.1,929.2 105.6,929.2 105.6,930.5 107.0,930.5 108.0,930.5 109.4,930.5 109.4,929.2 110.9,929.2 110.9,933.0 110.0,933.0 110.0,941.1 108.8,941.1 108.8,949.1 108.0,949.1 108.0,952.5"/>
<polygon points="1231.0,480.5 1231.0,483.9 1231.8,483.9 1231.8,491.9 1233.0,491.9 1233.0,500.0 1233.9,500.0 1233.9,503.8 1232.4,503.8 1232.4,502.5 1231.0,502.5 1230.0,502.5 1228.6,502.5 1228.6,503.8 1227.1,503.8 1227.1,500.0 1228.0,500.0 1228.0,491.9 1229.2,491.9 1229.2,483.9 1230.0,483.9 1230.0,480.5"/>
<polygon points="1230.0,695.5 1230.0,692.1 1229.2,692.1 1229.2,684.1 1228.0,684.1 1228.0,676.0 1227.1,676.0 1227.1,672.2 1228.6,672.2 1228.6,673.5 1230.0,673.5 1231.0,673.5 1232.4,673.5 1232.4,672.2 1233.9,672.2 1233.9,676.0 1233.0,676.0 1233.0,684.1 1231.8,684.1 1231.8,692.1 1231.0,692.1 1231.0,695.5"/>
<polygon points="884.5,479.3 862.3,469.7 865.3,464.6"/>
<polygon points="943.5,479.3 919.7,475.1 921.5,469.3"/>
<polygon points="175.5,954.0 166.9,976.6 161.6,973.8"/>
</g>
<path d="M882,442.5 h7.8 v33.5 l-3.9,3.6 l-3.9,-3.6 z" fill="#555" stroke="#333" stroke-width="0.8"/>
<line x1="885.5" y1="442" x2="885.5" y2="479" stroke="#222" stroke-width="1"/>
<path d="M941.2,442.5 h7.8 v33.5 l-3.9,3.6 l-3.9,-3.6 z" fill="#222" stroke="#111" stroke-width="0.8"/>
<g stroke="#000" stroke-width="1" shape-rendering="crispEdges"><line x1="818.5" y1="440.5" x2="885" y2="479.5"/><line x1="818.5" y1="440.5" x2="944" y2="479.5"/></g>
<path d="M137.8,949.3 H172.5 L176,952.8 L171,956.8 H137.8 Z" fill="#222"/>
<path d="M968.2,695.6 L964.5,678.4 A17.6,17.6 0 0 1 985.4,691.9 Z" fill="#000"/>
<path d="M968.2,695.6 L971.9,712.8 A17.6,17.6 0 0 1 951.0,699.3 Z" fill="#000"/>
<circle cx="968.2" cy="695.6" r="17.6" fill="none" stroke="#000" stroke-width="1.1"/>
<line x1="962.2" y1="667.2" x2="974.5" y2="725.4" stroke="#000" stroke-width="1.1"/>
<line x1="950.0" y1="699.5" x2="986.4" y2="691.7" stroke="#000" stroke-width="1.1"/>
<text transform="matrix(1.0000,0,0,1.0400,0,0)" x="262.57" y="68.27" font-size="42.30" letter-spacing="0.011">Подключение электропитания, гор. и хол.</text>
<text transform="matrix(1.0000,0,0,1.0400,0,0)" x="262.07" y="118.27" font-size="42.30" letter-spacing="-0.023">воды, точка выпуска канализации ванны</text>
<text transform="matrix(1.0000,0,0,1.0400,0,0)" x="461.53" y="168.27" font-size="42.30" letter-spacing="0.047">Б Е Т Т А</text>
<text transform="matrix(1.0000,0,0,1.0400,0,0)" x="658.69" y="168.27" font-size="42.30" letter-spacing="-1.859"> 70</text>
<path transform="matrix(0.02065,0,0,-0.02065,658.69,175.00)" d="M763,0 L583,0 L583,1147 Q518,1085 412,1023 Q306,961 223,930 L223,1104 Q372,1174 484,1274 Q596,1374 643,1466 L763,1466 Z"/>
<text transform="matrix(1.0000,0,0,1.0400,0,0)" x="755.00" y="168.27" font-size="42.30" letter-spacing="0.000">(</text>
<text transform="matrix(1.0000,0,0,1.0400,0,0)" x="780.77" y="168.27" font-size="42.30" letter-spacing="-1.109">левый)</text>
<text transform="matrix(1.0000,0,0,1.0400,0,0)" x="644.67" y="260.38" font-size="28.70" letter-spacing="0.167"> 700</text>
<path transform="matrix(0.01401,0,0,-0.01401,644.67,270.80)" d="M763,0 L583,0 L583,1147 Q518,1085 412,1023 Q306,961 223,930 L223,1104 Q372,1174 484,1274 Q596,1374 643,1466 L763,1466 Z"/>
<text transform="matrix(1.0000,0,0,1.0400,0,0)" x="485.87" y="322.02" font-size="28.70" letter-spacing="0.100"> 200</text>
<path transform="matrix(0.01401,0,0,-0.01401,485.87,334.90)" d="M763,0 L583,0 L583,1147 Q518,1085 412,1023 Q306,961 223,930 L223,1104 Q372,1174 484,1274 Q596,1374 643,1466 L763,1466 Z"/>
<text transform="matrix(1.0000,0,0,1.0400,0,0)" x="972.67" y="321.73" font-size="28.70" letter-spacing="0.281"> 00</text>
<path transform="matrix(0.01401,0,0,-0.01401,972.67,334.60)" d="M763,0 L583,0 L583,1147 Q518,1085 412,1023 Q306,961 223,930 L223,1104 Q372,1174 484,1274 Q596,1374 643,1466 L763,1466 Z"/>
<text transform="matrix(1.0000,0,0,1.0400,0,0)" x="1041.24" y="410.38" font-size="28.70" letter-spacing="0.098">4 0</text>
<path transform="matrix(0.01401,0,0,-0.01401,1057.30,426.80)" d="M763,0 L583,0 L583,1147 Q518,1085 412,1023 Q306,961 223,930 L223,1104 Q372,1174 484,1274 Q596,1374 643,1466 L763,1466 Z"/>
<text transform="translate(47.70,770.40) rotate(-90) scale(1.0000,1.0400)" font-size="28.70" letter-spacing="0.000">900</text>
<text transform="translate(92.60,746.20) rotate(-90) scale(1.0000,1.0400)" font-size="28.70" letter-spacing="0.000">800</text>
<text transform="translate(1216.00,618.20) rotate(-90) scale(1.0000,1.0400)" font-size="28.70" letter-spacing="0.000">370</text>
<text x="553.98" y="327.96" font-size="20.0" style="stroke:#000;stroke-width:0.7">*</text>
<text x="565.18" y="327.96" font-size="20.0" style="stroke:#000;stroke-width:0.7">*</text>
<text x="1023.98" y="327.76" font-size="20.0" style="stroke:#000;stroke-width:0.7">*</text>
<text x="1036.28" y="327.76" font-size="20.0" style="stroke:#000;stroke-width:0.7">*</text>
<text x="784.28" y="425.76" font-size="20.0" style="stroke:#000;stroke-width:0.7">*</text>
<text x="797.28" y="425.76" font-size="20.0" style="stroke:#000;stroke-width:0.7">*</text>
<text x="444.78" y="1107.76" font-size="20.0" style="stroke:#000;stroke-width:0.7">*</text>
<text transform="translate(85.76,694.82) rotate(-90)" font-size="20" style="stroke:#000;stroke-width:0.7">*</text>
<text x="1092.00" y="413.20" font-size="10.0" style="fill:#a0a0a0">*1</text>
<text transform="translate(1202.50,566.50) rotate(-90)" font-size="10.0" style="fill:#a0a0a0">*1</text>
<text transform="matrix(0.8700,0,0,1.0400,0,0)" x="514.89" y="417.12" font-size="29.00" letter-spacing="2.418">Подвод гор. и хол. воды</text>
<text transform="matrix(0.8700,0,0,1.0400,0,0)" x="127.19" y="1072.88" font-size="29.00" letter-spacing="2.680">Подвод электропитания</text>
<text transform="matrix(0.9500,0,0,1.0400,0,0)" x="290.58" y="1262.31" font-size="28.50" letter-spacing="0.884"> .</text>
<path transform="matrix(0.01322,0,0,-0.01392,276.05,1312.80)" d="M763,0 L583,0 L583,1147 Q518,1085 412,1023 Q306,961 223,930 L223,1104 Q372,1174 484,1274 Q596,1374 643,1466 L763,1466 Z"/>
<text x="312.68" y="1306.76" font-size="20.0" style="stroke:#000;stroke-width:0.7">*</text>
<text transform="matrix(0.9500,0,0,1.0400,0,0)" x="339.56" y="1262.31" font-size="28.50" letter-spacing="1.282">Высота подводки эл. питания от пола - 400 мм, подключе-</text>
<text transform="matrix(0.9500,0,0,1.0400,0,0)" x="316.34" y="1297.02" font-size="28.50" letter-spacing="1.307">ние - 3-х жильным кабелем с двойной изоляцией сечением</text>
<text transform="matrix(0.9500,0,0,1.0400,0,0)" x="316.34" y="1332.88" font-size="28.50" letter-spacing="1.248">не менее 2,5 кв.мм по меди.</text>
<text transform="matrix(0.9500,0,0,1.0400,0,0)" x="290.36" y="1366.92" font-size="28.50" letter-spacing="1.214">2.</text>
<text x="311.88" y="1414.16" font-size="20.0" style="stroke:#000;stroke-width:0.7">*</text>
<text x="323.28" y="1414.16" font-size="20.0" style="stroke:#000;stroke-width:0.7">*</text>
<text transform="matrix(0.9500,0,0,1.0400,0,0)" x="353.45" y="1366.92" font-size="28.50" letter-spacing="1.232">Высота подводки гор. и хол. воды от пола - 400 мм.</text>
<text transform="matrix(0.9500,0,0,1.0400,0,0)" x="291.02" y="1402.69" font-size="28.50" letter-spacing="0.551">3.</text>
<text x="311.00" y="1447.20" font-size="10.0" style="fill:#a0a0a0">*1</text>
<text transform="matrix(0.9500,0,0,1.0400,0,0)" x="341.45" y="1402.69" font-size="28.50" letter-spacing="1.348">На схеме показано выпускное канализационное отверстие</text>
<text transform="matrix(0.9500,0,0,1.0400,0,0)" x="324.55" y="1438.46" font-size="28.50" letter-spacing="1.499">на ванне.</text>
<text transform="matrix(0.9500,0,0,1.0400,0,0)" x="289.87" y="1473.08" font-size="28.50" letter-spacing="1.381">4. На схеме показано подключение воды при установке смесителя</text>
<text transform="matrix(0.9500,0,0,1.0400,0,0)" x="308.87" y="1508.17" font-size="28.50" letter-spacing="1.348">на борт ванны.</text>
</svg>
</body></html>
